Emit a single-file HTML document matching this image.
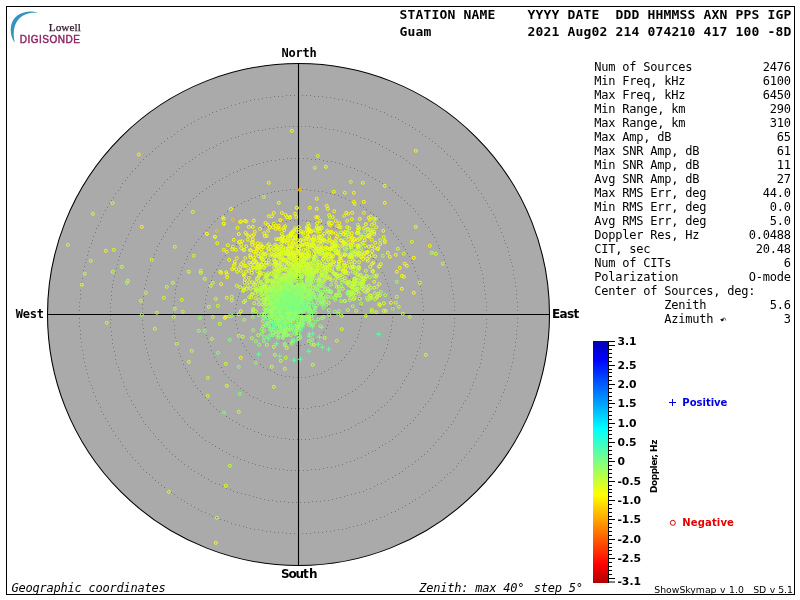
<!DOCTYPE html>
<html lang="en"><head><meta charset="utf-8"><title>Skymap</title>
<style>
html,body{margin:0;padding:0;background:#fff}
body{width:800px;height:600px;position:relative;overflow:hidden;color:#000}
svg{position:absolute;left:0;top:0}
</style></head><body>
<svg width="800" height="600" viewBox="0 0 800 600">
<defs><linearGradient id="cb" x1="0" y1="0" x2="0" y2="1">
<stop offset="0.0039" stop-color="#0000b4"/>
<stop offset="0.0759" stop-color="#0000ff"/>
<stop offset="0.1798" stop-color="#005cff"/>
<stop offset="0.2598" stop-color="#00a3ff"/>
<stop offset="0.3637" stop-color="#00ffff"/>
<stop offset="0.4197" stop-color="#34ffca"/>
<stop offset="0.4997" stop-color="#80ff80"/>
<stop offset="0.5796" stop-color="#cbff34"/>
<stop offset="0.6356" stop-color="#ffff00"/>
<stop offset="0.7395" stop-color="#ffa300"/>
<stop offset="0.8195" stop-color="#ff5c00"/>
<stop offset="0.9235" stop-color="#ff0000"/>
<stop offset="0.9954" stop-color="#b40000"/>
</linearGradient></defs>
<rect x="6.5" y="6.5" width="788" height="588" fill="none" stroke="#000" stroke-width="1"/>
<circle cx="298.5" cy="314.5" r="251.0" fill="#aaaaaa" stroke="#000" stroke-width="1.05"/>
<path d="M329 314h1v1h-1zM329 310h1v1h-1zM328 306h1v1h-1zM327 302h1v1h-1zM325 299h1v1h-1zM323 295h1v1h-1zM320 292h1v1h-1zM317 290h1v1h-1zM314 287h1v1h-1zM310 286h1v1h-1zM307 284h1v1h-1zM303 283h1v1h-1zM299 283h1v1h-1zM295 283h1v1h-1zM291 284h1v1h-1zM287 285h1v1h-1zM283 287h1v1h-1zM280 289h1v1h-1zM277 291h1v1h-1zM274 294h1v1h-1zM272 298h1v1h-1zM270 301h1v1h-1zM268 305h1v1h-1zM267 309h1v1h-1zM267 313h1v1h-1zM267 317h1v1h-1zM268 321h1v1h-1zM269 324h1v1h-1zM270 328h1v1h-1zM272 332h1v1h-1zM275 335h1v1h-1zM278 337h1v1h-1zM281 340h1v1h-1zM284 342h1v1h-1zM288 343h1v1h-1zM292 344h1v1h-1zM296 345h1v1h-1zM300 345h1v1h-1zM304 344h1v1h-1zM308 343h1v1h-1zM311 342h1v1h-1zM315 340h1v1h-1zM318 338h1v1h-1zM321 335h1v1h-1zM323 332h1v1h-1zM326 328h1v1h-1zM327 325h1v1h-1zM328 321h1v1h-1zM329 317h1v1h-1zM361 314h1v1h-1zM361 310h1v1h-1zM360 306h1v1h-1zM360 302h1v1h-1zM359 298h1v1h-1zM358 294h1v1h-1zM356 291h1v1h-1zM355 287h1v1h-1zM353 283h1v1h-1zM351 280h1v1h-1zM349 277h1v1h-1zM346 273h1v1h-1zM344 271h1v1h-1zM341 268h1v1h-1zM338 265h1v1h-1zM335 263h1v1h-1zM331 260h1v1h-1zM328 258h1v1h-1zM324 257h1v1h-1zM320 255h1v1h-1zM317 254h1v1h-1zM313 253h1v1h-1zM309 252h1v1h-1zM305 251h1v1h-1zM301 251h1v1h-1zM297 251h1v1h-1zM293 251h1v1h-1zM289 252h1v1h-1zM285 252h1v1h-1zM281 253h1v1h-1zM277 254h1v1h-1zM274 256h1v1h-1zM270 258h1v1h-1zM266 259h1v1h-1zM263 262h1v1h-1zM260 264h1v1h-1zM257 266h1v1h-1zM254 269h1v1h-1zM251 272h1v1h-1zM248 275h1v1h-1zM246 278h1v1h-1zM244 282h1v1h-1zM242 285h1v1h-1zM240 289h1v1h-1zM239 293h1v1h-1zM238 296h1v1h-1zM237 300h1v1h-1zM236 304h1v1h-1zM235 308h1v1h-1zM235 312h1v1h-1zM235 316h1v1h-1zM235 320h1v1h-1zM236 324h1v1h-1zM237 328h1v1h-1zM238 332h1v1h-1zM239 336h1v1h-1zM240 339h1v1h-1zM242 343h1v1h-1zM244 346h1v1h-1zM246 350h1v1h-1zM249 353h1v1h-1zM251 356h1v1h-1zM254 359h1v1h-1zM257 362h1v1h-1zM260 364h1v1h-1zM263 367h1v1h-1zM267 369h1v1h-1zM270 370h1v1h-1zM274 372h1v1h-1zM277 374h1v1h-1zM281 375h1v1h-1zM285 376h1v1h-1zM289 376h1v1h-1zM293 377h1v1h-1zM297 377h1v1h-1zM301 377h1v1h-1zM305 377h1v1h-1zM309 376h1v1h-1zM313 375h1v1h-1zM317 374h1v1h-1zM321 373h1v1h-1zM324 371h1v1h-1zM328 369h1v1h-1zM331 367h1v1h-1zM335 365h1v1h-1zM338 363h1v1h-1zM341 360h1v1h-1zM344 357h1v1h-1zM346 354h1v1h-1zM349 351h1v1h-1zM351 348h1v1h-1zM353 345h1v1h-1zM355 341h1v1h-1zM357 337h1v1h-1zM358 334h1v1h-1zM359 330h1v1h-1zM360 326h1v1h-1zM361 322h1v1h-1zM361 318h1v1h-1zM392 314h1v1h-1zM392 310h1v1h-1zM392 306h1v1h-1zM391 302h1v1h-1zM391 298h1v1h-1zM390 294h1v1h-1zM389 290h1v1h-1zM388 286h1v1h-1zM387 283h1v1h-1zM385 279h1v1h-1zM384 275h1v1h-1zM382 272h1v1h-1zM380 268h1v1h-1zM378 265h1v1h-1zM376 261h1v1h-1zM373 258h1v1h-1zM371 255h1v1h-1zM368 252h1v1h-1zM366 249h1v1h-1zM363 246h1v1h-1zM360 243h1v1h-1zM357 241h1v1h-1zM354 238h1v1h-1zM350 236h1v1h-1zM347 234h1v1h-1zM344 232h1v1h-1zM340 230h1v1h-1zM336 228h1v1h-1zM333 227h1v1h-1zM329 225h1v1h-1zM325 224h1v1h-1zM321 223h1v1h-1zM318 222h1v1h-1zM314 221h1v1h-1zM310 221h1v1h-1zM306 220h1v1h-1zM302 220h1v1h-1zM298 220h1v1h-1zM294 220h1v1h-1zM290 220h1v1h-1zM286 221h1v1h-1zM282 221h1v1h-1zM278 222h1v1h-1zM274 223h1v1h-1zM270 224h1v1h-1zM266 226h1v1h-1zM263 227h1v1h-1zM259 229h1v1h-1zM255 230h1v1h-1zM252 232h1v1h-1zM248 234h1v1h-1zM245 236h1v1h-1zM242 239h1v1h-1zM239 241h1v1h-1zM236 244h1v1h-1zM233 246h1v1h-1zM230 249h1v1h-1zM227 252h1v1h-1zM225 255h1v1h-1zM222 259h1v1h-1zM220 262h1v1h-1zM218 265h1v1h-1zM216 269h1v1h-1zM214 272h1v1h-1zM212 276h1v1h-1zM211 280h1v1h-1zM209 283h1v1h-1zM208 287h1v1h-1zM207 291h1v1h-1zM206 295h1v1h-1zM205 299h1v1h-1zM205 303h1v1h-1zM204 307h1v1h-1zM204 311h1v1h-1zM204 315h1v1h-1zM204 319h1v1h-1zM204 323h1v1h-1zM205 327h1v1h-1zM205 331h1v1h-1zM206 335h1v1h-1zM207 338h1v1h-1zM208 342h1v1h-1zM210 346h1v1h-1zM211 350h1v1h-1zM213 353h1v1h-1zM214 357h1v1h-1zM216 361h1v1h-1zM218 364h1v1h-1zM221 367h1v1h-1zM223 371h1v1h-1zM225 374h1v1h-1zM228 377h1v1h-1zM231 380h1v1h-1zM234 382h1v1h-1zM237 385h1v1h-1zM240 388h1v1h-1zM243 390h1v1h-1zM246 392h1v1h-1zM249 395h1v1h-1zM253 397h1v1h-1zM257 398h1v1h-1zM260 400h1v1h-1zM264 402h1v1h-1zM268 403h1v1h-1zM271 404h1v1h-1zM275 405h1v1h-1zM279 406h1v1h-1zM283 407h1v1h-1zM287 407h1v1h-1zM291 408h1v1h-1zM295 408h1v1h-1zM299 408h1v1h-1zM303 408h1v1h-1zM307 408h1v1h-1zM311 407h1v1h-1zM315 406h1v1h-1zM319 406h1v1h-1zM323 405h1v1h-1zM327 404h1v1h-1zM330 402h1v1h-1zM334 401h1v1h-1zM338 399h1v1h-1zM341 397h1v1h-1zM345 395h1v1h-1zM348 393h1v1h-1zM352 391h1v1h-1zM355 389h1v1h-1zM358 386h1v1h-1zM361 384h1v1h-1zM364 381h1v1h-1zM367 378h1v1h-1zM369 375h1v1h-1zM372 372h1v1h-1zM374 369h1v1h-1zM377 366h1v1h-1zM379 362h1v1h-1zM381 359h1v1h-1zM383 355h1v1h-1zM384 352h1v1h-1zM386 348h1v1h-1zM387 344h1v1h-1zM388 340h1v1h-1zM389 336h1v1h-1zM390 332h1v1h-1zM391 329h1v1h-1zM391 325h1v1h-1zM392 321h1v1h-1zM392 317h1v1h-1zM423 314h1v1h-1zM423 310h1v1h-1zM423 306h1v1h-1zM422 302h1v1h-1zM422 298h1v1h-1zM421 294h1v1h-1zM421 290h1v1h-1zM420 286h1v1h-1zM419 282h1v1h-1zM418 278h1v1h-1zM417 275h1v1h-1zM415 271h1v1h-1zM414 267h1v1h-1zM412 263h1v1h-1zM411 260h1v1h-1zM409 256h1v1h-1zM407 253h1v1h-1zM405 249h1v1h-1zM403 246h1v1h-1zM401 243h1v1h-1zM398 239h1v1h-1zM396 236h1v1h-1zM393 233h1v1h-1zM391 230h1v1h-1zM388 227h1v1h-1zM385 224h1v1h-1zM382 222h1v1h-1zM379 219h1v1h-1zM376 216h1v1h-1zM373 214h1v1h-1zM370 212h1v1h-1zM366 209h1v1h-1zM363 207h1v1h-1zM360 205h1v1h-1zM356 203h1v1h-1zM352 201h1v1h-1zM349 200h1v1h-1zM345 198h1v1h-1zM341 197h1v1h-1zM338 195h1v1h-1zM334 194h1v1h-1zM330 193h1v1h-1zM326 192h1v1h-1zM322 191h1v1h-1zM318 191h1v1h-1zM314 190h1v1h-1zM310 190h1v1h-1zM306 189h1v1h-1zM302 189h1v1h-1zM298 189h1v1h-1zM294 189h1v1h-1zM290 189h1v1h-1zM286 190h1v1h-1zM282 190h1v1h-1zM278 191h1v1h-1zM274 191h1v1h-1zM271 192h1v1h-1zM267 193h1v1h-1zM263 194h1v1h-1zM259 195h1v1h-1zM255 197h1v1h-1zM251 198h1v1h-1zM248 200h1v1h-1zM244 201h1v1h-1zM241 203h1v1h-1zM237 205h1v1h-1zM234 207h1v1h-1zM230 209h1v1h-1zM227 211h1v1h-1zM224 214h1v1h-1zM220 216h1v1h-1zM217 218h1v1h-1zM214 221h1v1h-1zM211 224h1v1h-1zM209 227h1v1h-1zM206 230h1v1h-1zM203 233h1v1h-1zM201 236h1v1h-1zM198 239h1v1h-1zM196 242h1v1h-1zM194 245h1v1h-1zM191 249h1v1h-1zM189 252h1v1h-1zM187 256h1v1h-1zM186 259h1v1h-1zM184 263h1v1h-1zM182 267h1v1h-1zM181 270h1v1h-1zM180 274h1v1h-1zM178 278h1v1h-1zM177 282h1v1h-1zM176 286h1v1h-1zM175 289h1v1h-1zM175 293h1v1h-1zM174 297h1v1h-1zM174 301h1v1h-1zM173 305h1v1h-1zM173 309h1v1h-1zM173 313h1v1h-1zM173 317h1v1h-1zM173 321h1v1h-1zM174 325h1v1h-1zM174 329h1v1h-1zM174 333h1v1h-1zM175 337h1v1h-1zM176 341h1v1h-1zM177 345h1v1h-1zM178 349h1v1h-1zM179 353h1v1h-1zM180 356h1v1h-1zM182 360h1v1h-1zM183 364h1v1h-1zM185 368h1v1h-1zM187 371h1v1h-1zM189 375h1v1h-1zM191 378h1v1h-1zM193 381h1v1h-1zM195 385h1v1h-1zM197 388h1v1h-1zM200 391h1v1h-1zM202 394h1v1h-1zM205 397h1v1h-1zM208 400h1v1h-1zM210 403h1v1h-1zM213 406h1v1h-1zM216 409h1v1h-1zM219 411h1v1h-1zM223 414h1v1h-1zM226 416h1v1h-1zM229 418h1v1h-1zM232 420h1v1h-1zM236 422h1v1h-1zM239 424h1v1h-1zM243 426h1v1h-1zM247 428h1v1h-1zM250 429h1v1h-1zM254 431h1v1h-1zM258 432h1v1h-1zM261 434h1v1h-1zM265 435h1v1h-1zM269 436h1v1h-1zM273 436h1v1h-1zM277 437h1v1h-1zM281 438h1v1h-1zM285 438h1v1h-1zM289 439h1v1h-1zM293 439h1v1h-1zM297 439h1v1h-1zM301 439h1v1h-1zM305 439h1v1h-1zM309 439h1v1h-1zM313 438h1v1h-1zM317 438h1v1h-1zM321 437h1v1h-1zM325 436h1v1h-1zM329 435h1v1h-1zM332 434h1v1h-1zM336 433h1v1h-1zM340 432h1v1h-1zM344 430h1v1h-1zM348 429h1v1h-1zM351 427h1v1h-1zM355 425h1v1h-1zM358 423h1v1h-1zM362 421h1v1h-1zM365 419h1v1h-1zM369 417h1v1h-1zM372 415h1v1h-1zM375 412h1v1h-1zM378 410h1v1h-1zM381 407h1v1h-1zM384 405h1v1h-1zM387 402h1v1h-1zM390 399h1v1h-1zM392 396h1v1h-1zM395 393h1v1h-1zM397 390h1v1h-1zM400 387h1v1h-1zM402 383h1v1h-1zM404 380h1v1h-1zM406 376h1v1h-1zM408 373h1v1h-1zM410 369h1v1h-1zM412 366h1v1h-1zM413 362h1v1h-1zM415 358h1v1h-1zM416 355h1v1h-1zM417 351h1v1h-1zM419 347h1v1h-1zM420 343h1v1h-1zM420 339h1v1h-1zM421 335h1v1h-1zM422 331h1v1h-1zM422 327h1v1h-1zM423 323h1v1h-1zM423 319h1v1h-1zM454 314h1v1h-1zM454 310h1v1h-1zM454 306h1v1h-1zM454 302h1v1h-1zM453 298h1v1h-1zM453 294h1v1h-1zM452 290h1v1h-1zM451 286h1v1h-1zM451 282h1v1h-1zM450 278h1v1h-1zM449 274h1v1h-1zM448 271h1v1h-1zM447 267h1v1h-1zM445 263h1v1h-1zM444 259h1v1h-1zM443 255h1v1h-1zM441 252h1v1h-1zM439 248h1v1h-1zM438 245h1v1h-1zM436 241h1v1h-1zM434 237h1v1h-1zM432 234h1v1h-1zM430 231h1v1h-1zM428 227h1v1h-1zM425 224h1v1h-1zM423 221h1v1h-1zM421 218h1v1h-1zM418 214h1v1h-1zM415 211h1v1h-1zM413 208h1v1h-1zM410 205h1v1h-1zM407 203h1v1h-1zM404 200h1v1h-1zM401 197h1v1h-1zM398 195h1v1h-1zM395 192h1v1h-1zM392 190h1v1h-1zM389 187h1v1h-1zM386 185h1v1h-1zM382 183h1v1h-1zM379 181h1v1h-1zM375 179h1v1h-1zM372 177h1v1h-1zM368 175h1v1h-1zM365 173h1v1h-1zM361 171h1v1h-1zM357 170h1v1h-1zM354 168h1v1h-1zM350 167h1v1h-1zM346 166h1v1h-1zM342 164h1v1h-1zM339 163h1v1h-1zM335 162h1v1h-1zM331 161h1v1h-1zM327 161h1v1h-1zM323 160h1v1h-1zM319 159h1v1h-1zM315 159h1v1h-1zM311 159h1v1h-1zM307 158h1v1h-1zM303 158h1v1h-1zM299 158h1v1h-1zM295 158h1v1h-1zM291 158h1v1h-1zM287 158h1v1h-1zM283 159h1v1h-1zM279 159h1v1h-1zM275 160h1v1h-1zM271 160h1v1h-1zM267 161h1v1h-1zM263 162h1v1h-1zM259 163h1v1h-1zM256 164h1v1h-1zM252 165h1v1h-1zM248 166h1v1h-1zM244 168h1v1h-1zM240 169h1v1h-1zM237 171h1v1h-1zM233 172h1v1h-1zM229 174h1v1h-1zM226 176h1v1h-1zM222 178h1v1h-1zM219 180h1v1h-1zM215 182h1v1h-1zM212 184h1v1h-1zM209 186h1v1h-1zM206 188h1v1h-1zM202 191h1v1h-1zM199 193h1v1h-1zM196 196h1v1h-1zM193 198h1v1h-1zM190 201h1v1h-1zM187 204h1v1h-1zM185 207h1v1h-1zM182 210h1v1h-1zM179 213h1v1h-1zM177 216h1v1h-1zM174 219h1v1h-1zM172 222h1v1h-1zM170 226h1v1h-1zM167 229h1v1h-1zM165 232h1v1h-1zM163 236h1v1h-1zM161 239h1v1h-1zM159 243h1v1h-1zM157 246h1v1h-1zM156 250h1v1h-1zM154 254h1v1h-1zM153 257h1v1h-1zM151 261h1v1h-1zM150 265h1v1h-1zM149 269h1v1h-1zM148 272h1v1h-1zM147 276h1v1h-1zM146 280h1v1h-1zM145 284h1v1h-1zM144 288h1v1h-1zM144 292h1v1h-1zM143 296h1v1h-1zM143 300h1v1h-1zM142 304h1v1h-1zM142 308h1v1h-1zM142 312h1v1h-1zM142 316h1v1h-1zM142 320h1v1h-1zM142 324h1v1h-1zM143 328h1v1h-1zM143 332h1v1h-1zM144 336h1v1h-1zM144 340h1v1h-1zM145 344h1v1h-1zM146 348h1v1h-1zM147 352h1v1h-1zM148 355h1v1h-1zM149 359h1v1h-1zM150 363h1v1h-1zM151 367h1v1h-1zM153 371h1v1h-1zM154 374h1v1h-1zM156 378h1v1h-1zM157 382h1v1h-1zM159 385h1v1h-1zM161 389h1v1h-1zM163 392h1v1h-1zM165 396h1v1h-1zM167 399h1v1h-1zM169 402h1v1h-1zM172 406h1v1h-1zM174 409h1v1h-1zM177 412h1v1h-1zM179 415h1v1h-1zM182 418h1v1h-1zM184 421h1v1h-1zM187 424h1v1h-1zM190 427h1v1h-1zM193 429h1v1h-1zM196 432h1v1h-1zM199 435h1v1h-1zM202 437h1v1h-1zM205 440h1v1h-1zM209 442h1v1h-1zM212 444h1v1h-1zM215 446h1v1h-1zM219 448h1v1h-1zM222 450h1v1h-1zM226 452h1v1h-1zM229 454h1v1h-1zM233 456h1v1h-1zM237 457h1v1h-1zM240 459h1v1h-1zM244 460h1v1h-1zM248 462h1v1h-1zM252 463h1v1h-1zM255 464h1v1h-1zM259 465h1v1h-1zM263 466h1v1h-1zM267 467h1v1h-1zM271 468h1v1h-1zM275 468h1v1h-1zM279 469h1v1h-1zM283 469h1v1h-1zM287 470h1v1h-1zM291 470h1v1h-1zM295 470h1v1h-1zM299 470h1v1h-1zM303 470h1v1h-1zM307 470h1v1h-1zM311 469h1v1h-1zM315 469h1v1h-1zM319 469h1v1h-1zM323 468h1v1h-1zM327 467h1v1h-1zM331 467h1v1h-1zM335 466h1v1h-1zM338 465h1v1h-1zM342 464h1v1h-1zM346 462h1v1h-1zM350 461h1v1h-1zM354 460h1v1h-1zM357 458h1v1h-1zM361 457h1v1h-1zM365 455h1v1h-1zM368 453h1v1h-1zM372 451h1v1h-1zM375 450h1v1h-1zM379 447h1v1h-1zM382 445h1v1h-1zM385 443h1v1h-1zM389 441h1v1h-1zM392 439h1v1h-1zM395 436h1v1h-1zM398 434h1v1h-1zM401 431h1v1h-1zM404 428h1v1h-1zM407 425h1v1h-1zM410 423h1v1h-1zM413 420h1v1h-1zM415 417h1v1h-1zM418 414h1v1h-1zM420 411h1v1h-1zM423 407h1v1h-1zM425 404h1v1h-1zM428 401h1v1h-1zM430 398h1v1h-1zM432 394h1v1h-1zM434 391h1v1h-1zM436 387h1v1h-1zM438 384h1v1h-1zM439 380h1v1h-1zM441 376h1v1h-1zM443 373h1v1h-1zM444 369h1v1h-1zM445 365h1v1h-1zM447 361h1v1h-1zM448 358h1v1h-1zM449 354h1v1h-1zM450 350h1v1h-1zM451 346h1v1h-1zM451 342h1v1h-1zM452 338h1v1h-1zM453 334h1v1h-1zM453 330h1v1h-1zM454 326h1v1h-1zM454 322h1v1h-1zM454 318h1v1h-1zM486 314h1v1h-1zM486 310h1v1h-1zM486 306h1v1h-1zM486 302h1v1h-1zM485 298h1v1h-1zM485 294h1v1h-1zM484 290h1v1h-1zM484 286h1v1h-1zM483 282h1v1h-1zM483 278h1v1h-1zM482 274h1v1h-1zM481 270h1v1h-1zM480 267h1v1h-1zM479 263h1v1h-1zM478 259h1v1h-1zM477 255h1v1h-1zM475 251h1v1h-1zM474 247h1v1h-1zM472 244h1v1h-1zM471 240h1v1h-1zM469 236h1v1h-1zM468 233h1v1h-1zM466 229h1v1h-1zM464 226h1v1h-1zM462 222h1v1h-1zM460 219h1v1h-1zM458 215h1v1h-1zM456 212h1v1h-1zM454 209h1v1h-1zM451 205h1v1h-1zM449 202h1v1h-1zM447 199h1v1h-1zM444 196h1v1h-1zM442 193h1v1h-1zM439 190h1v1h-1zM436 187h1v1h-1zM433 184h1v1h-1zM431 181h1v1h-1zM428 178h1v1h-1zM425 175h1v1h-1zM422 173h1v1h-1zM419 170h1v1h-1zM416 167h1v1h-1zM413 165h1v1h-1zM409 163h1v1h-1zM406 160h1v1h-1zM403 158h1v1h-1zM400 156h1v1h-1zM396 154h1v1h-1zM393 152h1v1h-1zM389 150h1v1h-1zM386 148h1v1h-1zM382 146h1v1h-1zM379 144h1v1h-1zM375 142h1v1h-1zM371 141h1v1h-1zM368 139h1v1h-1zM364 138h1v1h-1zM360 137h1v1h-1zM356 135h1v1h-1zM353 134h1v1h-1zM349 133h1v1h-1zM345 132h1v1h-1zM341 131h1v1h-1zM337 130h1v1h-1zM333 129h1v1h-1zM329 129h1v1h-1zM325 128h1v1h-1zM321 127h1v1h-1zM317 127h1v1h-1zM313 127h1v1h-1zM309 126h1v1h-1zM305 126h1v1h-1zM301 126h1v1h-1zM297 126h1v1h-1zM293 126h1v1h-1zM289 126h1v1h-1zM285 126h1v1h-1zM281 127h1v1h-1zM277 127h1v1h-1zM273 128h1v1h-1zM269 128h1v1h-1zM265 129h1v1h-1zM262 130h1v1h-1zM258 130h1v1h-1zM254 131h1v1h-1zM250 132h1v1h-1zM246 133h1v1h-1zM242 134h1v1h-1zM238 136h1v1h-1zM235 137h1v1h-1zM231 138h1v1h-1zM227 140h1v1h-1zM223 141h1v1h-1zM220 143h1v1h-1zM216 145h1v1h-1zM213 147h1v1h-1zM209 148h1v1h-1zM206 150h1v1h-1zM202 152h1v1h-1zM199 154h1v1h-1zM195 157h1v1h-1zM192 159h1v1h-1zM189 161h1v1h-1zM185 163h1v1h-1zM182 166h1v1h-1zM179 168h1v1h-1zM176 171h1v1h-1zM173 174h1v1h-1zM170 176h1v1h-1zM167 179h1v1h-1zM164 182h1v1h-1zM162 185h1v1h-1zM159 188h1v1h-1zM156 191h1v1h-1zM154 194h1v1h-1zM151 197h1v1h-1zM149 200h1v1h-1zM146 203h1v1h-1zM144 206h1v1h-1zM142 210h1v1h-1zM139 213h1v1h-1zM137 216h1v1h-1zM135 220h1v1h-1zM133 223h1v1h-1zM131 227h1v1h-1zM130 230h1v1h-1zM128 234h1v1h-1zM126 238h1v1h-1zM125 241h1v1h-1zM123 245h1v1h-1zM122 249h1v1h-1zM120 253h1v1h-1zM119 256h1v1h-1zM118 260h1v1h-1zM117 264h1v1h-1zM116 268h1v1h-1zM115 272h1v1h-1zM114 276h1v1h-1zM113 280h1v1h-1zM112 284h1v1h-1zM112 287h1v1h-1zM111 291h1v1h-1zM111 295h1v1h-1zM111 299h1v1h-1zM110 303h1v1h-1zM110 307h1v1h-1zM110 311h1v1h-1zM110 315h1v1h-1zM110 319h1v1h-1zM110 323h1v1h-1zM110 327h1v1h-1zM111 331h1v1h-1zM111 335h1v1h-1zM112 339h1v1h-1zM112 343h1v1h-1zM113 347h1v1h-1zM114 351h1v1h-1zM115 355h1v1h-1zM115 359h1v1h-1zM116 363h1v1h-1zM118 367h1v1h-1zM119 370h1v1h-1zM120 374h1v1h-1zM121 378h1v1h-1zM123 382h1v1h-1zM124 386h1v1h-1zM126 389h1v1h-1zM127 393h1v1h-1zM129 396h1v1h-1zM131 400h1v1h-1zM133 404h1v1h-1zM135 407h1v1h-1zM137 411h1v1h-1zM139 414h1v1h-1zM141 417h1v1h-1zM143 421h1v1h-1zM145 424h1v1h-1zM148 427h1v1h-1zM150 430h1v1h-1zM153 433h1v1h-1zM155 436h1v1h-1zM158 439h1v1h-1zM161 442h1v1h-1zM163 445h1v1h-1zM166 448h1v1h-1zM169 451h1v1h-1zM172 454h1v1h-1zM175 456h1v1h-1zM178 459h1v1h-1zM181 461h1v1h-1zM184 464h1v1h-1zM188 466h1v1h-1zM191 469h1v1h-1zM194 471h1v1h-1zM198 473h1v1h-1zM201 475h1v1h-1zM204 477h1v1h-1zM208 479h1v1h-1zM211 481h1v1h-1zM215 483h1v1h-1zM219 484h1v1h-1zM222 486h1v1h-1zM226 488h1v1h-1zM230 489h1v1h-1zM233 491h1v1h-1zM237 492h1v1h-1zM241 493h1v1h-1zM245 494h1v1h-1zM249 495h1v1h-1zM253 496h1v1h-1zM256 497h1v1h-1zM260 498h1v1h-1zM264 499h1v1h-1zM268 500h1v1h-1zM272 500h1v1h-1zM276 501h1v1h-1zM280 501h1v1h-1zM284 501h1v1h-1zM288 502h1v1h-1zM292 502h1v1h-1zM296 502h1v1h-1zM300 502h1v1h-1zM304 502h1v1h-1zM308 502h1v1h-1zM312 501h1v1h-1zM316 501h1v1h-1zM320 501h1v1h-1zM324 500h1v1h-1zM328 500h1v1h-1zM332 499h1v1h-1zM336 498h1v1h-1zM340 497h1v1h-1zM344 496h1v1h-1zM347 495h1v1h-1zM351 494h1v1h-1zM355 493h1v1h-1zM359 492h1v1h-1zM363 491h1v1h-1zM366 489h1v1h-1zM370 488h1v1h-1zM374 486h1v1h-1zM377 484h1v1h-1zM381 483h1v1h-1zM385 481h1v1h-1zM388 479h1v1h-1zM392 477h1v1h-1zM395 475h1v1h-1zM399 473h1v1h-1zM402 471h1v1h-1zM405 468h1v1h-1zM408 466h1v1h-1zM412 464h1v1h-1zM415 461h1v1h-1zM418 459h1v1h-1zM421 456h1v1h-1zM424 454h1v1h-1zM427 451h1v1h-1zM430 448h1v1h-1zM433 445h1v1h-1zM435 442h1v1h-1zM438 439h1v1h-1zM441 436h1v1h-1zM443 433h1v1h-1zM446 430h1v1h-1zM448 427h1v1h-1zM451 424h1v1h-1zM453 421h1v1h-1zM455 417h1v1h-1zM457 414h1v1h-1zM459 410h1v1h-1zM461 407h1v1h-1zM463 403h1v1h-1zM465 400h1v1h-1zM467 396h1v1h-1zM469 393h1v1h-1zM470 389h1v1h-1zM472 385h1v1h-1zM473 382h1v1h-1zM475 378h1v1h-1zM476 374h1v1h-1zM477 370h1v1h-1zM479 367h1v1h-1zM480 363h1v1h-1zM481 359h1v1h-1zM481 355h1v1h-1zM482 351h1v1h-1zM483 347h1v1h-1zM484 343h1v1h-1zM484 339h1v1h-1zM485 335h1v1h-1zM485 331h1v1h-1zM486 327h1v1h-1zM486 323h1v1h-1zM486 319h1v1h-1zM517 314h1v1h-1zM517 310h1v1h-1zM517 306h1v1h-1zM517 302h1v1h-1zM516 298h1v1h-1zM516 294h1v1h-1zM516 290h1v1h-1zM515 286h1v1h-1zM515 282h1v1h-1zM514 278h1v1h-1zM513 274h1v1h-1zM513 270h1v1h-1zM512 266h1v1h-1zM511 262h1v1h-1zM510 259h1v1h-1zM509 255h1v1h-1zM508 251h1v1h-1zM507 247h1v1h-1zM505 243h1v1h-1zM504 240h1v1h-1zM503 236h1v1h-1zM501 232h1v1h-1zM500 228h1v1h-1zM498 225h1v1h-1zM496 221h1v1h-1zM495 217h1v1h-1zM493 214h1v1h-1zM491 210h1v1h-1zM489 207h1v1h-1zM487 203h1v1h-1zM485 200h1v1h-1zM483 197h1v1h-1zM481 193h1v1h-1zM478 190h1v1h-1zM476 187h1v1h-1zM474 183h1v1h-1zM471 180h1v1h-1zM469 177h1v1h-1zM466 174h1v1h-1zM464 171h1v1h-1zM461 168h1v1h-1zM458 165h1v1h-1zM456 162h1v1h-1zM453 159h1v1h-1zM450 156h1v1h-1zM447 154h1v1h-1zM444 151h1v1h-1zM441 148h1v1h-1zM438 146h1v1h-1zM435 143h1v1h-1zM432 141h1v1h-1zM429 138h1v1h-1zM425 136h1v1h-1zM422 134h1v1h-1zM419 131h1v1h-1zM415 129h1v1h-1zM412 127h1v1h-1zM409 125h1v1h-1zM405 123h1v1h-1zM402 121h1v1h-1zM398 119h1v1h-1zM395 117h1v1h-1zM391 116h1v1h-1zM387 114h1v1h-1zM384 112h1v1h-1zM380 111h1v1h-1zM376 109h1v1h-1zM372 108h1v1h-1zM369 107h1v1h-1zM365 105h1v1h-1zM361 104h1v1h-1zM357 103h1v1h-1zM353 102h1v1h-1zM350 101h1v1h-1zM346 100h1v1h-1zM342 99h1v1h-1zM338 99h1v1h-1zM334 98h1v1h-1zM330 97h1v1h-1zM326 97h1v1h-1zM322 96h1v1h-1zM318 96h1v1h-1zM314 96h1v1h-1zM310 95h1v1h-1zM306 95h1v1h-1zM302 95h1v1h-1zM298 95h1v1h-1zM294 95h1v1h-1zM290 95h1v1h-1zM286 95h1v1h-1zM282 96h1v1h-1zM278 96h1v1h-1zM274 96h1v1h-1zM270 97h1v1h-1zM266 97h1v1h-1zM262 98h1v1h-1zM258 99h1v1h-1zM254 99h1v1h-1zM250 100h1v1h-1zM246 101h1v1h-1zM243 102h1v1h-1zM239 103h1v1h-1zM235 104h1v1h-1zM231 105h1v1h-1zM227 107h1v1h-1zM224 108h1v1h-1zM220 109h1v1h-1zM216 111h1v1h-1zM212 112h1v1h-1zM209 114h1v1h-1zM205 116h1v1h-1zM201 117h1v1h-1zM198 119h1v1h-1zM194 121h1v1h-1zM191 123h1v1h-1zM187 125h1v1h-1zM184 127h1v1h-1zM181 129h1v1h-1zM177 131h1v1h-1zM174 134h1v1h-1zM171 136h1v1h-1zM167 138h1v1h-1zM164 141h1v1h-1zM161 143h1v1h-1zM158 146h1v1h-1zM155 148h1v1h-1zM152 151h1v1h-1zM149 154h1v1h-1zM146 156h1v1h-1zM143 159h1v1h-1zM140 162h1v1h-1zM138 165h1v1h-1zM135 168h1v1h-1zM132 171h1v1h-1zM130 174h1v1h-1zM127 177h1v1h-1zM125 180h1v1h-1zM122 183h1v1h-1zM120 187h1v1h-1zM118 190h1v1h-1zM115 193h1v1h-1zM113 197h1v1h-1zM111 200h1v1h-1zM109 203h1v1h-1zM107 207h1v1h-1zM105 210h1v1h-1zM103 214h1v1h-1zM101 217h1v1h-1zM100 221h1v1h-1zM98 225h1v1h-1zM96 228h1v1h-1zM95 232h1v1h-1zM93 236h1v1h-1zM92 240h1v1h-1zM91 243h1v1h-1zM89 247h1v1h-1zM88 251h1v1h-1zM87 255h1v1h-1zM86 259h1v1h-1zM85 262h1v1h-1zM84 266h1v1h-1zM83 270h1v1h-1zM83 274h1v1h-1zM82 278h1v1h-1zM81 282h1v1h-1zM81 286h1v1h-1zM80 290h1v1h-1zM80 294h1v1h-1zM80 298h1v1h-1zM79 302h1v1h-1zM79 306h1v1h-1zM79 310h1v1h-1zM79 314h1v1h-1zM79 318h1v1h-1zM79 322h1v1h-1zM79 326h1v1h-1zM80 330h1v1h-1zM80 334h1v1h-1zM80 338h1v1h-1zM81 342h1v1h-1zM81 346h1v1h-1zM82 350h1v1h-1zM83 354h1v1h-1zM83 358h1v1h-1zM84 362h1v1h-1zM85 366h1v1h-1zM86 369h1v1h-1zM87 373h1v1h-1zM88 377h1v1h-1zM89 381h1v1h-1zM91 385h1v1h-1zM92 388h1v1h-1zM93 392h1v1h-1zM95 396h1v1h-1zM96 400h1v1h-1zM98 403h1v1h-1zM100 407h1v1h-1zM101 411h1v1h-1zM103 414h1v1h-1zM105 418h1v1h-1zM107 421h1v1h-1zM109 425h1v1h-1zM111 428h1v1h-1zM113 431h1v1h-1zM115 435h1v1h-1zM118 438h1v1h-1zM120 441h1v1h-1zM122 445h1v1h-1zM125 448h1v1h-1zM127 451h1v1h-1zM130 454h1v1h-1zM132 457h1v1h-1zM135 460h1v1h-1zM138 463h1v1h-1zM140 466h1v1h-1zM143 469h1v1h-1zM146 472h1v1h-1zM149 474h1v1h-1zM152 477h1v1h-1zM155 480h1v1h-1zM158 482h1v1h-1zM161 485h1v1h-1zM164 487h1v1h-1zM167 490h1v1h-1zM171 492h1v1h-1zM174 494h1v1h-1zM177 497h1v1h-1zM181 499h1v1h-1zM184 501h1v1h-1zM187 503h1v1h-1zM191 505h1v1h-1zM194 507h1v1h-1zM198 509h1v1h-1zM201 511h1v1h-1zM205 512h1v1h-1zM209 514h1v1h-1zM212 516h1v1h-1zM216 517h1v1h-1zM220 519h1v1h-1zM224 520h1v1h-1zM227 521h1v1h-1zM231 523h1v1h-1zM235 524h1v1h-1zM239 525h1v1h-1zM243 526h1v1h-1zM246 527h1v1h-1zM250 528h1v1h-1zM254 529h1v1h-1zM258 529h1v1h-1zM262 530h1v1h-1zM266 531h1v1h-1zM270 531h1v1h-1zM274 532h1v1h-1zM278 532h1v1h-1zM282 532h1v1h-1zM286 533h1v1h-1zM290 533h1v1h-1zM294 533h1v1h-1zM298 533h1v1h-1zM302 533h1v1h-1zM306 533h1v1h-1zM310 533h1v1h-1zM314 532h1v1h-1zM318 532h1v1h-1zM322 532h1v1h-1zM326 531h1v1h-1zM330 531h1v1h-1zM334 530h1v1h-1zM338 529h1v1h-1zM342 529h1v1h-1zM346 528h1v1h-1zM349 527h1v1h-1zM353 526h1v1h-1zM357 525h1v1h-1zM361 524h1v1h-1zM365 523h1v1h-1zM369 521h1v1h-1zM372 520h1v1h-1zM376 519h1v1h-1zM380 517h1v1h-1zM384 516h1v1h-1zM387 514h1v1h-1zM391 512h1v1h-1zM395 511h1v1h-1zM398 509h1v1h-1zM402 507h1v1h-1zM405 505h1v1h-1zM409 503h1v1h-1zM412 501h1v1h-1zM415 499h1v1h-1zM419 497h1v1h-1zM422 494h1v1h-1zM425 492h1v1h-1zM429 490h1v1h-1zM432 487h1v1h-1zM435 485h1v1h-1zM438 482h1v1h-1zM441 480h1v1h-1zM444 477h1v1h-1zM447 474h1v1h-1zM450 472h1v1h-1zM453 469h1v1h-1zM456 466h1v1h-1zM458 463h1v1h-1zM461 460h1v1h-1zM464 457h1v1h-1zM466 454h1v1h-1zM469 451h1v1h-1zM471 448h1v1h-1zM474 445h1v1h-1zM476 441h1v1h-1zM478 438h1v1h-1zM481 435h1v1h-1zM483 431h1v1h-1zM485 428h1v1h-1zM487 425h1v1h-1zM489 421h1v1h-1zM491 418h1v1h-1zM493 414h1v1h-1zM495 411h1v1h-1zM496 407h1v1h-1zM498 403h1v1h-1zM500 400h1v1h-1zM501 396h1v1h-1zM503 392h1v1h-1zM504 389h1v1h-1zM505 385h1v1h-1zM507 381h1v1h-1zM508 377h1v1h-1zM509 373h1v1h-1zM510 369h1v1h-1zM511 366h1v1h-1zM512 362h1v1h-1zM513 358h1v1h-1zM513 354h1v1h-1zM514 350h1v1h-1zM515 346h1v1h-1zM515 342h1v1h-1zM516 338h1v1h-1zM516 334h1v1h-1zM516 330h1v1h-1zM517 326h1v1h-1zM517 322h1v1h-1zM517 318h1v1h-1z" fill="#787878"/>
<path d="M298.5 63.5V565.5M47.5 314.5H549.5" stroke="#000" stroke-width="1.1" fill="none"/>
<g fill="none" stroke-width="1"><circle cx="138.8" cy="154.5" r="1.5" stroke="#fff800"/><circle cx="112.5" cy="203.0" r="1.5" stroke="#c8ff37"/><circle cx="231.0" cy="209.0" r="1.5" stroke="#f9ff06"/><circle cx="291.8" cy="130.8" r="1.5" stroke="#fffc00"/><circle cx="415.8" cy="150.8" r="1.5" stroke="#fff700"/><circle cx="317.8" cy="155.8" r="1.5" stroke="#cbff34"/><circle cx="314.8" cy="167.8" r="1.5" stroke="#c8ff37"/><circle cx="325.8" cy="166.8" r="1.5" stroke="#f8ff07"/><circle cx="268.8" cy="182.8" r="1.5" stroke="#fff800"/><circle cx="299.8" cy="189.8" r="1.5" stroke="#ffbf00"/><circle cx="350.8" cy="181.8" r="1.5" stroke="#c6ff39"/><circle cx="362.8" cy="182.8" r="1.5" stroke="#fcff03"/><circle cx="384.8" cy="185.8" r="1.5" stroke="#f6ff09"/><circle cx="333.8" cy="191.8" r="1.5" stroke="#f9ff06"/><circle cx="344.8" cy="192.8" r="1.5" stroke="#e6ff19"/><circle cx="353.8" cy="192.8" r="1.5" stroke="#fffd00"/><circle cx="263.8" cy="196.8" r="1.5" stroke="#bbff44"/><circle cx="278.8" cy="202.8" r="1.5" stroke="#fffd00"/><circle cx="316.8" cy="198.8" r="1.5" stroke="#fffb00"/><circle cx="353.8" cy="201.8" r="1.5" stroke="#fff900"/><circle cx="354.8" cy="203.8" r="1.5" stroke="#e5ff1a"/><circle cx="363.8" cy="201.8" r="1.5" stroke="#feff01"/><circle cx="384.8" cy="202.8" r="1.5" stroke="#fffd00"/><circle cx="296.8" cy="207.8" r="1.5" stroke="#ffff00"/><circle cx="309.8" cy="207.8" r="1.5" stroke="#fdff02"/><circle cx="316.8" cy="208.8" r="1.5" stroke="#fbff04"/><circle cx="326.8" cy="205.8" r="1.5" stroke="#f8ff07"/><circle cx="327.8" cy="208.8" r="1.5" stroke="#feff01"/><circle cx="92.8" cy="213.8" r="1.5" stroke="#d5ff2a"/><circle cx="67.8" cy="244.8" r="1.5" stroke="#c6ff39"/><circle cx="141.8" cy="226.8" r="1.5" stroke="#fff700"/><circle cx="192.8" cy="211.8" r="1.5" stroke="#ccff33"/><circle cx="105.8" cy="250.8" r="1.5" stroke="#fff700"/><circle cx="113.8" cy="249.8" r="1.5" stroke="#caff35"/><circle cx="90.8" cy="260.8" r="1.5" stroke="#cfff30"/><circle cx="84.8" cy="273.8" r="1.5" stroke="#c9ff36"/><circle cx="81.8" cy="284.8" r="1.5" stroke="#ebff14"/><circle cx="112.8" cy="271.8" r="1.5" stroke="#cbff34"/><circle cx="121.8" cy="266.8" r="1.5" stroke="#c5ff3a"/><circle cx="126.8" cy="282.8" r="1.5" stroke="#96ff69"/><circle cx="127.8" cy="280.8" r="1.5" stroke="#ccff33"/><circle cx="151.8" cy="259.8" r="1.5" stroke="#c7ff38"/><circle cx="174.8" cy="246.8" r="1.5" stroke="#cbff34"/><circle cx="193.8" cy="255.8" r="1.5" stroke="#c8ff37"/><circle cx="206.8" cy="233.8" r="1.5" stroke="#feff01"/><circle cx="216.8" cy="230.8" r="1.5" stroke="#ffc100"/><circle cx="214.8" cy="236.8" r="1.5" stroke="#fcff03"/><circle cx="223.8" cy="218.8" r="1.5" stroke="#fffa00"/><circle cx="223.8" cy="223.8" r="1.5" stroke="#f4ff0b"/><circle cx="232.8" cy="219.8" r="1.5" stroke="#ffc300"/><circle cx="188.8" cy="271.8" r="1.5" stroke="#fbff04"/><circle cx="200.8" cy="270.8" r="1.5" stroke="#caff35"/><circle cx="200.8" cy="272.8" r="1.5" stroke="#c5ff3a"/><circle cx="204.8" cy="278.8" r="1.5" stroke="#ceff31"/><circle cx="172.8" cy="282.8" r="1.5" stroke="#c5ff3a"/><circle cx="166.8" cy="286.8" r="1.5" stroke="#cbff34"/><circle cx="145.8" cy="292.8" r="1.5" stroke="#c3ff3c"/><circle cx="140.8" cy="300.8" r="1.5" stroke="#c7ff38"/><circle cx="163.8" cy="297.8" r="1.5" stroke="#caff35"/><circle cx="181.8" cy="299.8" r="1.5" stroke="#cfff30"/><circle cx="174.8" cy="308.8" r="1.5" stroke="#c6ff39"/><circle cx="182.8" cy="311.8" r="1.5" stroke="#c8ff37"/><circle cx="141.8" cy="314.8" r="1.5" stroke="#c1ff3e"/><circle cx="156.8" cy="312.8" r="1.5" stroke="#cdff32"/><circle cx="173.8" cy="316.8" r="1.5" stroke="#c7ff38"/><circle cx="106.8" cy="322.8" r="1.5" stroke="#c7ff38"/><circle cx="154.8" cy="328.8" r="1.5" stroke="#c9ff36"/><circle cx="176.8" cy="343.8" r="1.5" stroke="#c9ff36"/><circle cx="191.8" cy="350.8" r="1.5" stroke="#c9ff36"/><circle cx="199.8" cy="317.8" r="1.5" stroke="#92ff6d"/><circle cx="198.8" cy="330.8" r="1.5" stroke="#95ff6a"/><circle cx="204.8" cy="330.8" r="1.5" stroke="#91ff6e"/><circle cx="211.8" cy="338.8" r="1.5" stroke="#c7ff38"/><circle cx="217.8" cy="352.8" r="1.5" stroke="#85ff7a"/><circle cx="229.8" cy="339.8" r="1.5" stroke="#89ff76"/><circle cx="212.8" cy="316.8" r="1.5" stroke="#c4ff3b"/><circle cx="219.8" cy="323.8" r="1.5" stroke="#c6ff39"/><circle cx="224.8" cy="317.8" r="1.5" stroke="#fbff04"/><circle cx="225.8" cy="316.8" r="1.5" stroke="#feff01"/><circle cx="231.8" cy="315.8" r="1.5" stroke="#8aff75"/><circle cx="208.8" cy="306.8" r="1.5" stroke="#c0ff3f"/><circle cx="217.8" cy="305.8" r="1.5" stroke="#ccff33"/><circle cx="215.8" cy="298.8" r="1.5" stroke="#cfff30"/><circle cx="231.8" cy="296.8" r="1.5" stroke="#bfff40"/><circle cx="210.8" cy="285.8" r="1.5" stroke="#c9ff36"/><circle cx="212.8" cy="282.8" r="1.5" stroke="#c5ff3a"/><circle cx="415.8" cy="226.8" r="1.5" stroke="#faff05"/><circle cx="411.8" cy="241.8" r="1.5" stroke="#d1ff2e"/><circle cx="429.8" cy="245.8" r="1.5" stroke="#f0ff0f"/><circle cx="431.8" cy="252.8" r="1.5" stroke="#c0ff3f"/><circle cx="435.8" cy="253.8" r="1.5" stroke="#c9ff36"/><circle cx="442.8" cy="263.8" r="1.5" stroke="#c6ff39"/><circle cx="413.8" cy="257.8" r="1.5" stroke="#feff01"/><circle cx="397.8" cy="248.8" r="1.5" stroke="#d0ff2f"/><circle cx="403.8" cy="253.8" r="1.5" stroke="#cbff34"/><circle cx="395.8" cy="254.8" r="1.5" stroke="#fdff02"/><circle cx="387.8" cy="252.8" r="1.5" stroke="#f8ff07"/><circle cx="389.8" cy="256.8" r="1.5" stroke="#fbff04"/><circle cx="404.8" cy="263.8" r="1.5" stroke="#ffff00"/><circle cx="406.8" cy="265.8" r="1.5" stroke="#f7ff08"/><circle cx="399.8" cy="267.8" r="1.5" stroke="#fffb00"/><circle cx="396.8" cy="271.8" r="1.5" stroke="#faff05"/><circle cx="401.8" cy="275.8" r="1.5" stroke="#f8ff07"/><circle cx="403.8" cy="276.8" r="1.5" stroke="#fffd00"/><circle cx="396.8" cy="281.8" r="1.5" stroke="#99ff66"/><circle cx="419.8" cy="282.8" r="1.5" stroke="#d0ff2f"/><circle cx="401.8" cy="288.8" r="1.5" stroke="#feff01"/><circle cx="413.8" cy="292.8" r="1.5" stroke="#fcff03"/><circle cx="396.8" cy="296.8" r="1.5" stroke="#c1ff3e"/><circle cx="390.8" cy="302.8" r="1.5" stroke="#fff900"/><circle cx="395.8" cy="302.8" r="1.5" stroke="#caff35"/><circle cx="398.8" cy="306.8" r="1.5" stroke="#c7ff38"/><circle cx="392.8" cy="308.8" r="1.5" stroke="#8fff70"/><circle cx="385.8" cy="310.8" r="1.5" stroke="#d9ff26"/><circle cx="402.8" cy="313.8" r="1.5" stroke="#c6ff39"/><circle cx="409.8" cy="316.8" r="1.5" stroke="#bdff42"/><path d="M376.2 334.2h5m-2.5-2.5v5" stroke="#5bffa4"/><circle cx="425.8" cy="354.8" r="1.5" stroke="#d0ff2f"/><circle cx="188.8" cy="361.8" r="1.5" stroke="#cdff32"/><circle cx="225.8" cy="363.8" r="1.5" stroke="#c9ff36"/><circle cx="207.8" cy="377.8" r="1.5" stroke="#bcff43"/><circle cx="226.8" cy="385.8" r="1.5" stroke="#e2ff1d"/><circle cx="207.8" cy="395.8" r="1.5" stroke="#caff35"/><circle cx="223.8" cy="412.8" r="1.5" stroke="#85ff7a"/><circle cx="238.8" cy="411.8" r="1.5" stroke="#cbff34"/><circle cx="229.8" cy="465.8" r="1.5" stroke="#bfff40"/><circle cx="225.8" cy="485.8" r="1.5" stroke="#eaff15"/><circle cx="168.8" cy="491.8" r="1.5" stroke="#e8ff17"/><circle cx="238.8" cy="366.8" r="1.5" stroke="#8aff75"/><circle cx="239.8" cy="393.8" r="1.5" stroke="#86ff79"/><circle cx="238.8" cy="335.8" r="1.5" stroke="#c7ff38"/><circle cx="242.8" cy="336.8" r="1.5" stroke="#c9ff36"/><circle cx="240.8" cy="357.8" r="1.5" stroke="#fff500"/><circle cx="255.8" cy="362.8" r="1.5" stroke="#93ff6c"/><path d="M256.2 354.2h5m-2.5-2.5v5" stroke="#65ff9a"/><circle cx="271.8" cy="366.8" r="1.5" stroke="#ceff31"/><circle cx="284.8" cy="368.8" r="1.5" stroke="#c7ff38"/><circle cx="274.8" cy="354.8" r="1.5" stroke="#cdff32"/><path d="M277.2 356.2h5m-2.5-2.5v5" stroke="#5dffa2"/><circle cx="280.8" cy="360.8" r="1.5" stroke="#caff35"/><circle cx="285.8" cy="357.8" r="1.5" stroke="#ccff33"/><path d="M291.8 360.2h5m-2.5-2.5v5" stroke="#61ff9e"/><path d="M297.8 359.2h5m-2.5-2.5v5" stroke="#5fffa0"/><path d="M306.2 351.2h5m-2.5-2.5v5" stroke="#5cffa3"/><circle cx="312.8" cy="364.8" r="1.5" stroke="#cdff32"/><path d="M319.8 347.2h5m-2.5-2.5v5" stroke="#63ff9c"/><path d="M326.2 349.2h5m-2.5-2.5v5" stroke="#6aff95"/><circle cx="313.8" cy="344.8" r="1.5" stroke="#f5ff0a"/><circle cx="336.8" cy="340.8" r="1.5" stroke="#c2ff3d"/><circle cx="324.8" cy="337.8" r="1.5" stroke="#ccff33"/><circle cx="273.8" cy="386.8" r="1.5" stroke="#cdff32"/><circle cx="286.8" cy="347.8" r="1.5" stroke="#d2ff2d"/><circle cx="273.8" cy="346.8" r="1.5" stroke="#c9ff36"/><circle cx="259.2" cy="344.8" r="1.5" stroke="#8dff72"/><circle cx="216.8" cy="517.8" r="1.5" stroke="#bdff42"/><circle cx="215.8" cy="542.8" r="1.5" stroke="#feff01"/><circle cx="222.8" cy="217.5" r="1.5" stroke="#eaff15"/><circle cx="240.0" cy="221.9" r="1.5" stroke="#fff100"/><circle cx="241.0" cy="221.5" r="1.5" stroke="#f7ff08"/><circle cx="245.0" cy="221.0" r="1.5" stroke="#feff01"/><circle cx="246.5" cy="221.5" r="1.5" stroke="#fff600"/><circle cx="253.8" cy="220.6" r="1.5" stroke="#feff01"/><circle cx="206.9" cy="233.8" r="1.5" stroke="#fff600"/><circle cx="215.0" cy="236.9" r="1.5" stroke="#eaff15"/><circle cx="237.5" cy="227.8" r="1.5" stroke="#f8ff07"/><circle cx="238.8" cy="234.0" r="1.5" stroke="#fcff03"/><circle cx="245.6" cy="232.8" r="1.5" stroke="#fffe00"/><circle cx="248.8" cy="226.9" r="1.5" stroke="#fff300"/><circle cx="252.8" cy="226.9" r="1.5" stroke="#fffe00"/><circle cx="260.0" cy="228.8" r="1.5" stroke="#fff600"/><circle cx="233.8" cy="239.8" r="1.5" stroke="#fbff04"/><circle cx="239.8" cy="241.6" r="1.5" stroke="#fff300"/><circle cx="223.8" cy="249.8" r="1.5" stroke="#fffa00"/><circle cx="268.8" cy="216.2" r="1.5" stroke="#f8ff07"/><circle cx="271.9" cy="216.2" r="1.5" stroke="#f5ff0a"/><circle cx="273.8" cy="212.8" r="1.5" stroke="#fff800"/><circle cx="281.9" cy="213.0" r="1.5" stroke="#efff10"/><circle cx="285.6" cy="215.0" r="1.5" stroke="#faff05"/><circle cx="296.9" cy="207.8" r="1.5" stroke="#e0ff1f"/><circle cx="295.0" cy="213.8" r="1.5" stroke="#fff900"/><circle cx="296.2" cy="216.9" r="1.5" stroke="#fffb00"/><circle cx="281.2" cy="220.0" r="1.5" stroke="#ffc200"/><circle cx="265.6" cy="223.0" r="1.5" stroke="#fff800"/><circle cx="268.0" cy="225.0" r="1.5" stroke="#fffb00"/><circle cx="223.8" cy="223.8" r="1.5" stroke="#f7ff08"/><path d="M296.8 325.2h5m-2.5-2.5v5" stroke="#76ff89"/><circle cx="307.2" cy="277.2" r="1.5" stroke="#bcff43"/><circle cx="281.2" cy="302.8" r="1.5" stroke="#91ff6e"/><circle cx="277.8" cy="310.2" r="1.5" stroke="#81ff7e"/><circle cx="295.8" cy="270.8" r="1.5" stroke="#adff52"/><circle cx="273.8" cy="271.8" r="1.5" stroke="#d1ff2e"/><path d="M289.8 298.8h5m-2.5-2.5v5" stroke="#77ff88"/><circle cx="342.2" cy="245.8" r="1.5" stroke="#f6ff09"/><circle cx="285.2" cy="291.8" r="1.5" stroke="#93ff6c"/><circle cx="317.2" cy="278.2" r="1.5" stroke="#c1ff3e"/><circle cx="317.2" cy="231.8" r="1.5" stroke="#fcff03"/><circle cx="321.2" cy="240.8" r="1.5" stroke="#edff12"/><circle cx="285.8" cy="281.2" r="1.5" stroke="#beff41"/><circle cx="307.8" cy="251.8" r="1.5" stroke="#dcff23"/><circle cx="367.2" cy="258.8" r="1.5" stroke="#f5ff0a"/><circle cx="283.2" cy="278.8" r="1.5" stroke="#b2ff4d"/><circle cx="290.8" cy="276.8" r="1.5" stroke="#afff50"/><circle cx="340.2" cy="295.2" r="1.5" stroke="#bbff44"/><circle cx="226.2" cy="272.2" r="1.5" stroke="#edff12"/><circle cx="288.2" cy="291.2" r="1.5" stroke="#8fff70"/><circle cx="289.2" cy="267.8" r="1.5" stroke="#baff45"/><circle cx="337.2" cy="266.8" r="1.5" stroke="#cbff34"/><circle cx="301.2" cy="281.2" r="1.5" stroke="#a9ff56"/><circle cx="281.8" cy="297.2" r="1.5" stroke="#97ff68"/><circle cx="299.2" cy="257.2" r="1.5" stroke="#caff35"/><circle cx="314.8" cy="250.8" r="1.5" stroke="#ddff22"/><circle cx="338.8" cy="286.8" r="1.5" stroke="#abff54"/><circle cx="357.8" cy="290.8" r="1.5" stroke="#beff41"/><circle cx="276.2" cy="275.8" r="1.5" stroke="#b0ff4f"/><circle cx="309.8" cy="284.2" r="1.5" stroke="#a7ff58"/><circle cx="351.2" cy="245.2" r="1.5" stroke="#f3ff0c"/><circle cx="340.8" cy="240.2" r="1.5" stroke="#fcff03"/><circle cx="261.2" cy="282.8" r="1.5" stroke="#c9ff36"/><circle cx="275.8" cy="302.2" r="1.5" stroke="#89ff76"/><circle cx="282.2" cy="264.2" r="1.5" stroke="#c2ff3d"/><circle cx="246.2" cy="246.2" r="1.5" stroke="#eaff15"/><circle cx="263.8" cy="340.8" r="1.5" stroke="#89ff76"/><circle cx="270.8" cy="303.8" r="1.5" stroke="#96ff69"/><circle cx="370.2" cy="266.8" r="1.5" stroke="#e2ff1d"/><circle cx="321.8" cy="228.2" r="1.5" stroke="#c8ff37"/><circle cx="279.2" cy="312.2" r="1.5" stroke="#8fff70"/><circle cx="358.2" cy="267.2" r="1.5" stroke="#bdff42"/><circle cx="298.8" cy="305.2" r="1.5" stroke="#a0ff5f"/><circle cx="342.8" cy="270.8" r="1.5" stroke="#e0ff1f"/><circle cx="309.8" cy="295.2" r="1.5" stroke="#91ff6e"/><circle cx="257.2" cy="290.8" r="1.5" stroke="#c1ff3e"/><circle cx="276.2" cy="300.8" r="1.5" stroke="#94ff6b"/><circle cx="310.2" cy="288.2" r="1.5" stroke="#8bff74"/><circle cx="259.8" cy="273.2" r="1.5" stroke="#edff12"/><circle cx="317.8" cy="217.2" r="1.5" stroke="#f2ff0d"/><circle cx="324.2" cy="239.8" r="1.5" stroke="#eeff11"/><circle cx="347.2" cy="265.8" r="1.5" stroke="#cdff32"/><circle cx="259.2" cy="267.2" r="1.5" stroke="#ddff22"/><circle cx="289.2" cy="289.8" r="1.5" stroke="#8bff74"/><circle cx="288.8" cy="278.2" r="1.5" stroke="#bfff40"/><circle cx="309.8" cy="275.2" r="1.5" stroke="#b6ff49"/><circle cx="280.8" cy="303.8" r="1.5" stroke="#81ff7e"/><circle cx="285.2" cy="254.2" r="1.5" stroke="#e4ff1b"/><circle cx="292.2" cy="273.2" r="1.5" stroke="#beff41"/><circle cx="383.8" cy="310.8" r="1.5" stroke="#dbff24"/><circle cx="289.2" cy="246.2" r="1.5" stroke="#eeff11"/><circle cx="365.8" cy="286.8" r="1.5" stroke="#d1ff2e"/><circle cx="338.8" cy="292.2" r="1.5" stroke="#9cff63"/><circle cx="322.2" cy="274.2" r="1.5" stroke="#baff45"/><circle cx="331.8" cy="249.2" r="1.5" stroke="#e6ff19"/><circle cx="291.2" cy="313.2" r="1.5" stroke="#8dff72"/><circle cx="292.8" cy="298.2" r="1.5" stroke="#91ff6e"/><circle cx="266.2" cy="265.2" r="1.5" stroke="#e3ff1c"/><circle cx="335.2" cy="246.8" r="1.5" stroke="#e4ff1b"/><circle cx="299.2" cy="338.2" r="1.5" stroke="#8eff71"/><circle cx="299.2" cy="289.2" r="1.5" stroke="#aeff51"/><circle cx="278.8" cy="291.2" r="1.5" stroke="#9aff65"/><circle cx="308.8" cy="304.8" r="1.5" stroke="#85ff7a"/><path d="M279.8 309.2h5m-2.5-2.5v5" stroke="#7cff83"/><circle cx="272.8" cy="290.2" r="1.5" stroke="#b2ff4d"/><circle cx="371.8" cy="233.2" r="1.5" stroke="#c8ff37"/><circle cx="291.8" cy="255.8" r="1.5" stroke="#d1ff2e"/><circle cx="274.8" cy="314.8" r="1.5" stroke="#87ff78"/><circle cx="282.2" cy="311.2" r="1.5" stroke="#89ff76"/><path d="M271.8 324.8h5m-2.5-2.5v5" stroke="#56ffa9"/><circle cx="369.8" cy="295.2" r="1.5" stroke="#d2ff2d"/><circle cx="262.2" cy="304.2" r="1.5" stroke="#b0ff4f"/><circle cx="272.8" cy="291.2" r="1.5" stroke="#a3ff5c"/><circle cx="249.8" cy="250.2" r="1.5" stroke="#e7ff18"/><circle cx="289.2" cy="305.2" r="1.5" stroke="#80ff7f"/><circle cx="350.8" cy="245.8" r="1.5" stroke="#fdff02"/><circle cx="303.8" cy="286.8" r="1.5" stroke="#a2ff5d"/><circle cx="377.8" cy="249.2" r="1.5" stroke="#e3ff1c"/><circle cx="266.2" cy="299.8" r="1.5" stroke="#b3ff4c"/><circle cx="276.2" cy="292.8" r="1.5" stroke="#a5ff5a"/><circle cx="273.8" cy="264.8" r="1.5" stroke="#cdff32"/><circle cx="298.2" cy="303.8" r="1.5" stroke="#8aff75"/><circle cx="362.8" cy="242.8" r="1.5" stroke="#f2ff0d"/><circle cx="289.2" cy="270.8" r="1.5" stroke="#cdff32"/><circle cx="329.8" cy="249.2" r="1.5" stroke="#e6ff19"/><circle cx="283.8" cy="298.8" r="1.5" stroke="#a4ff5b"/><circle cx="286.2" cy="304.8" r="1.5" stroke="#85ff7a"/><circle cx="302.8" cy="317.2" r="1.5" stroke="#98ff67"/><circle cx="358.2" cy="246.2" r="1.5" stroke="#dfff20"/><circle cx="357.8" cy="247.2" r="1.5" stroke="#c9ff36"/><circle cx="278.2" cy="262.2" r="1.5" stroke="#ddff22"/><circle cx="355.2" cy="269.8" r="1.5" stroke="#aeff51"/><path d="M288.2 313.8h5m-2.5-2.5v5" stroke="#72ff8d"/><circle cx="335.8" cy="278.8" r="1.5" stroke="#c7ff38"/><circle cx="277.8" cy="308.2" r="1.5" stroke="#8cff73"/><path d="M272.2 321.8h5m-2.5-2.5v5" stroke="#7dff82"/><circle cx="267.8" cy="287.2" r="1.5" stroke="#9dff62"/><circle cx="279.8" cy="313.8" r="1.5" stroke="#9cff63"/><circle cx="296.2" cy="299.2" r="1.5" stroke="#8cff73"/><circle cx="269.8" cy="329.8" r="1.5" stroke="#84ff7b"/><circle cx="272.2" cy="312.2" r="1.5" stroke="#90ff6f"/><path d="M300.8 307.2h5m-2.5-2.5v5" stroke="#7cff83"/><circle cx="293.2" cy="255.2" r="1.5" stroke="#e5ff1a"/><circle cx="281.8" cy="290.8" r="1.5" stroke="#8eff71"/><circle cx="307.2" cy="254.2" r="1.5" stroke="#d6ff29"/><circle cx="255.8" cy="289.2" r="1.5" stroke="#cfff30"/><path d="M294.8 311.2h5m-2.5-2.5v5" stroke="#7aff85"/><circle cx="271.8" cy="282.2" r="1.5" stroke="#b0ff4f"/><circle cx="300.2" cy="308.8" r="1.5" stroke="#8bff74"/><circle cx="313.8" cy="267.2" r="1.5" stroke="#adff52"/><circle cx="231.8" cy="300.2" r="1.5" stroke="#e7ff18"/><circle cx="295.8" cy="295.8" r="1.5" stroke="#94ff6b"/><circle cx="308.2" cy="256.2" r="1.5" stroke="#d9ff26"/><circle cx="317.2" cy="251.8" r="1.5" stroke="#bdff42"/><circle cx="354.2" cy="278.8" r="1.5" stroke="#b9ff46"/><circle cx="359.2" cy="238.8" r="1.5" stroke="#f2ff0d"/><circle cx="307.8" cy="279.8" r="1.5" stroke="#b6ff49"/><circle cx="276.2" cy="265.2" r="1.5" stroke="#ceff31"/><circle cx="316.8" cy="305.2" r="1.5" stroke="#99ff66"/><circle cx="275.2" cy="313.8" r="1.5" stroke="#90ff6f"/><circle cx="289.2" cy="308.2" r="1.5" stroke="#8bff74"/><circle cx="312.2" cy="339.8" r="1.5" stroke="#a0ff5f"/><circle cx="323.8" cy="253.8" r="1.5" stroke="#f1ff0e"/><circle cx="283.2" cy="295.2" r="1.5" stroke="#94ff6b"/><circle cx="293.8" cy="295.2" r="1.5" stroke="#92ff6d"/><circle cx="297.8" cy="285.2" r="1.5" stroke="#9dff62"/><circle cx="367.8" cy="290.8" r="1.5" stroke="#d9ff26"/><circle cx="309.8" cy="246.8" r="1.5" stroke="#f2ff0d"/><circle cx="310.8" cy="299.2" r="1.5" stroke="#8dff72"/><circle cx="271.2" cy="286.8" r="1.5" stroke="#e4ff1b"/><circle cx="281.8" cy="233.8" r="1.5" stroke="#e3ff1c"/><circle cx="281.8" cy="253.8" r="1.5" stroke="#e8ff17"/><circle cx="329.8" cy="264.8" r="1.5" stroke="#caff35"/><circle cx="254.8" cy="231.8" r="1.5" stroke="#fffa00"/><circle cx="276.8" cy="303.2" r="1.5" stroke="#93ff6c"/><circle cx="360.8" cy="275.2" r="1.5" stroke="#e4ff1b"/><circle cx="300.2" cy="301.8" r="1.5" stroke="#87ff78"/><circle cx="266.2" cy="291.8" r="1.5" stroke="#b6ff49"/><circle cx="299.2" cy="267.2" r="1.5" stroke="#c2ff3d"/><circle cx="282.2" cy="249.2" r="1.5" stroke="#e1ff1e"/><circle cx="331.2" cy="248.2" r="1.5" stroke="#f6ff09"/><circle cx="286.8" cy="292.2" r="1.5" stroke="#8cff73"/><circle cx="365.2" cy="245.8" r="1.5" stroke="#d7ff28"/><circle cx="279.8" cy="320.8" r="1.5" stroke="#89ff76"/><circle cx="277.2" cy="270.8" r="1.5" stroke="#ccff33"/><circle cx="249.2" cy="262.8" r="1.5" stroke="#eaff15"/><circle cx="262.2" cy="264.8" r="1.5" stroke="#d6ff29"/><circle cx="369.2" cy="256.8" r="1.5" stroke="#e9ff16"/><circle cx="287.2" cy="318.8" r="1.5" stroke="#8bff74"/><circle cx="293.8" cy="300.2" r="1.5" stroke="#80ff7f"/><circle cx="276.2" cy="262.2" r="1.5" stroke="#deff21"/><circle cx="367.8" cy="299.8" r="1.5" stroke="#bcff43"/><circle cx="314.2" cy="273.2" r="1.5" stroke="#bdff42"/><circle cx="282.2" cy="240.8" r="1.5" stroke="#ebff14"/><circle cx="285.8" cy="248.8" r="1.5" stroke="#eeff11"/><path d="M286.2 305.8h5m-2.5-2.5v5" stroke="#7bff84"/><circle cx="302.8" cy="285.8" r="1.5" stroke="#9cff63"/><circle cx="328.8" cy="223.2" r="1.5" stroke="#b6ff49"/><circle cx="251.8" cy="272.8" r="1.5" stroke="#e8ff17"/><circle cx="290.2" cy="329.2" r="1.5" stroke="#a2ff5d"/><circle cx="287.2" cy="280.8" r="1.5" stroke="#93ff6c"/><circle cx="266.2" cy="262.8" r="1.5" stroke="#f3ff0c"/><circle cx="264.2" cy="299.8" r="1.5" stroke="#bdff42"/><circle cx="275.2" cy="297.8" r="1.5" stroke="#97ff68"/><circle cx="288.2" cy="313.2" r="1.5" stroke="#86ff79"/><circle cx="293.2" cy="298.8" r="1.5" stroke="#8fff70"/><circle cx="265.8" cy="309.8" r="1.5" stroke="#a9ff56"/><circle cx="322.2" cy="265.8" r="1.5" stroke="#b3ff4c"/><circle cx="291.8" cy="298.2" r="1.5" stroke="#87ff78"/><circle cx="262.2" cy="314.2" r="1.5" stroke="#96ff69"/><circle cx="285.2" cy="289.2" r="1.5" stroke="#8fff70"/><circle cx="265.8" cy="304.2" r="1.5" stroke="#b6ff49"/><circle cx="258.2" cy="294.2" r="1.5" stroke="#b5ff4a"/><circle cx="298.2" cy="285.8" r="1.5" stroke="#acff53"/><circle cx="304.8" cy="255.2" r="1.5" stroke="#e1ff1e"/><circle cx="226.8" cy="274.2" r="1.5" stroke="#fffa00"/><circle cx="267.2" cy="287.2" r="1.5" stroke="#b9ff46"/><circle cx="318.8" cy="238.2" r="1.5" stroke="#f2ff0d"/><path d="M278.2 304.2h5m-2.5-2.5v5" stroke="#75ff8a"/><circle cx="261.2" cy="297.8" r="1.5" stroke="#acff53"/><circle cx="270.2" cy="255.8" r="1.5" stroke="#dbff24"/><circle cx="319.2" cy="261.8" r="1.5" stroke="#c3ff3c"/><circle cx="276.8" cy="294.2" r="1.5" stroke="#9bff64"/><circle cx="253.8" cy="284.2" r="1.5" stroke="#cdff32"/><circle cx="335.8" cy="274.8" r="1.5" stroke="#bdff42"/><circle cx="291.8" cy="291.8" r="1.5" stroke="#a9ff56"/><circle cx="295.2" cy="238.2" r="1.5" stroke="#eaff15"/><circle cx="296.2" cy="330.8" r="1.5" stroke="#a7ff58"/><circle cx="296.2" cy="229.8" r="1.5" stroke="#daff25"/><circle cx="270.2" cy="292.2" r="1.5" stroke="#9aff65"/><circle cx="252.2" cy="282.2" r="1.5" stroke="#d7ff28"/><path d="M298.8 301.2h5m-2.5-2.5v5" stroke="#7fff80"/><circle cx="362.2" cy="284.2" r="1.5" stroke="#c7ff38"/><circle cx="320.8" cy="236.8" r="1.5" stroke="#c0ff3f"/><circle cx="321.2" cy="294.8" r="1.5" stroke="#9cff63"/><circle cx="271.8" cy="280.8" r="1.5" stroke="#a7ff58"/><circle cx="299.8" cy="291.2" r="1.5" stroke="#89ff76"/><circle cx="325.2" cy="279.2" r="1.5" stroke="#cdff32"/><circle cx="281.8" cy="287.8" r="1.5" stroke="#8aff75"/><path d="M316.8 337.2h5m-2.5-2.5v5" stroke="#7fff80"/><circle cx="296.8" cy="243.8" r="1.5" stroke="#deff21"/><circle cx="363.8" cy="237.2" r="1.5" stroke="#fcff03"/><circle cx="314.2" cy="259.8" r="1.5" stroke="#c8ff37"/><path d="M291.8 318.8h5m-2.5-2.5v5" stroke="#6fff90"/><circle cx="279.8" cy="298.2" r="1.5" stroke="#a5ff5a"/><circle cx="271.2" cy="296.8" r="1.5" stroke="#94ff6b"/><circle cx="293.8" cy="295.8" r="1.5" stroke="#87ff78"/><circle cx="274.8" cy="308.8" r="1.5" stroke="#86ff79"/><circle cx="288.8" cy="327.2" r="1.5" stroke="#a2ff5d"/><circle cx="298.8" cy="232.2" r="1.5" stroke="#e9ff16"/><circle cx="365.8" cy="224.2" r="1.5" stroke="#bfff40"/><circle cx="310.2" cy="311.2" r="1.5" stroke="#86ff79"/><circle cx="305.8" cy="307.2" r="1.5" stroke="#80ff7f"/><circle cx="306.8" cy="309.8" r="1.5" stroke="#97ff68"/><circle cx="290.2" cy="305.8" r="1.5" stroke="#87ff78"/><circle cx="293.2" cy="297.8" r="1.5" stroke="#8dff72"/><circle cx="301.8" cy="301.2" r="1.5" stroke="#84ff7b"/><circle cx="289.2" cy="273.8" r="1.5" stroke="#b7ff48"/><path d="M306.8 333.8h5m-2.5-2.5v5" stroke="#6eff91"/><circle cx="325.8" cy="296.2" r="1.5" stroke="#95ff6a"/><circle cx="290.2" cy="291.2" r="1.5" stroke="#9bff64"/><circle cx="300.2" cy="252.8" r="1.5" stroke="#d9ff26"/><circle cx="302.8" cy="292.2" r="1.5" stroke="#94ff6b"/><circle cx="288.8" cy="283.8" r="1.5" stroke="#acff53"/><circle cx="292.8" cy="276.8" r="1.5" stroke="#acff53"/><circle cx="293.8" cy="252.8" r="1.5" stroke="#eaff15"/><circle cx="279.8" cy="324.8" r="1.5" stroke="#8aff75"/><circle cx="275.8" cy="305.2" r="1.5" stroke="#98ff67"/><circle cx="294.2" cy="299.2" r="1.5" stroke="#85ff7a"/><path d="M278.8 305.2h5m-2.5-2.5v5" stroke="#7dff82"/><circle cx="306.8" cy="280.8" r="1.5" stroke="#bbff44"/><circle cx="288.2" cy="300.8" r="1.5" stroke="#89ff76"/><circle cx="309.2" cy="309.8" r="1.5" stroke="#8eff71"/><circle cx="294.2" cy="288.2" r="1.5" stroke="#98ff67"/><circle cx="321.8" cy="285.8" r="1.5" stroke="#a2ff5d"/><circle cx="284.8" cy="297.8" r="1.5" stroke="#81ff7e"/><circle cx="321.8" cy="275.8" r="1.5" stroke="#adff52"/><circle cx="308.2" cy="291.2" r="1.5" stroke="#9fff60"/><circle cx="296.2" cy="306.2" r="1.5" stroke="#91ff6e"/><circle cx="287.2" cy="283.2" r="1.5" stroke="#94ff6b"/><circle cx="348.8" cy="281.8" r="1.5" stroke="#b9ff46"/><circle cx="352.2" cy="237.8" r="1.5" stroke="#fffa00"/><circle cx="338.8" cy="277.8" r="1.5" stroke="#baff45"/><circle cx="289.8" cy="305.8" r="1.5" stroke="#8cff73"/><circle cx="304.8" cy="320.2" r="1.5" stroke="#a1ff5e"/><circle cx="362.2" cy="281.8" r="1.5" stroke="#c1ff3e"/><circle cx="330.8" cy="258.8" r="1.5" stroke="#efff10"/><circle cx="273.8" cy="317.8" r="1.5" stroke="#98ff67"/><circle cx="305.8" cy="266.8" r="1.5" stroke="#ceff31"/><circle cx="325.2" cy="270.8" r="1.5" stroke="#c5ff3a"/><circle cx="243.8" cy="289.8" r="1.5" stroke="#e4ff1b"/><circle cx="292.2" cy="295.8" r="1.5" stroke="#92ff6d"/><path d="M289.8 311.8h5m-2.5-2.5v5" stroke="#7cff83"/><circle cx="310.8" cy="263.8" r="1.5" stroke="#c9ff36"/><circle cx="313.8" cy="257.8" r="1.5" stroke="#deff21"/><circle cx="274.8" cy="299.2" r="1.5" stroke="#97ff68"/><circle cx="330.8" cy="256.2" r="1.5" stroke="#dbff24"/><circle cx="286.2" cy="328.2" r="1.5" stroke="#91ff6e"/><circle cx="290.2" cy="269.2" r="1.5" stroke="#ceff31"/><circle cx="263.8" cy="314.8" r="1.5" stroke="#9aff65"/><circle cx="285.2" cy="321.8" r="1.5" stroke="#b8ff47"/><circle cx="290.8" cy="233.2" r="1.5" stroke="#f1ff0e"/><path d="M290.8 302.8h5m-2.5-2.5v5" stroke="#74ff8b"/><circle cx="326.8" cy="262.2" r="1.5" stroke="#caff35"/><circle cx="266.2" cy="287.8" r="1.5" stroke="#b3ff4c"/><circle cx="370.8" cy="232.2" r="1.5" stroke="#c7ff38"/><circle cx="301.8" cy="298.2" r="1.5" stroke="#99ff66"/><circle cx="295.2" cy="272.8" r="1.5" stroke="#c7ff38"/><circle cx="326.8" cy="257.8" r="1.5" stroke="#ebff14"/><circle cx="282.8" cy="304.2" r="1.5" stroke="#93ff6c"/><circle cx="326.8" cy="241.8" r="1.5" stroke="#ffe900"/><circle cx="282.2" cy="289.2" r="1.5" stroke="#a3ff5c"/><path d="M270.2 322.8h5m-2.5-2.5v5" stroke="#6bff94"/><circle cx="296.2" cy="312.2" r="1.5" stroke="#90ff6f"/><circle cx="278.8" cy="332.2" r="1.5" stroke="#b5ff4a"/><circle cx="301.2" cy="322.8" r="1.5" stroke="#94ff6b"/><circle cx="279.8" cy="327.2" r="1.5" stroke="#91ff6e"/><circle cx="309.2" cy="238.8" r="1.5" stroke="#f9ff06"/><circle cx="332.2" cy="241.8" r="1.5" stroke="#fffa00"/><circle cx="284.8" cy="309.2" r="1.5" stroke="#85ff7a"/><circle cx="312.8" cy="276.8" r="1.5" stroke="#c4ff3b"/><circle cx="357.8" cy="240.2" r="1.5" stroke="#e7ff18"/><circle cx="281.8" cy="293.8" r="1.5" stroke="#93ff6c"/><circle cx="295.8" cy="293.2" r="1.5" stroke="#8bff74"/><circle cx="271.8" cy="304.2" r="1.5" stroke="#a3ff5c"/><circle cx="284.2" cy="326.2" r="1.5" stroke="#9eff61"/><circle cx="276.2" cy="239.2" r="1.5" stroke="#eeff11"/><circle cx="296.8" cy="282.2" r="1.5" stroke="#b4ff4b"/><circle cx="316.2" cy="217.2" r="1.5" stroke="#fdff02"/><circle cx="270.2" cy="314.8" r="1.5" stroke="#aeff51"/><circle cx="307.2" cy="271.8" r="1.5" stroke="#d2ff2d"/><circle cx="338.2" cy="253.8" r="1.5" stroke="#ddff22"/><circle cx="290.2" cy="320.8" r="1.5" stroke="#96ff69"/><circle cx="282.8" cy="338.2" r="1.5" stroke="#8fff70"/><circle cx="258.2" cy="264.8" r="1.5" stroke="#e3ff1c"/><circle cx="376.2" cy="312.2" r="1.5" stroke="#e8ff17"/><circle cx="305.8" cy="238.8" r="1.5" stroke="#f0ff0f"/><circle cx="269.8" cy="298.8" r="1.5" stroke="#bbff44"/><circle cx="284.8" cy="279.8" r="1.5" stroke="#b6ff49"/><circle cx="286.8" cy="300.2" r="1.5" stroke="#96ff69"/><circle cx="379.8" cy="295.2" r="1.5" stroke="#d8ff27"/><circle cx="297.8" cy="313.8" r="1.5" stroke="#81ff7e"/><circle cx="311.8" cy="275.2" r="1.5" stroke="#b8ff47"/><circle cx="273.2" cy="332.8" r="1.5" stroke="#dbff24"/><circle cx="303.2" cy="233.8" r="1.5" stroke="#fffc00"/><circle cx="323.2" cy="258.8" r="1.5" stroke="#f0ff0f"/><circle cx="276.8" cy="264.2" r="1.5" stroke="#d7ff28"/><circle cx="279.8" cy="313.8" r="1.5" stroke="#a2ff5d"/><circle cx="298.2" cy="296.8" r="1.5" stroke="#8cff73"/><circle cx="301.8" cy="267.8" r="1.5" stroke="#cfff30"/><circle cx="292.2" cy="246.2" r="1.5" stroke="#faff05"/><circle cx="274.2" cy="303.2" r="1.5" stroke="#9eff61"/><circle cx="285.2" cy="299.8" r="1.5" stroke="#8fff70"/><circle cx="243.8" cy="274.2" r="1.5" stroke="#e9ff16"/><circle cx="277.8" cy="327.2" r="1.5" stroke="#80ff7f"/><circle cx="299.2" cy="321.2" r="1.5" stroke="#8cff73"/><circle cx="275.2" cy="261.2" r="1.5" stroke="#dbff24"/><circle cx="281.8" cy="317.8" r="1.5" stroke="#89ff76"/><circle cx="284.8" cy="280.8" r="1.5" stroke="#c6ff39"/><circle cx="297.2" cy="303.2" r="1.5" stroke="#86ff79"/><circle cx="353.2" cy="281.8" r="1.5" stroke="#c5ff3a"/><circle cx="325.8" cy="248.8" r="1.5" stroke="#d9ff26"/><circle cx="268.2" cy="280.2" r="1.5" stroke="#c2ff3d"/><circle cx="338.2" cy="253.2" r="1.5" stroke="#f1ff0e"/><circle cx="340.2" cy="257.2" r="1.5" stroke="#d5ff2a"/><circle cx="257.8" cy="243.2" r="1.5" stroke="#faff05"/><circle cx="290.8" cy="307.8" r="1.5" stroke="#86ff79"/><circle cx="283.2" cy="300.8" r="1.5" stroke="#92ff6d"/><circle cx="282.8" cy="299.8" r="1.5" stroke="#96ff69"/><circle cx="361.2" cy="248.2" r="1.5" stroke="#aeff51"/><circle cx="277.8" cy="273.8" r="1.5" stroke="#d0ff2f"/><circle cx="256.2" cy="290.2" r="1.5" stroke="#beff41"/><circle cx="299.2" cy="287.8" r="1.5" stroke="#a1ff5e"/><circle cx="374.8" cy="293.2" r="1.5" stroke="#c8ff37"/><circle cx="344.8" cy="249.2" r="1.5" stroke="#c9ff36"/><circle cx="283.2" cy="247.2" r="1.5" stroke="#d3ff2c"/><circle cx="304.8" cy="289.8" r="1.5" stroke="#9aff65"/><circle cx="329.2" cy="222.2" r="1.5" stroke="#cbff34"/><circle cx="273.2" cy="287.8" r="1.5" stroke="#9eff61"/><circle cx="279.8" cy="283.8" r="1.5" stroke="#9cff63"/><circle cx="309.2" cy="317.8" r="1.5" stroke="#adff52"/><circle cx="276.8" cy="305.8" r="1.5" stroke="#80ff7f"/><circle cx="259.8" cy="274.8" r="1.5" stroke="#dbff24"/><circle cx="282.8" cy="292.2" r="1.5" stroke="#9dff62"/><circle cx="282.8" cy="260.2" r="1.5" stroke="#d8ff27"/><circle cx="240.8" cy="311.2" r="1.5" stroke="#e9ff16"/><circle cx="244.2" cy="265.8" r="1.5" stroke="#fff900"/><circle cx="261.8" cy="329.2" r="1.5" stroke="#9dff62"/><circle cx="353.8" cy="244.8" r="1.5" stroke="#e6ff19"/><circle cx="297.8" cy="287.8" r="1.5" stroke="#92ff6d"/><circle cx="327.8" cy="290.8" r="1.5" stroke="#aeff51"/><circle cx="292.8" cy="232.2" r="1.5" stroke="#e7ff18"/><circle cx="350.8" cy="298.2" r="1.5" stroke="#c6ff39"/><path d="M288.8 306.2h5m-2.5-2.5v5" stroke="#78ff87"/><circle cx="288.2" cy="262.8" r="1.5" stroke="#d0ff2f"/><circle cx="284.8" cy="286.8" r="1.5" stroke="#a5ff5a"/><circle cx="251.8" cy="270.2" r="1.5" stroke="#f8ff07"/><circle cx="282.2" cy="331.2" r="1.5" stroke="#97ff68"/><circle cx="309.2" cy="244.2" r="1.5" stroke="#edff12"/><circle cx="296.2" cy="270.2" r="1.5" stroke="#c7ff38"/><circle cx="299.8" cy="307.2" r="1.5" stroke="#81ff7e"/><circle cx="297.8" cy="296.2" r="1.5" stroke="#96ff69"/><circle cx="310.8" cy="295.2" r="1.5" stroke="#9bff64"/><circle cx="378.2" cy="248.2" r="1.5" stroke="#fbff04"/><circle cx="350.8" cy="267.8" r="1.5" stroke="#f5ff0a"/><circle cx="384.8" cy="240.8" r="1.5" stroke="#e2ff1d"/><circle cx="288.2" cy="272.8" r="1.5" stroke="#d3ff2c"/><circle cx="227.8" cy="245.2" r="1.5" stroke="#f1ff0e"/><circle cx="265.2" cy="254.2" r="1.5" stroke="#e2ff1d"/><circle cx="307.8" cy="247.2" r="1.5" stroke="#e6ff19"/><circle cx="358.2" cy="254.8" r="1.5" stroke="#f0ff0f"/><circle cx="268.2" cy="248.8" r="1.5" stroke="#fff500"/><circle cx="284.8" cy="345.2" r="1.5" stroke="#8dff72"/><circle cx="258.2" cy="288.2" r="1.5" stroke="#bcff43"/><circle cx="279.2" cy="271.8" r="1.5" stroke="#c2ff3d"/><circle cx="351.2" cy="247.2" r="1.5" stroke="#b4ff4b"/><circle cx="339.2" cy="290.8" r="1.5" stroke="#a5ff5a"/><circle cx="241.2" cy="244.8" r="1.5" stroke="#f0ff0f"/><circle cx="297.8" cy="285.2" r="1.5" stroke="#97ff68"/><circle cx="361.2" cy="278.8" r="1.5" stroke="#d4ff2b"/><circle cx="357.2" cy="283.8" r="1.5" stroke="#cdff32"/><circle cx="252.8" cy="262.2" r="1.5" stroke="#e7ff18"/><circle cx="290.8" cy="300.8" r="1.5" stroke="#86ff79"/><circle cx="318.2" cy="227.8" r="1.5" stroke="#ecff13"/><circle cx="308.8" cy="263.8" r="1.5" stroke="#d3ff2c"/><circle cx="290.2" cy="281.8" r="1.5" stroke="#9bff64"/><circle cx="316.8" cy="258.2" r="1.5" stroke="#d5ff2a"/><circle cx="297.2" cy="299.8" r="1.5" stroke="#94ff6b"/><circle cx="284.2" cy="279.2" r="1.5" stroke="#b6ff49"/><circle cx="319.8" cy="284.2" r="1.5" stroke="#94ff6b"/><circle cx="301.2" cy="266.8" r="1.5" stroke="#c3ff3c"/><circle cx="287.8" cy="315.8" r="1.5" stroke="#a6ff59"/><path d="M304.2 309.2h5m-2.5-2.5v5" stroke="#7cff83"/><path d="M286.8 318.2h5m-2.5-2.5v5" stroke="#7aff85"/><circle cx="278.8" cy="296.8" r="1.5" stroke="#97ff68"/><circle cx="269.8" cy="264.2" r="1.5" stroke="#e0ff1f"/><circle cx="298.8" cy="311.8" r="1.5" stroke="#8fff70"/><circle cx="309.2" cy="255.2" r="1.5" stroke="#e2ff1d"/><circle cx="275.8" cy="292.2" r="1.5" stroke="#8fff70"/><circle cx="383.8" cy="303.2" r="1.5" stroke="#cfff30"/><circle cx="277.8" cy="301.2" r="1.5" stroke="#91ff6e"/><circle cx="238.8" cy="314.2" r="1.5" stroke="#b2ff4d"/><circle cx="329.2" cy="232.8" r="1.5" stroke="#f4ff0b"/><circle cx="258.8" cy="300.2" r="1.5" stroke="#b0ff4f"/><circle cx="248.8" cy="277.8" r="1.5" stroke="#dfff20"/><circle cx="290.2" cy="323.2" r="1.5" stroke="#96ff69"/><circle cx="252.8" cy="267.2" r="1.5" stroke="#e7ff18"/><path d="M297.8 310.8h5m-2.5-2.5v5" stroke="#76ff89"/><path d="M291.8 291.8h5m-2.5-2.5v5" stroke="#7bff84"/><circle cx="297.8" cy="326.2" r="1.5" stroke="#9eff61"/><circle cx="364.2" cy="287.8" r="1.5" stroke="#a9ff56"/><circle cx="321.2" cy="276.2" r="1.5" stroke="#baff45"/><circle cx="349.2" cy="228.2" r="1.5" stroke="#f1ff0e"/><circle cx="264.2" cy="316.8" r="1.5" stroke="#85ff7a"/><path d="M277.2 319.8h5m-2.5-2.5v5" stroke="#75ff8a"/><circle cx="285.2" cy="322.2" r="1.5" stroke="#bbff44"/><circle cx="266.8" cy="315.2" r="1.5" stroke="#a6ff59"/><path d="M302.8 307.2h5m-2.5-2.5v5" stroke="#7eff81"/><circle cx="353.8" cy="299.2" r="1.5" stroke="#c2ff3d"/><circle cx="313.2" cy="280.8" r="1.5" stroke="#b0ff4f"/><circle cx="322.8" cy="241.8" r="1.5" stroke="#deff21"/><circle cx="271.8" cy="273.8" r="1.5" stroke="#c2ff3d"/><circle cx="329.8" cy="240.2" r="1.5" stroke="#ecff13"/><circle cx="264.8" cy="284.2" r="1.5" stroke="#bbff44"/><circle cx="270.8" cy="294.2" r="1.5" stroke="#a1ff5e"/><circle cx="276.8" cy="288.8" r="1.5" stroke="#a7ff58"/><circle cx="296.2" cy="287.2" r="1.5" stroke="#9dff62"/><circle cx="255.2" cy="292.8" r="1.5" stroke="#d5ff2a"/><circle cx="303.2" cy="285.8" r="1.5" stroke="#acff53"/><circle cx="316.8" cy="270.8" r="1.5" stroke="#c9ff36"/><circle cx="253.2" cy="330.2" r="1.5" stroke="#a5ff5a"/><circle cx="290.2" cy="299.2" r="1.5" stroke="#8cff73"/><circle cx="348.2" cy="232.8" r="1.5" stroke="#caff35"/><circle cx="298.8" cy="306.8" r="1.5" stroke="#9aff65"/><circle cx="269.8" cy="290.2" r="1.5" stroke="#b2ff4d"/><circle cx="284.8" cy="300.2" r="1.5" stroke="#90ff6f"/><circle cx="292.8" cy="300.2" r="1.5" stroke="#a3ff5c"/><circle cx="310.8" cy="268.8" r="1.5" stroke="#e0ff1f"/><circle cx="365.8" cy="224.2" r="1.5" stroke="#e3ff1c"/><circle cx="289.2" cy="258.2" r="1.5" stroke="#d6ff29"/><circle cx="248.2" cy="235.8" r="1.5" stroke="#fcff03"/><circle cx="300.8" cy="295.8" r="1.5" stroke="#9dff62"/><path d="M290.2 304.2h5m-2.5-2.5v5" stroke="#79ff86"/><circle cx="295.8" cy="309.8" r="1.5" stroke="#81ff7e"/><path d="M278.2 307.2h5m-2.5-2.5v5" stroke="#7eff81"/><circle cx="317.8" cy="229.8" r="1.5" stroke="#98ff67"/><circle cx="297.8" cy="271.2" r="1.5" stroke="#c6ff39"/><circle cx="345.8" cy="272.8" r="1.5" stroke="#c7ff38"/><circle cx="341.2" cy="256.2" r="1.5" stroke="#f4ff0b"/><circle cx="290.8" cy="296.8" r="1.5" stroke="#87ff78"/><circle cx="368.2" cy="289.8" r="1.5" stroke="#c7ff38"/><circle cx="332.2" cy="243.8" r="1.5" stroke="#d9ff26"/><circle cx="286.8" cy="316.2" r="1.5" stroke="#8dff72"/><circle cx="280.8" cy="307.2" r="1.5" stroke="#8bff74"/><circle cx="303.8" cy="271.8" r="1.5" stroke="#c4ff3b"/><circle cx="296.8" cy="287.8" r="1.5" stroke="#8cff73"/><circle cx="278.8" cy="266.2" r="1.5" stroke="#e1ff1e"/><circle cx="374.2" cy="223.2" r="1.5" stroke="#fffc00"/><path d="M281.2 315.8h5m-2.5-2.5v5" stroke="#77ff88"/><circle cx="286.8" cy="317.8" r="1.5" stroke="#91ff6e"/><circle cx="341.2" cy="232.2" r="1.5" stroke="#efff10"/><circle cx="350.8" cy="256.2" r="1.5" stroke="#b0ff4f"/><circle cx="278.8" cy="297.8" r="1.5" stroke="#93ff6c"/><circle cx="299.2" cy="271.2" r="1.5" stroke="#d4ff2b"/><circle cx="260.2" cy="268.2" r="1.5" stroke="#dcff23"/><circle cx="338.8" cy="263.8" r="1.5" stroke="#dfff20"/><circle cx="369.8" cy="219.8" r="1.5" stroke="#fbff04"/><circle cx="277.2" cy="268.8" r="1.5" stroke="#c7ff38"/><circle cx="300.8" cy="310.2" r="1.5" stroke="#9dff62"/><path d="M299.8 326.8h5m-2.5-2.5v5" stroke="#66ff99"/><circle cx="300.8" cy="263.2" r="1.5" stroke="#dbff24"/><circle cx="368.8" cy="234.8" r="1.5" stroke="#fffa00"/><circle cx="334.8" cy="250.8" r="1.5" stroke="#d9ff26"/><circle cx="280.2" cy="303.2" r="1.5" stroke="#90ff6f"/><circle cx="284.2" cy="295.2" r="1.5" stroke="#89ff76"/><circle cx="300.2" cy="307.2" r="1.5" stroke="#87ff78"/><circle cx="279.8" cy="294.2" r="1.5" stroke="#8fff70"/><path d="M289.2 314.2h5m-2.5-2.5v5" stroke="#7aff85"/><circle cx="286.8" cy="269.2" r="1.5" stroke="#b0ff4f"/><circle cx="286.8" cy="283.8" r="1.5" stroke="#9cff63"/><circle cx="357.8" cy="245.2" r="1.5" stroke="#f1ff0e"/><circle cx="283.2" cy="293.2" r="1.5" stroke="#94ff6b"/><circle cx="324.8" cy="302.8" r="1.5" stroke="#97ff68"/><circle cx="336.8" cy="286.8" r="1.5" stroke="#ceff31"/><circle cx="236.2" cy="269.2" r="1.5" stroke="#d8ff27"/><path d="M276.8 311.8h5m-2.5-2.5v5" stroke="#7bff84"/><path d="M285.2 291.2h5m-2.5-2.5v5" stroke="#7cff83"/><circle cx="345.8" cy="235.2" r="1.5" stroke="#c4ff3b"/><circle cx="358.8" cy="249.2" r="1.5" stroke="#a8ff57"/><path d="M284.2 330.2h5m-2.5-2.5v5" stroke="#7bff84"/><circle cx="351.8" cy="286.2" r="1.5" stroke="#b4ff4b"/><path d="M286.8 322.2h5m-2.5-2.5v5" stroke="#7eff81"/><circle cx="257.2" cy="268.2" r="1.5" stroke="#ddff22"/><circle cx="264.8" cy="278.8" r="1.5" stroke="#c0ff3f"/><circle cx="298.8" cy="248.8" r="1.5" stroke="#d8ff27"/><circle cx="286.2" cy="285.2" r="1.5" stroke="#adff52"/><circle cx="309.8" cy="297.8" r="1.5" stroke="#9dff62"/><circle cx="374.2" cy="287.8" r="1.5" stroke="#dfff20"/><circle cx="281.2" cy="246.2" r="1.5" stroke="#e3ff1c"/><circle cx="291.2" cy="264.8" r="1.5" stroke="#dfff20"/><circle cx="266.8" cy="344.8" r="1.5" stroke="#b3ff4c"/><circle cx="298.2" cy="263.2" r="1.5" stroke="#c1ff3e"/><circle cx="300.8" cy="275.8" r="1.5" stroke="#c5ff3a"/><circle cx="261.2" cy="291.2" r="1.5" stroke="#c2ff3d"/><circle cx="291.2" cy="305.8" r="1.5" stroke="#85ff7a"/><circle cx="324.8" cy="251.8" r="1.5" stroke="#eaff15"/><circle cx="355.8" cy="250.8" r="1.5" stroke="#ccff33"/><circle cx="252.2" cy="294.2" r="1.5" stroke="#e2ff1d"/><circle cx="267.2" cy="297.2" r="1.5" stroke="#a3ff5c"/><circle cx="318.8" cy="250.8" r="1.5" stroke="#f8ff07"/><circle cx="287.8" cy="250.2" r="1.5" stroke="#dfff20"/><circle cx="326.8" cy="277.2" r="1.5" stroke="#a9ff56"/><circle cx="278.8" cy="307.8" r="1.5" stroke="#91ff6e"/><circle cx="301.2" cy="288.8" r="1.5" stroke="#88ff77"/><circle cx="328.2" cy="260.2" r="1.5" stroke="#c8ff37"/><circle cx="287.2" cy="293.2" r="1.5" stroke="#8fff70"/><circle cx="269.8" cy="303.2" r="1.5" stroke="#a2ff5d"/><path d="M279.8 305.8h5m-2.5-2.5v5" stroke="#7cff83"/><circle cx="272.2" cy="309.8" r="1.5" stroke="#9cff63"/><circle cx="281.2" cy="315.8" r="1.5" stroke="#94ff6b"/><circle cx="329.2" cy="251.8" r="1.5" stroke="#c9ff36"/><circle cx="309.2" cy="229.2" r="1.5" stroke="#e5ff1a"/><circle cx="313.8" cy="244.2" r="1.5" stroke="#e4ff1b"/><circle cx="247.8" cy="239.8" r="1.5" stroke="#f0ff0f"/><circle cx="295.2" cy="300.2" r="1.5" stroke="#88ff77"/><circle cx="308.8" cy="230.2" r="1.5" stroke="#f6ff09"/><circle cx="290.2" cy="325.8" r="1.5" stroke="#9dff62"/><circle cx="290.8" cy="299.2" r="1.5" stroke="#92ff6d"/><circle cx="309.2" cy="301.2" r="1.5" stroke="#97ff68"/><circle cx="311.8" cy="344.2" r="1.5" stroke="#93ff6c"/><circle cx="361.2" cy="244.2" r="1.5" stroke="#ecff13"/><circle cx="368.8" cy="246.8" r="1.5" stroke="#eeff11"/><circle cx="314.2" cy="294.2" r="1.5" stroke="#93ff6c"/><circle cx="290.2" cy="313.8" r="1.5" stroke="#87ff78"/><circle cx="271.8" cy="330.2" r="1.5" stroke="#9fff60"/><circle cx="318.8" cy="280.2" r="1.5" stroke="#d3ff2c"/><circle cx="261.8" cy="264.2" r="1.5" stroke="#d8ff27"/><circle cx="327.8" cy="278.2" r="1.5" stroke="#a0ff5f"/><circle cx="318.8" cy="294.2" r="1.5" stroke="#83ff7c"/><circle cx="274.8" cy="313.8" r="1.5" stroke="#98ff67"/><circle cx="281.2" cy="288.2" r="1.5" stroke="#94ff6b"/><circle cx="279.2" cy="253.8" r="1.5" stroke="#e9ff16"/><circle cx="318.2" cy="319.2" r="1.5" stroke="#98ff67"/><circle cx="262.2" cy="288.2" r="1.5" stroke="#ccff33"/><circle cx="264.2" cy="287.2" r="1.5" stroke="#c0ff3f"/><circle cx="276.2" cy="334.2" r="1.5" stroke="#88ff77"/><path d="M310.2 303.8h5m-2.5-2.5v5" stroke="#7fff80"/><path d="M288.8 313.8h5m-2.5-2.5v5" stroke="#7dff82"/><path d="M270.8 328.8h5m-2.5-2.5v5" stroke="#6eff91"/><circle cx="276.2" cy="280.8" r="1.5" stroke="#aeff51"/><circle cx="293.8" cy="295.8" r="1.5" stroke="#8dff72"/><circle cx="330.2" cy="225.2" r="1.5" stroke="#efff10"/><circle cx="303.2" cy="291.2" r="1.5" stroke="#9cff63"/><circle cx="285.2" cy="268.8" r="1.5" stroke="#bfff40"/><circle cx="279.2" cy="315.2" r="1.5" stroke="#81ff7e"/><circle cx="266.8" cy="290.2" r="1.5" stroke="#afff50"/><circle cx="338.8" cy="248.8" r="1.5" stroke="#d9ff26"/><circle cx="302.8" cy="311.2" r="1.5" stroke="#8aff75"/><circle cx="359.8" cy="218.8" r="1.5" stroke="#f8ff07"/><circle cx="320.2" cy="248.2" r="1.5" stroke="#f1ff0e"/><circle cx="290.2" cy="252.8" r="1.5" stroke="#ebff14"/><circle cx="271.2" cy="307.2" r="1.5" stroke="#87ff78"/><circle cx="379.2" cy="284.2" r="1.5" stroke="#dbff24"/><circle cx="309.2" cy="294.2" r="1.5" stroke="#bbff44"/><circle cx="315.2" cy="307.8" r="1.5" stroke="#84ff7b"/><circle cx="333.8" cy="264.2" r="1.5" stroke="#fbff04"/><circle cx="338.8" cy="261.8" r="1.5" stroke="#d7ff28"/><circle cx="336.8" cy="295.8" r="1.5" stroke="#bfff40"/><circle cx="317.8" cy="269.2" r="1.5" stroke="#c5ff3a"/><circle cx="281.2" cy="269.8" r="1.5" stroke="#c7ff38"/><circle cx="281.8" cy="302.2" r="1.5" stroke="#81ff7e"/><circle cx="266.2" cy="290.8" r="1.5" stroke="#abff54"/><circle cx="303.8" cy="305.8" r="1.5" stroke="#80ff7f"/><circle cx="314.8" cy="308.8" r="1.5" stroke="#96ff69"/><circle cx="284.2" cy="317.2" r="1.5" stroke="#9fff60"/><circle cx="305.2" cy="288.2" r="1.5" stroke="#9bff64"/><circle cx="344.8" cy="300.8" r="1.5" stroke="#b2ff4d"/><path d="M282.8 314.8h5m-2.5-2.5v5" stroke="#79ff86"/><circle cx="244.2" cy="275.8" r="1.5" stroke="#fffd00"/><path d="M284.2 300.8h5m-2.5-2.5v5" stroke="#76ff89"/><circle cx="280.8" cy="297.8" r="1.5" stroke="#a3ff5c"/><circle cx="287.8" cy="304.2" r="1.5" stroke="#80ff7f"/><circle cx="327.2" cy="230.8" r="1.5" stroke="#ebff14"/><circle cx="267.2" cy="297.8" r="1.5" stroke="#c2ff3d"/><circle cx="303.2" cy="284.8" r="1.5" stroke="#91ff6e"/><circle cx="305.2" cy="307.8" r="1.5" stroke="#8cff73"/><path d="M292.8 306.8h5m-2.5-2.5v5" stroke="#7aff85"/><circle cx="289.8" cy="272.2" r="1.5" stroke="#bcff43"/><circle cx="307.2" cy="301.2" r="1.5" stroke="#86ff79"/><circle cx="271.2" cy="299.8" r="1.5" stroke="#acff53"/><circle cx="309.8" cy="231.2" r="1.5" stroke="#f8ff07"/><circle cx="263.8" cy="286.8" r="1.5" stroke="#c0ff3f"/><circle cx="264.2" cy="299.2" r="1.5" stroke="#b1ff4e"/><circle cx="292.8" cy="243.2" r="1.5" stroke="#d9ff26"/><circle cx="280.8" cy="297.2" r="1.5" stroke="#96ff69"/><circle cx="300.2" cy="311.8" r="1.5" stroke="#89ff76"/><circle cx="288.2" cy="252.2" r="1.5" stroke="#e4ff1b"/><circle cx="274.2" cy="313.8" r="1.5" stroke="#a2ff5d"/><circle cx="277.8" cy="295.8" r="1.5" stroke="#8cff73"/><circle cx="298.8" cy="292.8" r="1.5" stroke="#89ff76"/><path d="M301.2 323.8h5m-2.5-2.5v5" stroke="#7eff81"/><path d="M286.8 296.2h5m-2.5-2.5v5" stroke="#7fff80"/><circle cx="358.2" cy="233.2" r="1.5" stroke="#f2ff0d"/><circle cx="240.2" cy="266.8" r="1.5" stroke="#edff12"/><circle cx="329.2" cy="215.2" r="1.5" stroke="#fffb00"/><circle cx="310.8" cy="269.2" r="1.5" stroke="#d2ff2d"/><circle cx="269.8" cy="308.8" r="1.5" stroke="#82ff7d"/><circle cx="286.2" cy="298.8" r="1.5" stroke="#87ff78"/><circle cx="334.8" cy="274.2" r="1.5" stroke="#d2ff2d"/><circle cx="287.8" cy="254.2" r="1.5" stroke="#f2ff0d"/><circle cx="284.8" cy="328.8" r="1.5" stroke="#a9ff56"/><circle cx="368.8" cy="285.8" r="1.5" stroke="#c8ff37"/><circle cx="374.2" cy="218.8" r="1.5" stroke="#f2ff0d"/><path d="M286.2 301.8h5m-2.5-2.5v5" stroke="#7dff82"/><circle cx="318.8" cy="274.2" r="1.5" stroke="#b9ff46"/><circle cx="363.2" cy="282.2" r="1.5" stroke="#ccff33"/><path d="M284.8 312.8h5m-2.5-2.5v5" stroke="#6fff90"/><circle cx="376.8" cy="286.8" r="1.5" stroke="#baff45"/><circle cx="265.8" cy="277.8" r="1.5" stroke="#caff35"/><circle cx="288.2" cy="296.2" r="1.5" stroke="#c4ff3b"/><circle cx="301.8" cy="272.8" r="1.5" stroke="#b3ff4c"/><circle cx="278.8" cy="276.8" r="1.5" stroke="#b1ff4e"/><circle cx="304.8" cy="259.2" r="1.5" stroke="#d3ff2c"/><circle cx="295.8" cy="300.2" r="1.5" stroke="#8aff75"/><circle cx="308.8" cy="272.8" r="1.5" stroke="#c2ff3d"/><circle cx="328.2" cy="242.2" r="1.5" stroke="#aeff51"/><circle cx="307.8" cy="233.2" r="1.5" stroke="#fffb00"/><circle cx="325.8" cy="255.2" r="1.5" stroke="#e0ff1f"/><circle cx="331.2" cy="292.2" r="1.5" stroke="#b9ff46"/><circle cx="331.8" cy="257.8" r="1.5" stroke="#eeff11"/><circle cx="304.8" cy="270.8" r="1.5" stroke="#c9ff36"/><circle cx="318.8" cy="290.2" r="1.5" stroke="#8fff70"/><circle cx="295.2" cy="235.2" r="1.5" stroke="#e0ff1f"/><circle cx="349.8" cy="292.2" r="1.5" stroke="#b2ff4d"/><circle cx="335.8" cy="250.2" r="1.5" stroke="#f0ff0f"/><circle cx="284.2" cy="230.2" r="1.5" stroke="#ffff00"/><circle cx="300.8" cy="231.2" r="1.5" stroke="#f0ff0f"/><circle cx="311.8" cy="279.2" r="1.5" stroke="#aeff51"/><path d="M286.2 311.8h5m-2.5-2.5v5" stroke="#7eff81"/><circle cx="322.2" cy="318.2" r="1.5" stroke="#a5ff5a"/><circle cx="284.2" cy="293.2" r="1.5" stroke="#9bff64"/><circle cx="270.2" cy="298.2" r="1.5" stroke="#a3ff5c"/><circle cx="268.2" cy="273.2" r="1.5" stroke="#c2ff3d"/><circle cx="334.8" cy="297.8" r="1.5" stroke="#b0ff4f"/><circle cx="302.8" cy="262.2" r="1.5" stroke="#d4ff2b"/><circle cx="374.2" cy="231.8" r="1.5" stroke="#e7ff18"/><circle cx="284.8" cy="280.2" r="1.5" stroke="#a0ff5f"/><circle cx="279.2" cy="284.8" r="1.5" stroke="#a4ff5b"/><circle cx="274.2" cy="307.8" r="1.5" stroke="#87ff78"/><circle cx="322.8" cy="281.2" r="1.5" stroke="#bfff40"/><path d="M297.2 321.8h5m-2.5-2.5v5" stroke="#7eff81"/><circle cx="313.2" cy="287.8" r="1.5" stroke="#acff53"/><circle cx="242.2" cy="241.2" r="1.5" stroke="#f0ff0f"/><circle cx="296.8" cy="273.8" r="1.5" stroke="#b2ff4d"/><circle cx="303.2" cy="264.8" r="1.5" stroke="#d2ff2d"/><circle cx="280.2" cy="265.2" r="1.5" stroke="#d4ff2b"/><circle cx="232.2" cy="249.2" r="1.5" stroke="#ffff00"/><circle cx="308.8" cy="292.2" r="1.5" stroke="#88ff77"/><path d="M277.2 297.2h5m-2.5-2.5v5" stroke="#7cff83"/><circle cx="371.8" cy="246.2" r="1.5" stroke="#f3ff0c"/><circle cx="294.8" cy="268.8" r="1.5" stroke="#c8ff37"/><circle cx="283.2" cy="281.2" r="1.5" stroke="#b6ff49"/><circle cx="287.2" cy="312.8" r="1.5" stroke="#83ff7c"/><circle cx="288.2" cy="302.8" r="1.5" stroke="#89ff76"/><circle cx="322.2" cy="302.8" r="1.5" stroke="#8fff70"/><path d="M300.8 300.8h5m-2.5-2.5v5" stroke="#7dff82"/><circle cx="270.2" cy="298.2" r="1.5" stroke="#acff53"/><circle cx="267.2" cy="276.2" r="1.5" stroke="#c4ff3b"/><circle cx="293.8" cy="265.8" r="1.5" stroke="#d8ff27"/><circle cx="324.8" cy="256.2" r="1.5" stroke="#e4ff1b"/><circle cx="283.2" cy="274.8" r="1.5" stroke="#b4ff4b"/><circle cx="236.8" cy="258.2" r="1.5" stroke="#ffeb00"/><circle cx="217.2" cy="243.2" r="1.5" stroke="#faff05"/><circle cx="281.8" cy="289.2" r="1.5" stroke="#97ff68"/><path d="M306.8 336.2h5m-2.5-2.5v5" stroke="#7fff80"/><circle cx="286.2" cy="292.2" r="1.5" stroke="#8eff71"/><circle cx="271.2" cy="296.2" r="1.5" stroke="#a0ff5f"/><circle cx="294.8" cy="312.8" r="1.5" stroke="#90ff6f"/><circle cx="299.8" cy="246.2" r="1.5" stroke="#e6ff19"/><circle cx="331.8" cy="223.2" r="1.5" stroke="#f6ff09"/><circle cx="258.8" cy="304.2" r="1.5" stroke="#c9ff36"/><circle cx="291.8" cy="316.8" r="1.5" stroke="#93ff6c"/><circle cx="353.2" cy="294.8" r="1.5" stroke="#d7ff28"/><circle cx="359.2" cy="253.8" r="1.5" stroke="#edff12"/><circle cx="309.2" cy="319.8" r="1.5" stroke="#96ff69"/><circle cx="316.2" cy="254.2" r="1.5" stroke="#b0ff4f"/><circle cx="326.8" cy="267.8" r="1.5" stroke="#c4ff3b"/><circle cx="296.8" cy="331.8" r="1.5" stroke="#83ff7c"/><path d="M277.2 316.8h5m-2.5-2.5v5" stroke="#6dff92"/><circle cx="300.2" cy="327.2" r="1.5" stroke="#9dff62"/><circle cx="258.2" cy="335.2" r="1.5" stroke="#b6ff49"/><circle cx="302.8" cy="295.8" r="1.5" stroke="#95ff6a"/><path d="M277.8 320.8h5m-2.5-2.5v5" stroke="#6fff90"/><circle cx="294.2" cy="255.8" r="1.5" stroke="#ddff22"/><circle cx="351.8" cy="291.8" r="1.5" stroke="#a4ff5b"/><circle cx="366.8" cy="251.8" r="1.5" stroke="#e4ff1b"/><circle cx="304.2" cy="244.8" r="1.5" stroke="#ecff13"/><circle cx="312.2" cy="276.8" r="1.5" stroke="#b2ff4d"/><circle cx="342.8" cy="288.8" r="1.5" stroke="#ccff33"/><circle cx="338.2" cy="313.8" r="1.5" stroke="#aaff55"/><circle cx="342.8" cy="274.2" r="1.5" stroke="#c1ff3e"/><circle cx="309.2" cy="252.2" r="1.5" stroke="#e4ff1b"/><circle cx="281.2" cy="303.2" r="1.5" stroke="#83ff7c"/><circle cx="290.2" cy="304.8" r="1.5" stroke="#82ff7d"/><circle cx="369.8" cy="277.2" r="1.5" stroke="#b4ff4b"/><circle cx="301.8" cy="316.2" r="1.5" stroke="#94ff6b"/><circle cx="357.2" cy="283.2" r="1.5" stroke="#bbff44"/><circle cx="286.2" cy="327.2" r="1.5" stroke="#9dff62"/><circle cx="290.2" cy="216.8" r="1.5" stroke="#f8ff07"/><circle cx="253.2" cy="267.8" r="1.5" stroke="#edff12"/><circle cx="355.2" cy="254.2" r="1.5" stroke="#efff10"/><circle cx="332.2" cy="268.2" r="1.5" stroke="#d9ff26"/><circle cx="286.8" cy="261.8" r="1.5" stroke="#f1ff0e"/><circle cx="294.8" cy="267.2" r="1.5" stroke="#ceff31"/><circle cx="283.8" cy="241.2" r="1.5" stroke="#eeff11"/><circle cx="356.2" cy="289.2" r="1.5" stroke="#a7ff58"/><circle cx="303.2" cy="254.2" r="1.5" stroke="#d5ff2a"/><circle cx="271.2" cy="299.2" r="1.5" stroke="#81ff7e"/><circle cx="371.8" cy="254.8" r="1.5" stroke="#dcff23"/><circle cx="357.2" cy="288.8" r="1.5" stroke="#acff53"/><circle cx="291.2" cy="251.2" r="1.5" stroke="#e7ff18"/><circle cx="372.8" cy="229.8" r="1.5" stroke="#c5ff3a"/><circle cx="348.2" cy="291.8" r="1.5" stroke="#adff52"/><circle cx="284.8" cy="291.2" r="1.5" stroke="#9bff64"/><circle cx="295.8" cy="297.8" r="1.5" stroke="#87ff78"/><circle cx="272.8" cy="227.2" r="1.5" stroke="#f2ff0d"/><circle cx="328.8" cy="302.8" r="1.5" stroke="#c6ff39"/><circle cx="253.2" cy="310.2" r="1.5" stroke="#b8ff47"/><circle cx="275.8" cy="285.8" r="1.5" stroke="#b1ff4e"/><circle cx="282.8" cy="241.8" r="1.5" stroke="#e2ff1d"/><circle cx="320.2" cy="220.8" r="1.5" stroke="#f1ff0e"/><circle cx="293.2" cy="262.8" r="1.5" stroke="#d7ff28"/><circle cx="286.8" cy="334.2" r="1.5" stroke="#b5ff4a"/><circle cx="314.8" cy="270.8" r="1.5" stroke="#bbff44"/><circle cx="288.8" cy="328.2" r="1.5" stroke="#93ff6c"/><circle cx="278.8" cy="249.2" r="1.5" stroke="#e9ff16"/><circle cx="243.8" cy="302.2" r="1.5" stroke="#cbff34"/><circle cx="290.8" cy="234.8" r="1.5" stroke="#f4ff0b"/><circle cx="349.2" cy="257.2" r="1.5" stroke="#abff54"/><circle cx="348.8" cy="236.8" r="1.5" stroke="#e8ff17"/><circle cx="301.2" cy="265.2" r="1.5" stroke="#daff25"/><circle cx="320.8" cy="296.2" r="1.5" stroke="#8dff72"/><circle cx="348.8" cy="295.2" r="1.5" stroke="#b4ff4b"/><circle cx="331.8" cy="270.8" r="1.5" stroke="#c8ff37"/><circle cx="317.2" cy="289.2" r="1.5" stroke="#98ff67"/><circle cx="315.8" cy="280.8" r="1.5" stroke="#a0ff5f"/><circle cx="295.8" cy="247.8" r="1.5" stroke="#edff12"/><circle cx="302.2" cy="256.8" r="1.5" stroke="#ecff13"/><circle cx="261.8" cy="289.2" r="1.5" stroke="#c1ff3e"/><circle cx="303.8" cy="292.2" r="1.5" stroke="#8bff74"/><path d="M283.2 303.2h5m-2.5-2.5v5" stroke="#76ff89"/><circle cx="246.8" cy="234.8" r="1.5" stroke="#dfff20"/><circle cx="283.8" cy="293.2" r="1.5" stroke="#86ff79"/><circle cx="266.2" cy="298.8" r="1.5" stroke="#a1ff5e"/><circle cx="339.8" cy="295.8" r="1.5" stroke="#a4ff5b"/><circle cx="278.8" cy="307.2" r="1.5" stroke="#82ff7d"/><circle cx="290.2" cy="295.8" r="1.5" stroke="#9dff62"/><circle cx="259.8" cy="267.2" r="1.5" stroke="#dfff20"/><circle cx="295.2" cy="333.8" r="1.5" stroke="#aaff55"/><circle cx="311.8" cy="273.8" r="1.5" stroke="#b8ff47"/><circle cx="371.2" cy="295.8" r="1.5" stroke="#d4ff2b"/><path d="M320.8 301.8h5m-2.5-2.5v5" stroke="#7eff81"/><circle cx="282.8" cy="236.2" r="1.5" stroke="#deff21"/><circle cx="275.2" cy="244.8" r="1.5" stroke="#e6ff19"/><circle cx="291.8" cy="318.2" r="1.5" stroke="#abff54"/><circle cx="317.2" cy="270.2" r="1.5" stroke="#c9ff36"/><circle cx="351.8" cy="249.8" r="1.5" stroke="#c9ff36"/><circle cx="267.2" cy="281.2" r="1.5" stroke="#b3ff4c"/><circle cx="282.8" cy="300.2" r="1.5" stroke="#84ff7b"/><circle cx="310.8" cy="298.8" r="1.5" stroke="#8dff72"/><circle cx="306.8" cy="278.2" r="1.5" stroke="#b3ff4c"/><circle cx="274.2" cy="276.8" r="1.5" stroke="#a9ff56"/><circle cx="313.2" cy="261.8" r="1.5" stroke="#bbff44"/><circle cx="279.8" cy="331.2" r="1.5" stroke="#a7ff58"/><path d="M289.8 304.8h5m-2.5-2.5v5" stroke="#7fff80"/><path d="M297.8 330.2h5m-2.5-2.5v5" stroke="#77ff88"/><circle cx="312.8" cy="276.8" r="1.5" stroke="#94ff6b"/><circle cx="288.2" cy="312.2" r="1.5" stroke="#b2ff4d"/><circle cx="367.8" cy="228.8" r="1.5" stroke="#fcff03"/><circle cx="243.2" cy="262.2" r="1.5" stroke="#fcff03"/><circle cx="289.8" cy="289.8" r="1.5" stroke="#9aff65"/><path d="M291.8 304.2h5m-2.5-2.5v5" stroke="#7dff82"/><path d="M304.2 303.8h5m-2.5-2.5v5" stroke="#7eff81"/><circle cx="297.8" cy="296.2" r="1.5" stroke="#9aff65"/><circle cx="293.8" cy="318.2" r="1.5" stroke="#8aff75"/><circle cx="347.2" cy="227.2" r="1.5" stroke="#eeff11"/><path d="M279.2 320.2h5m-2.5-2.5v5" stroke="#7eff81"/><circle cx="300.2" cy="293.2" r="1.5" stroke="#9aff65"/><circle cx="358.8" cy="266.8" r="1.5" stroke="#daff25"/><circle cx="286.8" cy="266.2" r="1.5" stroke="#c1ff3e"/><circle cx="293.2" cy="273.8" r="1.5" stroke="#bfff40"/><path d="M281.8 305.2h5m-2.5-2.5v5" stroke="#7fff80"/><circle cx="267.2" cy="310.2" r="1.5" stroke="#a0ff5f"/><circle cx="323.8" cy="298.8" r="1.5" stroke="#c1ff3e"/><circle cx="301.8" cy="281.8" r="1.5" stroke="#a7ff58"/><circle cx="267.8" cy="296.8" r="1.5" stroke="#b0ff4f"/><circle cx="322.8" cy="263.2" r="1.5" stroke="#ceff31"/><circle cx="317.8" cy="267.2" r="1.5" stroke="#d2ff2d"/><circle cx="329.2" cy="314.8" r="1.5" stroke="#8eff71"/><circle cx="320.2" cy="279.8" r="1.5" stroke="#baff45"/><circle cx="265.2" cy="325.2" r="1.5" stroke="#8aff75"/><circle cx="326.8" cy="275.2" r="1.5" stroke="#ccff33"/><circle cx="351.2" cy="293.8" r="1.5" stroke="#caff35"/><circle cx="288.2" cy="236.2" r="1.5" stroke="#f4ff0b"/><circle cx="367.2" cy="252.2" r="1.5" stroke="#9dff62"/><circle cx="349.8" cy="256.2" r="1.5" stroke="#d5ff2a"/><circle cx="306.2" cy="316.2" r="1.5" stroke="#98ff67"/><circle cx="351.8" cy="219.2" r="1.5" stroke="#edff12"/><circle cx="313.2" cy="311.8" r="1.5" stroke="#9aff65"/><circle cx="258.8" cy="275.8" r="1.5" stroke="#daff25"/><circle cx="276.2" cy="300.8" r="1.5" stroke="#92ff6d"/><circle cx="271.8" cy="291.8" r="1.5" stroke="#a8ff57"/><circle cx="258.8" cy="247.2" r="1.5" stroke="#fffc00"/><circle cx="278.2" cy="294.2" r="1.5" stroke="#8fff70"/><circle cx="291.2" cy="309.2" r="1.5" stroke="#82ff7d"/><circle cx="257.2" cy="289.2" r="1.5" stroke="#b4ff4b"/><circle cx="299.8" cy="285.2" r="1.5" stroke="#9bff64"/><circle cx="297.8" cy="248.8" r="1.5" stroke="#eeff11"/><circle cx="286.8" cy="302.2" r="1.5" stroke="#89ff76"/><circle cx="320.2" cy="252.8" r="1.5" stroke="#caff35"/><circle cx="277.2" cy="277.2" r="1.5" stroke="#c9ff36"/><circle cx="293.8" cy="240.2" r="1.5" stroke="#e9ff16"/><circle cx="311.8" cy="318.8" r="1.5" stroke="#c1ff3e"/><circle cx="357.2" cy="277.2" r="1.5" stroke="#bbff44"/><circle cx="328.8" cy="310.2" r="1.5" stroke="#93ff6c"/><circle cx="352.8" cy="306.2" r="1.5" stroke="#aaff55"/><circle cx="320.8" cy="292.2" r="1.5" stroke="#9dff62"/><circle cx="271.2" cy="286.2" r="1.5" stroke="#aeff51"/><circle cx="284.8" cy="317.8" r="1.5" stroke="#89ff76"/><circle cx="295.2" cy="315.8" r="1.5" stroke="#8bff74"/><circle cx="281.8" cy="298.2" r="1.5" stroke="#87ff78"/><circle cx="308.2" cy="268.2" r="1.5" stroke="#d3ff2c"/><circle cx="319.2" cy="278.8" r="1.5" stroke="#b2ff4d"/><path d="M281.2 299.8h5m-2.5-2.5v5" stroke="#7bff84"/><circle cx="280.8" cy="303.2" r="1.5" stroke="#86ff79"/><circle cx="345.8" cy="243.8" r="1.5" stroke="#e7ff18"/><circle cx="277.8" cy="271.8" r="1.5" stroke="#beff41"/><path d="M263.2 312.8h5m-2.5-2.5v5" stroke="#74ff8b"/><circle cx="332.8" cy="217.2" r="1.5" stroke="#fffb00"/><circle cx="288.8" cy="299.2" r="1.5" stroke="#91ff6e"/><circle cx="284.2" cy="286.8" r="1.5" stroke="#95ff6a"/><circle cx="278.8" cy="266.2" r="1.5" stroke="#e6ff19"/><circle cx="333.8" cy="242.8" r="1.5" stroke="#fff900"/><circle cx="289.2" cy="235.8" r="1.5" stroke="#e8ff17"/><circle cx="303.2" cy="296.8" r="1.5" stroke="#82ff7d"/><circle cx="284.2" cy="275.2" r="1.5" stroke="#cbff34"/><circle cx="265.2" cy="256.8" r="1.5" stroke="#dbff24"/><circle cx="358.2" cy="228.2" r="1.5" stroke="#fbff04"/><circle cx="352.8" cy="240.8" r="1.5" stroke="#f7ff08"/><circle cx="306.2" cy="297.8" r="1.5" stroke="#8aff75"/><circle cx="258.8" cy="315.2" r="1.5" stroke="#8aff75"/><circle cx="295.2" cy="286.8" r="1.5" stroke="#98ff67"/><circle cx="287.8" cy="291.2" r="1.5" stroke="#8dff72"/><circle cx="267.2" cy="245.8" r="1.5" stroke="#d8ff27"/><circle cx="286.2" cy="284.8" r="1.5" stroke="#97ff68"/><circle cx="338.8" cy="251.8" r="1.5" stroke="#edff12"/><circle cx="263.2" cy="253.8" r="1.5" stroke="#daff25"/><circle cx="273.8" cy="295.8" r="1.5" stroke="#9dff62"/><circle cx="357.2" cy="289.2" r="1.5" stroke="#c6ff39"/><circle cx="281.2" cy="260.2" r="1.5" stroke="#dfff20"/><circle cx="312.8" cy="325.2" r="1.5" stroke="#caff35"/><path d="M284.2 307.8h5m-2.5-2.5v5" stroke="#79ff86"/><circle cx="300.8" cy="261.8" r="1.5" stroke="#d8ff27"/><circle cx="266.2" cy="304.8" r="1.5" stroke="#b2ff4d"/><circle cx="263.2" cy="318.2" r="1.5" stroke="#91ff6e"/><circle cx="313.2" cy="243.8" r="1.5" stroke="#e5ff1a"/><circle cx="308.2" cy="279.8" r="1.5" stroke="#a9ff56"/><circle cx="385.2" cy="295.2" r="1.5" stroke="#acff53"/><circle cx="279.8" cy="277.2" r="1.5" stroke="#aeff51"/><circle cx="355.2" cy="252.2" r="1.5" stroke="#dbff24"/><circle cx="293.8" cy="267.2" r="1.5" stroke="#ceff31"/><circle cx="288.8" cy="295.2" r="1.5" stroke="#90ff6f"/><circle cx="284.2" cy="294.2" r="1.5" stroke="#95ff6a"/><circle cx="260.8" cy="244.2" r="1.5" stroke="#f5ff0a"/><path d="M295.2 312.2h5m-2.5-2.5v5" stroke="#78ff87"/><circle cx="263.8" cy="302.2" r="1.5" stroke="#a6ff59"/><circle cx="247.8" cy="286.2" r="1.5" stroke="#daff25"/><circle cx="282.2" cy="285.8" r="1.5" stroke="#afff50"/><circle cx="283.2" cy="298.8" r="1.5" stroke="#8aff75"/><circle cx="305.8" cy="250.8" r="1.5" stroke="#e2ff1d"/><circle cx="264.2" cy="309.2" r="1.5" stroke="#a8ff57"/><circle cx="320.2" cy="326.2" r="1.5" stroke="#9bff64"/><circle cx="332.2" cy="247.8" r="1.5" stroke="#f7ff08"/><circle cx="288.8" cy="254.2" r="1.5" stroke="#efff10"/><circle cx="297.2" cy="266.2" r="1.5" stroke="#c5ff3a"/><circle cx="268.8" cy="296.8" r="1.5" stroke="#b0ff4f"/><circle cx="293.8" cy="311.8" r="1.5" stroke="#89ff76"/><circle cx="365.2" cy="279.2" r="1.5" stroke="#d3ff2c"/><circle cx="251.2" cy="297.2" r="1.5" stroke="#d9ff26"/><circle cx="287.8" cy="318.8" r="1.5" stroke="#a0ff5f"/><path d="M264.2 324.8h5m-2.5-2.5v5" stroke="#6eff91"/><circle cx="262.8" cy="259.8" r="1.5" stroke="#ecff13"/><circle cx="323.8" cy="282.2" r="1.5" stroke="#bdff42"/><circle cx="321.2" cy="269.2" r="1.5" stroke="#d1ff2e"/><circle cx="266.8" cy="281.2" r="1.5" stroke="#c1ff3e"/><circle cx="226.8" cy="251.8" r="1.5" stroke="#f3ff0c"/><circle cx="330.2" cy="248.8" r="1.5" stroke="#f0ff0f"/><circle cx="308.8" cy="276.2" r="1.5" stroke="#b6ff49"/><circle cx="361.2" cy="257.2" r="1.5" stroke="#e0ff1f"/><circle cx="281.2" cy="270.2" r="1.5" stroke="#c8ff37"/><circle cx="297.2" cy="299.8" r="1.5" stroke="#82ff7d"/><circle cx="284.8" cy="299.8" r="1.5" stroke="#90ff6f"/><circle cx="274.8" cy="298.8" r="1.5" stroke="#9cff63"/><circle cx="307.8" cy="228.2" r="1.5" stroke="#f6ff09"/><circle cx="331.2" cy="297.2" r="1.5" stroke="#a6ff59"/><circle cx="373.2" cy="262.8" r="1.5" stroke="#f4ff0b"/><circle cx="275.8" cy="250.8" r="1.5" stroke="#e5ff1a"/><circle cx="307.8" cy="275.2" r="1.5" stroke="#beff41"/><path d="M298.2 304.8h5m-2.5-2.5v5" stroke="#74ff8b"/><circle cx="323.2" cy="268.2" r="1.5" stroke="#dcff23"/><circle cx="309.8" cy="256.8" r="1.5" stroke="#d5ff2a"/><circle cx="349.8" cy="256.8" r="1.5" stroke="#afff50"/><circle cx="330.8" cy="291.2" r="1.5" stroke="#9bff64"/><circle cx="291.2" cy="264.2" r="1.5" stroke="#c2ff3d"/><path d="M307.8 296.2h5m-2.5-2.5v5" stroke="#7cff83"/><circle cx="283.2" cy="292.2" r="1.5" stroke="#93ff6c"/><circle cx="319.8" cy="231.2" r="1.5" stroke="#edff12"/><circle cx="308.2" cy="316.2" r="1.5" stroke="#dbff24"/><path d="M300.8 320.8h5m-2.5-2.5v5" stroke="#7dff82"/><circle cx="291.2" cy="301.8" r="1.5" stroke="#80ff7f"/><circle cx="288.8" cy="256.2" r="1.5" stroke="#f5ff0a"/><circle cx="341.8" cy="329.2" r="1.5" stroke="#c8ff37"/><circle cx="226.8" cy="297.8" r="1.5" stroke="#fff200"/><circle cx="261.8" cy="291.2" r="1.5" stroke="#b6ff49"/><circle cx="302.8" cy="302.2" r="1.5" stroke="#84ff7b"/><circle cx="292.8" cy="291.8" r="1.5" stroke="#8cff73"/><circle cx="261.2" cy="246.2" r="1.5" stroke="#e6ff19"/><circle cx="263.2" cy="247.2" r="1.5" stroke="#eeff11"/><circle cx="319.2" cy="248.8" r="1.5" stroke="#d1ff2e"/><circle cx="232.8" cy="246.8" r="1.5" stroke="#e9ff16"/><circle cx="357.8" cy="224.8" r="1.5" stroke="#b6ff49"/><circle cx="244.8" cy="282.8" r="1.5" stroke="#d6ff29"/><circle cx="319.8" cy="254.2" r="1.5" stroke="#caff35"/><circle cx="275.8" cy="279.8" r="1.5" stroke="#bdff42"/><circle cx="304.2" cy="290.8" r="1.5" stroke="#8dff72"/><circle cx="283.2" cy="285.2" r="1.5" stroke="#a7ff58"/><circle cx="241.2" cy="264.2" r="1.5" stroke="#f2ff0d"/><circle cx="364.2" cy="291.2" r="1.5" stroke="#bfff40"/><circle cx="293.8" cy="267.8" r="1.5" stroke="#d0ff2f"/><circle cx="266.8" cy="253.2" r="1.5" stroke="#e8ff17"/><circle cx="321.2" cy="294.2" r="1.5" stroke="#93ff6c"/><circle cx="306.2" cy="296.2" r="1.5" stroke="#c0ff3f"/><circle cx="338.8" cy="267.2" r="1.5" stroke="#aaff55"/><circle cx="352.2" cy="243.2" r="1.5" stroke="#ebff14"/><circle cx="292.8" cy="296.8" r="1.5" stroke="#90ff6f"/><circle cx="289.2" cy="275.2" r="1.5" stroke="#c3ff3c"/><circle cx="290.8" cy="314.8" r="1.5" stroke="#a5ff5a"/><circle cx="367.8" cy="251.8" r="1.5" stroke="#e9ff16"/><circle cx="380.2" cy="244.2" r="1.5" stroke="#e3ff1c"/><circle cx="275.2" cy="301.8" r="1.5" stroke="#a0ff5f"/><circle cx="250.8" cy="250.2" r="1.5" stroke="#ffff00"/><circle cx="339.2" cy="266.2" r="1.5" stroke="#e5ff1a"/><circle cx="282.2" cy="302.8" r="1.5" stroke="#8bff74"/><circle cx="289.2" cy="282.8" r="1.5" stroke="#b0ff4f"/><circle cx="299.2" cy="288.8" r="1.5" stroke="#9dff62"/><path d="M319.2 327.2h5m-2.5-2.5v5" stroke="#7cff83"/><circle cx="305.8" cy="257.8" r="1.5" stroke="#ddff22"/><circle cx="253.8" cy="234.8" r="1.5" stroke="#eeff11"/><circle cx="366.8" cy="252.8" r="1.5" stroke="#f5ff0a"/><circle cx="277.2" cy="293.8" r="1.5" stroke="#a5ff5a"/><circle cx="358.8" cy="252.8" r="1.5" stroke="#d8ff27"/><circle cx="296.2" cy="265.2" r="1.5" stroke="#c8ff37"/><circle cx="264.8" cy="303.8" r="1.5" stroke="#aeff51"/><circle cx="345.2" cy="280.8" r="1.5" stroke="#c3ff3c"/><circle cx="292.2" cy="287.8" r="1.5" stroke="#9fff60"/><circle cx="315.2" cy="287.8" r="1.5" stroke="#a0ff5f"/><circle cx="363.2" cy="254.8" r="1.5" stroke="#f5ff0a"/><circle cx="282.8" cy="332.2" r="1.5" stroke="#87ff78"/><circle cx="276.2" cy="253.8" r="1.5" stroke="#e7ff18"/><circle cx="313.2" cy="239.8" r="1.5" stroke="#f3ff0c"/><circle cx="319.8" cy="282.8" r="1.5" stroke="#acff53"/><circle cx="263.2" cy="267.2" r="1.5" stroke="#dbff24"/><circle cx="348.2" cy="282.8" r="1.5" stroke="#d2ff2d"/><circle cx="292.2" cy="265.8" r="1.5" stroke="#c3ff3c"/><path d="M270.2 327.8h5m-2.5-2.5v5" stroke="#6dff92"/><circle cx="297.2" cy="298.2" r="1.5" stroke="#94ff6b"/><circle cx="268.8" cy="274.8" r="1.5" stroke="#c2ff3d"/><path d="M289.2 320.2h5m-2.5-2.5v5" stroke="#7fff80"/><circle cx="302.8" cy="254.8" r="1.5" stroke="#dbff24"/><circle cx="354.2" cy="266.8" r="1.5" stroke="#d8ff27"/><circle cx="291.8" cy="274.2" r="1.5" stroke="#c1ff3e"/><circle cx="296.2" cy="262.2" r="1.5" stroke="#deff21"/><circle cx="265.8" cy="312.2" r="1.5" stroke="#8fff70"/><circle cx="344.8" cy="239.8" r="1.5" stroke="#a7ff58"/><circle cx="301.8" cy="269.2" r="1.5" stroke="#ccff33"/><circle cx="260.8" cy="289.8" r="1.5" stroke="#beff41"/><circle cx="338.8" cy="311.2" r="1.5" stroke="#9fff60"/><circle cx="358.2" cy="269.8" r="1.5" stroke="#d1ff2e"/><circle cx="279.2" cy="284.2" r="1.5" stroke="#b7ff48"/><circle cx="348.8" cy="285.2" r="1.5" stroke="#bfff40"/><path d="M294.8 307.2h5m-2.5-2.5v5" stroke="#7aff85"/><circle cx="281.2" cy="295.2" r="1.5" stroke="#92ff6d"/><circle cx="233.8" cy="267.8" r="1.5" stroke="#ebff14"/><circle cx="268.2" cy="230.8" r="1.5" stroke="#ebff14"/><circle cx="273.8" cy="247.2" r="1.5" stroke="#ecff13"/><path d="M289.2 341.8h5m-2.5-2.5v5" stroke="#7eff81"/><circle cx="275.2" cy="290.8" r="1.5" stroke="#a8ff57"/><circle cx="266.8" cy="297.2" r="1.5" stroke="#96ff69"/><circle cx="324.2" cy="286.8" r="1.5" stroke="#a6ff59"/><circle cx="283.2" cy="303.2" r="1.5" stroke="#82ff7d"/><circle cx="311.2" cy="311.8" r="1.5" stroke="#82ff7d"/><circle cx="315.2" cy="270.8" r="1.5" stroke="#c9ff36"/><circle cx="298.2" cy="312.2" r="1.5" stroke="#97ff68"/><circle cx="359.2" cy="262.2" r="1.5" stroke="#cfff30"/><circle cx="271.2" cy="254.2" r="1.5" stroke="#e7ff18"/><circle cx="281.8" cy="312.2" r="1.5" stroke="#86ff79"/><circle cx="290.2" cy="297.8" r="1.5" stroke="#84ff7b"/><circle cx="329.2" cy="237.2" r="1.5" stroke="#ceff31"/><circle cx="335.8" cy="245.2" r="1.5" stroke="#ecff13"/><circle cx="329.8" cy="217.2" r="1.5" stroke="#b8ff47"/><path d="M266.8 318.8h5m-2.5-2.5v5" stroke="#77ff88"/><circle cx="375.2" cy="256.2" r="1.5" stroke="#daff25"/><circle cx="313.2" cy="246.2" r="1.5" stroke="#f7ff08"/><circle cx="307.8" cy="298.8" r="1.5" stroke="#8bff74"/><circle cx="287.8" cy="310.8" r="1.5" stroke="#89ff76"/><circle cx="371.8" cy="224.8" r="1.5" stroke="#d6ff29"/><circle cx="268.8" cy="290.8" r="1.5" stroke="#b1ff4e"/><circle cx="291.8" cy="247.2" r="1.5" stroke="#e6ff19"/><circle cx="286.8" cy="298.8" r="1.5" stroke="#8dff72"/><circle cx="264.8" cy="236.2" r="1.5" stroke="#e6ff19"/><circle cx="305.2" cy="273.8" r="1.5" stroke="#caff35"/><circle cx="272.8" cy="284.2" r="1.5" stroke="#c2ff3d"/><circle cx="261.8" cy="259.2" r="1.5" stroke="#f4ff0b"/><circle cx="232.2" cy="269.2" r="1.5" stroke="#fbff04"/><circle cx="288.2" cy="250.8" r="1.5" stroke="#eeff11"/><path d="M296.8 326.8h5m-2.5-2.5v5" stroke="#75ff8a"/><circle cx="304.8" cy="289.2" r="1.5" stroke="#90ff6f"/><circle cx="275.2" cy="263.8" r="1.5" stroke="#f9ff06"/><path d="M286.8 324.8h5m-2.5-2.5v5" stroke="#78ff87"/><circle cx="360.8" cy="284.2" r="1.5" stroke="#b4ff4b"/><circle cx="306.2" cy="283.8" r="1.5" stroke="#acff53"/><circle cx="298.2" cy="251.2" r="1.5" stroke="#d7ff28"/><path d="M277.8 322.8h5m-2.5-2.5v5" stroke="#70ff8f"/><circle cx="287.8" cy="295.8" r="1.5" stroke="#8eff71"/><circle cx="340.8" cy="227.2" r="1.5" stroke="#caff35"/><circle cx="276.8" cy="293.8" r="1.5" stroke="#98ff67"/><circle cx="288.2" cy="274.8" r="1.5" stroke="#b2ff4d"/><circle cx="350.2" cy="282.2" r="1.5" stroke="#c1ff3e"/><path d="M264.2 319.2h5m-2.5-2.5v5" stroke="#62ff9d"/><circle cx="295.8" cy="310.8" r="1.5" stroke="#82ff7d"/><circle cx="288.8" cy="276.2" r="1.5" stroke="#afff50"/><circle cx="292.8" cy="251.2" r="1.5" stroke="#dcff23"/><circle cx="277.8" cy="318.8" r="1.5" stroke="#88ff77"/><circle cx="339.2" cy="226.8" r="1.5" stroke="#f1ff0e"/><circle cx="304.2" cy="268.2" r="1.5" stroke="#c0ff3f"/><circle cx="244.8" cy="279.8" r="1.5" stroke="#ebff14"/><circle cx="307.2" cy="248.8" r="1.5" stroke="#bfff40"/><circle cx="310.2" cy="244.8" r="1.5" stroke="#e9ff16"/><circle cx="372.2" cy="251.2" r="1.5" stroke="#e1ff1e"/><circle cx="284.8" cy="343.8" r="1.5" stroke="#94ff6b"/><circle cx="294.2" cy="257.2" r="1.5" stroke="#dbff24"/><circle cx="348.8" cy="261.8" r="1.5" stroke="#e2ff1d"/><circle cx="359.2" cy="268.2" r="1.5" stroke="#cdff32"/><circle cx="329.8" cy="269.8" r="1.5" stroke="#cfff30"/><circle cx="294.8" cy="259.2" r="1.5" stroke="#d1ff2e"/><circle cx="270.8" cy="280.2" r="1.5" stroke="#bcff43"/><circle cx="277.2" cy="307.8" r="1.5" stroke="#8bff74"/><path d="M283.2 306.2h5m-2.5-2.5v5" stroke="#72ff8d"/><circle cx="321.8" cy="304.2" r="1.5" stroke="#95ff6a"/><circle cx="282.2" cy="238.8" r="1.5" stroke="#f9ff06"/><circle cx="284.8" cy="298.2" r="1.5" stroke="#a0ff5f"/><circle cx="309.2" cy="309.2" r="1.5" stroke="#84ff7b"/><circle cx="258.8" cy="256.2" r="1.5" stroke="#e6ff19"/><circle cx="289.2" cy="310.2" r="1.5" stroke="#84ff7b"/><circle cx="306.2" cy="284.8" r="1.5" stroke="#a7ff58"/><path d="M311.8 306.8h5m-2.5-2.5v5" stroke="#74ff8b"/><circle cx="334.2" cy="211.2" r="1.5" stroke="#fff800"/><circle cx="301.2" cy="321.8" r="1.5" stroke="#84ff7b"/><circle cx="361.2" cy="282.8" r="1.5" stroke="#b0ff4f"/><circle cx="291.2" cy="304.8" r="1.5" stroke="#92ff6d"/><circle cx="281.2" cy="243.2" r="1.5" stroke="#ddff22"/><circle cx="374.2" cy="234.2" r="1.5" stroke="#e8ff17"/><circle cx="284.2" cy="304.8" r="1.5" stroke="#87ff78"/><circle cx="298.8" cy="291.8" r="1.5" stroke="#93ff6c"/><circle cx="325.2" cy="266.8" r="1.5" stroke="#d9ff26"/><circle cx="275.8" cy="276.8" r="1.5" stroke="#c1ff3e"/><circle cx="278.2" cy="305.2" r="1.5" stroke="#83ff7c"/><circle cx="334.8" cy="311.8" r="1.5" stroke="#95ff6a"/><circle cx="284.8" cy="302.8" r="1.5" stroke="#80ff7f"/><circle cx="296.8" cy="262.8" r="1.5" stroke="#d3ff2c"/><circle cx="319.8" cy="270.8" r="1.5" stroke="#d4ff2b"/><circle cx="271.2" cy="335.2" r="1.5" stroke="#8cff73"/><circle cx="291.2" cy="290.8" r="1.5" stroke="#95ff6a"/><circle cx="324.8" cy="272.8" r="1.5" stroke="#beff41"/><circle cx="273.2" cy="294.8" r="1.5" stroke="#b1ff4e"/><circle cx="326.2" cy="299.2" r="1.5" stroke="#9aff65"/><circle cx="310.8" cy="240.8" r="1.5" stroke="#aaff55"/><circle cx="285.2" cy="226.2" r="1.5" stroke="#fcff03"/><circle cx="299.8" cy="287.2" r="1.5" stroke="#9bff64"/><circle cx="336.2" cy="282.8" r="1.5" stroke="#c3ff3c"/><circle cx="284.2" cy="291.8" r="1.5" stroke="#91ff6e"/><circle cx="276.2" cy="290.8" r="1.5" stroke="#93ff6c"/><circle cx="263.8" cy="296.2" r="1.5" stroke="#afff50"/><circle cx="271.2" cy="303.8" r="1.5" stroke="#9cff63"/><circle cx="297.8" cy="264.2" r="1.5" stroke="#c4ff3b"/><circle cx="345.8" cy="268.2" r="1.5" stroke="#dfff20"/><circle cx="295.8" cy="286.8" r="1.5" stroke="#abff54"/><circle cx="315.8" cy="297.8" r="1.5" stroke="#91ff6e"/><circle cx="297.8" cy="240.2" r="1.5" stroke="#f0ff0f"/><circle cx="331.2" cy="264.2" r="1.5" stroke="#cdff32"/><circle cx="277.2" cy="288.8" r="1.5" stroke="#90ff6f"/><circle cx="350.2" cy="294.2" r="1.5" stroke="#bcff43"/><circle cx="273.8" cy="223.8" r="1.5" stroke="#ebff14"/><circle cx="307.8" cy="266.2" r="1.5" stroke="#d4ff2b"/><circle cx="280.8" cy="257.2" r="1.5" stroke="#e3ff1c"/><circle cx="299.8" cy="288.2" r="1.5" stroke="#a5ff5a"/><circle cx="296.2" cy="252.2" r="1.5" stroke="#e2ff1d"/><circle cx="229.2" cy="316.2" r="1.5" stroke="#c9ff36"/><path d="M267.2 327.2h5m-2.5-2.5v5" stroke="#75ff8a"/><circle cx="331.8" cy="271.2" r="1.5" stroke="#c9ff36"/><circle cx="292.2" cy="285.8" r="1.5" stroke="#8fff70"/><circle cx="378.2" cy="293.8" r="1.5" stroke="#c6ff39"/><circle cx="359.2" cy="229.2" r="1.5" stroke="#a6ff59"/><circle cx="249.2" cy="270.8" r="1.5" stroke="#d8ff27"/><circle cx="294.2" cy="313.2" r="1.5" stroke="#9cff63"/><circle cx="322.8" cy="295.8" r="1.5" stroke="#96ff69"/><circle cx="335.2" cy="274.2" r="1.5" stroke="#d6ff29"/><circle cx="329.8" cy="292.2" r="1.5" stroke="#c1ff3e"/><circle cx="307.2" cy="253.8" r="1.5" stroke="#edff12"/><circle cx="352.2" cy="293.8" r="1.5" stroke="#a6ff59"/><circle cx="341.2" cy="268.8" r="1.5" stroke="#cdff32"/><circle cx="290.2" cy="308.2" r="1.5" stroke="#85ff7a"/><path d="M275.8 303.2h5m-2.5-2.5v5" stroke="#77ff88"/><circle cx="282.8" cy="301.2" r="1.5" stroke="#9aff65"/><circle cx="305.8" cy="289.2" r="1.5" stroke="#9dff62"/><circle cx="301.8" cy="318.2" r="1.5" stroke="#b7ff48"/><circle cx="297.2" cy="279.8" r="1.5" stroke="#b0ff4f"/><circle cx="342.8" cy="254.2" r="1.5" stroke="#a0ff5f"/><circle cx="361.2" cy="283.2" r="1.5" stroke="#bcff43"/><circle cx="299.2" cy="246.2" r="1.5" stroke="#efff10"/><circle cx="291.8" cy="312.8" r="1.5" stroke="#b2ff4d"/><circle cx="288.8" cy="247.8" r="1.5" stroke="#dcff23"/><circle cx="240.8" cy="270.8" r="1.5" stroke="#f0ff0f"/><circle cx="328.2" cy="258.8" r="1.5" stroke="#c9ff36"/><circle cx="302.8" cy="254.2" r="1.5" stroke="#d7ff28"/><circle cx="345.8" cy="244.8" r="1.5" stroke="#9cff63"/><circle cx="293.2" cy="318.2" r="1.5" stroke="#83ff7c"/><circle cx="288.8" cy="307.8" r="1.5" stroke="#95ff6a"/><path d="M294.2 311.2h5m-2.5-2.5v5" stroke="#7cff83"/><circle cx="345.8" cy="271.8" r="1.5" stroke="#fbff04"/><circle cx="279.8" cy="273.8" r="1.5" stroke="#bdff42"/><circle cx="257.8" cy="248.8" r="1.5" stroke="#e2ff1d"/><circle cx="379.2" cy="266.8" r="1.5" stroke="#ecff13"/><circle cx="303.8" cy="249.8" r="1.5" stroke="#e6ff19"/><circle cx="283.8" cy="292.2" r="1.5" stroke="#93ff6c"/><path d="M286.2 297.8h5m-2.5-2.5v5" stroke="#7fff80"/><circle cx="308.8" cy="225.8" r="1.5" stroke="#f3ff0c"/><circle cx="384.8" cy="242.2" r="1.5" stroke="#fff500"/><circle cx="264.2" cy="330.8" r="1.5" stroke="#b2ff4d"/><circle cx="355.2" cy="284.2" r="1.5" stroke="#a5ff5a"/><circle cx="299.8" cy="296.2" r="1.5" stroke="#94ff6b"/><circle cx="301.2" cy="255.8" r="1.5" stroke="#d8ff27"/><circle cx="357.8" cy="280.2" r="1.5" stroke="#c5ff3a"/><circle cx="300.8" cy="259.2" r="1.5" stroke="#e1ff1e"/><circle cx="262.8" cy="247.2" r="1.5" stroke="#ddff22"/><circle cx="282.2" cy="298.8" r="1.5" stroke="#90ff6f"/><circle cx="318.2" cy="302.8" r="1.5" stroke="#a4ff5b"/><circle cx="270.2" cy="298.8" r="1.5" stroke="#9aff65"/><circle cx="278.8" cy="281.2" r="1.5" stroke="#c0ff3f"/><circle cx="293.2" cy="257.8" r="1.5" stroke="#d5ff2a"/><circle cx="265.2" cy="288.8" r="1.5" stroke="#b6ff49"/><circle cx="311.8" cy="302.2" r="1.5" stroke="#90ff6f"/><circle cx="343.2" cy="269.2" r="1.5" stroke="#e6ff19"/><circle cx="364.8" cy="253.2" r="1.5" stroke="#fff500"/><circle cx="302.2" cy="325.2" r="1.5" stroke="#8eff71"/><circle cx="352.8" cy="271.8" r="1.5" stroke="#b0ff4f"/><circle cx="351.8" cy="264.2" r="1.5" stroke="#edff12"/><circle cx="368.8" cy="217.8" r="1.5" stroke="#f6ff09"/><circle cx="281.2" cy="289.2" r="1.5" stroke="#c2ff3d"/><circle cx="295.8" cy="314.2" r="1.5" stroke="#95ff6a"/><circle cx="287.8" cy="290.8" r="1.5" stroke="#8dff72"/><circle cx="335.8" cy="251.8" r="1.5" stroke="#deff21"/><circle cx="327.8" cy="288.8" r="1.5" stroke="#b2ff4d"/><circle cx="368.8" cy="236.8" r="1.5" stroke="#e9ff16"/><circle cx="363.8" cy="212.8" r="1.5" stroke="#ffef00"/><circle cx="290.8" cy="306.8" r="1.5" stroke="#83ff7c"/><circle cx="312.2" cy="290.8" r="1.5" stroke="#98ff67"/><circle cx="299.8" cy="294.2" r="1.5" stroke="#90ff6f"/><circle cx="303.2" cy="297.2" r="1.5" stroke="#91ff6e"/><circle cx="284.8" cy="280.2" r="1.5" stroke="#a9ff56"/><circle cx="301.8" cy="284.8" r="1.5" stroke="#abff54"/><circle cx="343.2" cy="241.8" r="1.5" stroke="#f0ff0f"/><circle cx="310.2" cy="270.2" r="1.5" stroke="#c7ff38"/><circle cx="367.2" cy="236.2" r="1.5" stroke="#b6ff49"/><circle cx="271.2" cy="312.2" r="1.5" stroke="#a7ff58"/><circle cx="370.8" cy="287.8" r="1.5" stroke="#bbff44"/><circle cx="316.8" cy="265.8" r="1.5" stroke="#c7ff38"/><circle cx="274.8" cy="308.2" r="1.5" stroke="#aaff55"/><circle cx="286.8" cy="296.8" r="1.5" stroke="#8bff74"/><circle cx="354.8" cy="278.8" r="1.5" stroke="#deff21"/><circle cx="278.8" cy="310.2" r="1.5" stroke="#8cff73"/><circle cx="249.2" cy="297.2" r="1.5" stroke="#ceff31"/><circle cx="329.2" cy="240.2" r="1.5" stroke="#fff700"/><circle cx="379.2" cy="304.2" r="1.5" stroke="#d2ff2d"/><circle cx="326.8" cy="291.8" r="1.5" stroke="#95ff6a"/><circle cx="307.8" cy="257.8" r="1.5" stroke="#d6ff29"/><circle cx="286.2" cy="309.8" r="1.5" stroke="#8bff74"/><circle cx="282.2" cy="305.8" r="1.5" stroke="#84ff7b"/><circle cx="287.2" cy="285.8" r="1.5" stroke="#a0ff5f"/><circle cx="277.2" cy="255.2" r="1.5" stroke="#c7ff38"/><circle cx="292.2" cy="327.8" r="1.5" stroke="#aeff51"/><circle cx="276.8" cy="248.8" r="1.5" stroke="#d7ff28"/><circle cx="276.2" cy="291.2" r="1.5" stroke="#94ff6b"/><circle cx="344.2" cy="262.8" r="1.5" stroke="#f7ff08"/><circle cx="313.8" cy="236.8" r="1.5" stroke="#fff700"/><circle cx="289.8" cy="329.8" r="1.5" stroke="#a0ff5f"/><circle cx="265.8" cy="299.2" r="1.5" stroke="#b3ff4c"/><circle cx="269.8" cy="301.2" r="1.5" stroke="#b3ff4c"/><circle cx="289.2" cy="287.8" r="1.5" stroke="#90ff6f"/><circle cx="356.2" cy="292.8" r="1.5" stroke="#c7ff38"/><circle cx="286.8" cy="289.8" r="1.5" stroke="#9aff65"/><circle cx="280.8" cy="254.2" r="1.5" stroke="#fff300"/><circle cx="322.2" cy="235.8" r="1.5" stroke="#f2ff0d"/><circle cx="273.8" cy="303.2" r="1.5" stroke="#9fff60"/><circle cx="354.8" cy="282.8" r="1.5" stroke="#c8ff37"/><circle cx="352.8" cy="283.2" r="1.5" stroke="#cfff30"/><circle cx="334.2" cy="273.2" r="1.5" stroke="#caff35"/><circle cx="292.2" cy="304.8" r="1.5" stroke="#8fff70"/><circle cx="289.2" cy="295.8" r="1.5" stroke="#83ff7c"/><circle cx="338.8" cy="261.8" r="1.5" stroke="#e4ff1b"/><path d="M301.2 307.2h5m-2.5-2.5v5" stroke="#78ff87"/><circle cx="237.2" cy="271.8" r="1.5" stroke="#e0ff1f"/><circle cx="278.8" cy="257.2" r="1.5" stroke="#ecff13"/><circle cx="348.2" cy="273.2" r="1.5" stroke="#ccff33"/><circle cx="271.8" cy="250.8" r="1.5" stroke="#eaff15"/><circle cx="241.2" cy="248.2" r="1.5" stroke="#f0ff0f"/><path d="M285.2 306.2h5m-2.5-2.5v5" stroke="#7dff82"/><path d="M310.2 315.8h5m-2.5-2.5v5" stroke="#78ff87"/><circle cx="286.8" cy="277.2" r="1.5" stroke="#b8ff47"/><circle cx="298.2" cy="312.2" r="1.5" stroke="#b2ff4d"/><circle cx="293.8" cy="231.2" r="1.5" stroke="#daff25"/><circle cx="264.8" cy="285.8" r="1.5" stroke="#c0ff3f"/><circle cx="307.2" cy="266.8" r="1.5" stroke="#cfff30"/><circle cx="354.8" cy="285.2" r="1.5" stroke="#bdff42"/><path d="M309.8 326.8h5m-2.5-2.5v5" stroke="#70ff8f"/><circle cx="261.8" cy="333.8" r="1.5" stroke="#9dff62"/><circle cx="284.8" cy="296.2" r="1.5" stroke="#85ff7a"/><circle cx="283.8" cy="282.8" r="1.5" stroke="#a1ff5e"/><circle cx="297.2" cy="309.8" r="1.5" stroke="#90ff6f"/><circle cx="290.8" cy="288.8" r="1.5" stroke="#9eff61"/><circle cx="277.2" cy="304.8" r="1.5" stroke="#85ff7a"/><path d="M284.8 305.8h5m-2.5-2.5v5" stroke="#7dff82"/><circle cx="275.8" cy="262.8" r="1.5" stroke="#deff21"/><circle cx="295.8" cy="275.8" r="1.5" stroke="#b8ff47"/><circle cx="372.8" cy="271.8" r="1.5" stroke="#cdff32"/><circle cx="337.8" cy="245.2" r="1.5" stroke="#dfff20"/><circle cx="308.8" cy="276.8" r="1.5" stroke="#b2ff4d"/><circle cx="301.2" cy="286.2" r="1.5" stroke="#98ff67"/><circle cx="321.2" cy="293.8" r="1.5" stroke="#91ff6e"/><circle cx="278.8" cy="336.2" r="1.5" stroke="#85ff7a"/><circle cx="296.2" cy="275.2" r="1.5" stroke="#bcff43"/><circle cx="337.2" cy="275.8" r="1.5" stroke="#beff41"/><circle cx="361.2" cy="234.8" r="1.5" stroke="#acff53"/><circle cx="316.8" cy="247.8" r="1.5" stroke="#f9ff06"/><circle cx="281.8" cy="287.8" r="1.5" stroke="#b3ff4c"/><circle cx="310.2" cy="286.8" r="1.5" stroke="#b2ff4d"/><circle cx="274.2" cy="258.8" r="1.5" stroke="#f4ff0b"/><circle cx="286.8" cy="317.2" r="1.5" stroke="#92ff6d"/><circle cx="261.2" cy="257.8" r="1.5" stroke="#feff01"/><circle cx="283.8" cy="299.8" r="1.5" stroke="#8dff72"/><circle cx="279.8" cy="309.2" r="1.5" stroke="#94ff6b"/><circle cx="291.2" cy="278.2" r="1.5" stroke="#aaff55"/><circle cx="365.8" cy="270.8" r="1.5" stroke="#d3ff2c"/><circle cx="306.2" cy="241.2" r="1.5" stroke="#eaff15"/><circle cx="255.8" cy="311.2" r="1.5" stroke="#beff41"/><circle cx="306.2" cy="271.8" r="1.5" stroke="#c3ff3c"/><circle cx="364.8" cy="240.2" r="1.5" stroke="#fffb00"/><path d="M297.8 300.8h5m-2.5-2.5v5" stroke="#73ff8c"/><circle cx="368.2" cy="236.2" r="1.5" stroke="#e4ff1b"/><circle cx="309.8" cy="322.8" r="1.5" stroke="#93ff6c"/><circle cx="297.2" cy="252.8" r="1.5" stroke="#d7ff28"/><circle cx="321.2" cy="244.8" r="1.5" stroke="#ddff22"/><circle cx="283.2" cy="277.2" r="1.5" stroke="#b1ff4e"/><circle cx="314.8" cy="297.2" r="1.5" stroke="#90ff6f"/><circle cx="270.8" cy="286.2" r="1.5" stroke="#b0ff4f"/><circle cx="285.8" cy="323.2" r="1.5" stroke="#8dff72"/><circle cx="291.8" cy="343.8" r="1.5" stroke="#97ff68"/><circle cx="298.2" cy="302.8" r="1.5" stroke="#84ff7b"/><circle cx="221.2" cy="272.8" r="1.5" stroke="#f0ff0f"/><circle cx="289.2" cy="282.2" r="1.5" stroke="#99ff66"/><circle cx="327.8" cy="269.2" r="1.5" stroke="#c5ff3a"/><circle cx="259.2" cy="266.2" r="1.5" stroke="#e5ff1a"/><circle cx="274.2" cy="296.8" r="1.5" stroke="#97ff68"/><circle cx="279.8" cy="301.8" r="1.5" stroke="#89ff76"/><circle cx="302.2" cy="245.2" r="1.5" stroke="#f2ff0d"/><circle cx="272.2" cy="281.8" r="1.5" stroke="#b8ff47"/><circle cx="275.8" cy="306.8" r="1.5" stroke="#8fff70"/><circle cx="271.2" cy="297.8" r="1.5" stroke="#9aff65"/><circle cx="352.2" cy="256.2" r="1.5" stroke="#cdff32"/><circle cx="270.8" cy="298.8" r="1.5" stroke="#96ff69"/><circle cx="282.2" cy="280.8" r="1.5" stroke="#bcff43"/><circle cx="358.2" cy="246.8" r="1.5" stroke="#e4ff1b"/><circle cx="276.2" cy="255.8" r="1.5" stroke="#e2ff1d"/><circle cx="272.8" cy="335.2" r="1.5" stroke="#87ff78"/><circle cx="308.8" cy="306.8" r="1.5" stroke="#85ff7a"/><circle cx="371.8" cy="239.8" r="1.5" stroke="#fffb00"/><circle cx="284.2" cy="332.2" r="1.5" stroke="#8aff75"/><circle cx="250.2" cy="255.2" r="1.5" stroke="#e9ff16"/><circle cx="272.2" cy="291.2" r="1.5" stroke="#aeff51"/><path d="M269.2 333.2h5m-2.5-2.5v5" stroke="#78ff87"/><circle cx="275.8" cy="225.8" r="1.5" stroke="#fff800"/><path d="M284.8 298.8h5m-2.5-2.5v5" stroke="#7fff80"/><circle cx="307.2" cy="293.2" r="1.5" stroke="#a4ff5b"/><circle cx="276.8" cy="296.2" r="1.5" stroke="#9eff61"/><circle cx="298.2" cy="296.8" r="1.5" stroke="#8bff74"/><circle cx="274.2" cy="303.8" r="1.5" stroke="#89ff76"/><circle cx="244.2" cy="319.8" r="1.5" stroke="#a4ff5b"/><circle cx="289.8" cy="283.2" r="1.5" stroke="#9fff60"/><circle cx="234.8" cy="264.2" r="1.5" stroke="#dfff20"/><circle cx="305.8" cy="263.8" r="1.5" stroke="#d3ff2c"/><circle cx="264.2" cy="286.2" r="1.5" stroke="#c0ff3f"/><circle cx="292.8" cy="313.8" r="1.5" stroke="#b4ff4b"/><circle cx="362.8" cy="278.2" r="1.5" stroke="#bdff42"/><circle cx="311.2" cy="231.8" r="1.5" stroke="#fffd00"/><circle cx="323.8" cy="240.2" r="1.5" stroke="#f8ff07"/><circle cx="257.8" cy="246.8" r="1.5" stroke="#e9ff16"/><circle cx="325.2" cy="253.8" r="1.5" stroke="#a6ff59"/><circle cx="279.2" cy="306.2" r="1.5" stroke="#97ff68"/><circle cx="290.8" cy="299.8" r="1.5" stroke="#88ff77"/><circle cx="274.2" cy="297.2" r="1.5" stroke="#9dff62"/><circle cx="285.2" cy="290.8" r="1.5" stroke="#8eff71"/><circle cx="318.8" cy="228.8" r="1.5" stroke="#f4ff0b"/><circle cx="344.2" cy="215.8" r="1.5" stroke="#fff100"/><circle cx="281.8" cy="254.2" r="1.5" stroke="#e3ff1c"/><circle cx="283.8" cy="277.8" r="1.5" stroke="#b7ff48"/><circle cx="294.2" cy="296.8" r="1.5" stroke="#81ff7e"/><circle cx="290.2" cy="303.2" r="1.5" stroke="#83ff7c"/><circle cx="275.2" cy="272.2" r="1.5" stroke="#d2ff2d"/><circle cx="304.2" cy="238.2" r="1.5" stroke="#daff25"/><circle cx="262.8" cy="321.2" r="1.5" stroke="#abff54"/><circle cx="299.2" cy="316.8" r="1.5" stroke="#8eff71"/><circle cx="289.8" cy="217.8" r="1.5" stroke="#f1ff0e"/><circle cx="276.8" cy="245.8" r="1.5" stroke="#eeff11"/><circle cx="297.2" cy="300.8" r="1.5" stroke="#81ff7e"/><circle cx="308.8" cy="299.2" r="1.5" stroke="#95ff6a"/><circle cx="356.8" cy="233.2" r="1.5" stroke="#b9ff46"/><circle cx="353.2" cy="289.8" r="1.5" stroke="#c8ff37"/><circle cx="288.2" cy="263.8" r="1.5" stroke="#d2ff2d"/><circle cx="279.2" cy="285.8" r="1.5" stroke="#abff54"/><circle cx="296.2" cy="269.8" r="1.5" stroke="#c8ff37"/><path d="M315.8 344.2h5m-2.5-2.5v5" stroke="#72ff8d"/><circle cx="271.2" cy="315.8" r="1.5" stroke="#8cff73"/><circle cx="295.8" cy="307.2" r="1.5" stroke="#86ff79"/><circle cx="310.8" cy="270.8" r="1.5" stroke="#bfff40"/><circle cx="335.8" cy="295.2" r="1.5" stroke="#adff52"/><circle cx="274.2" cy="249.8" r="1.5" stroke="#dfff20"/><circle cx="352.8" cy="252.8" r="1.5" stroke="#d9ff26"/><circle cx="281.8" cy="329.2" r="1.5" stroke="#86ff79"/><circle cx="291.2" cy="298.2" r="1.5" stroke="#94ff6b"/><circle cx="290.2" cy="283.8" r="1.5" stroke="#9cff63"/><circle cx="283.2" cy="294.2" r="1.5" stroke="#93ff6c"/><circle cx="301.8" cy="283.8" r="1.5" stroke="#9eff61"/><circle cx="367.8" cy="260.8" r="1.5" stroke="#e2ff1d"/><circle cx="347.8" cy="283.8" r="1.5" stroke="#c1ff3e"/><path d="M285.2 295.8h5m-2.5-2.5v5" stroke="#7eff81"/><circle cx="257.8" cy="264.8" r="1.5" stroke="#cbff34"/><path d="M303.2 318.8h5m-2.5-2.5v5" stroke="#7dff82"/><circle cx="289.2" cy="288.2" r="1.5" stroke="#8bff74"/><circle cx="287.2" cy="335.2" r="1.5" stroke="#8bff74"/><circle cx="283.8" cy="293.8" r="1.5" stroke="#95ff6a"/><circle cx="280.2" cy="264.2" r="1.5" stroke="#cfff30"/><circle cx="276.2" cy="332.2" r="1.5" stroke="#86ff79"/><circle cx="303.8" cy="311.8" r="1.5" stroke="#8aff75"/><circle cx="299.2" cy="266.2" r="1.5" stroke="#cfff30"/><circle cx="290.2" cy="298.2" r="1.5" stroke="#8cff73"/><circle cx="273.2" cy="289.2" r="1.5" stroke="#9bff64"/><circle cx="352.2" cy="266.8" r="1.5" stroke="#ceff31"/><circle cx="299.2" cy="273.8" r="1.5" stroke="#acff53"/><circle cx="277.2" cy="312.2" r="1.5" stroke="#adff52"/><circle cx="307.2" cy="243.8" r="1.5" stroke="#ecff13"/><circle cx="258.2" cy="253.2" r="1.5" stroke="#e6ff19"/><circle cx="323.2" cy="259.2" r="1.5" stroke="#e3ff1c"/><circle cx="375.2" cy="299.2" r="1.5" stroke="#bdff42"/><path d="M286.2 317.2h5m-2.5-2.5v5" stroke="#76ff89"/><circle cx="284.8" cy="327.8" r="1.5" stroke="#87ff78"/><circle cx="281.2" cy="268.2" r="1.5" stroke="#d2ff2d"/><path d="M304.8 302.8h5m-2.5-2.5v5" stroke="#7fff80"/><circle cx="286.2" cy="289.2" r="1.5" stroke="#98ff67"/><circle cx="295.2" cy="308.8" r="1.5" stroke="#8cff73"/><circle cx="295.2" cy="292.8" r="1.5" stroke="#99ff66"/><circle cx="277.2" cy="316.8" r="1.5" stroke="#94ff6b"/><circle cx="322.8" cy="248.8" r="1.5" stroke="#e2ff1d"/><circle cx="303.2" cy="261.8" r="1.5" stroke="#c4ff3b"/><circle cx="349.2" cy="254.8" r="1.5" stroke="#dcff23"/><circle cx="294.8" cy="297.8" r="1.5" stroke="#81ff7e"/><circle cx="380.2" cy="240.2" r="1.5" stroke="#d0ff2f"/><circle cx="326.8" cy="277.2" r="1.5" stroke="#abff54"/><circle cx="276.8" cy="271.2" r="1.5" stroke="#c4ff3b"/><circle cx="288.2" cy="321.2" r="1.5" stroke="#9dff62"/><circle cx="299.8" cy="288.2" r="1.5" stroke="#91ff6e"/><circle cx="289.8" cy="295.8" r="1.5" stroke="#99ff66"/><circle cx="307.8" cy="231.8" r="1.5" stroke="#fbff04"/><circle cx="285.8" cy="259.8" r="1.5" stroke="#dbff24"/><circle cx="267.2" cy="304.2" r="1.5" stroke="#a6ff59"/><circle cx="319.8" cy="241.2" r="1.5" stroke="#efff10"/><circle cx="307.2" cy="236.8" r="1.5" stroke="#e6ff19"/><path d="M282.2 322.2h5m-2.5-2.5v5" stroke="#72ff8d"/><circle cx="275.8" cy="255.8" r="1.5" stroke="#d2ff2d"/><circle cx="288.2" cy="318.8" r="1.5" stroke="#97ff68"/><path d="M294.8 316.8h5m-2.5-2.5v5" stroke="#78ff87"/><circle cx="356.2" cy="255.8" r="1.5" stroke="#ceff31"/><circle cx="268.8" cy="249.2" r="1.5" stroke="#e7ff18"/><circle cx="329.2" cy="265.8" r="1.5" stroke="#deff21"/><circle cx="284.2" cy="297.8" r="1.5" stroke="#92ff6d"/><circle cx="301.2" cy="254.8" r="1.5" stroke="#e4ff1b"/><circle cx="257.2" cy="271.2" r="1.5" stroke="#d0ff2f"/><circle cx="243.2" cy="290.8" r="1.5" stroke="#dcff23"/><path d="M282.2 305.8h5m-2.5-2.5v5" stroke="#7fff80"/><circle cx="285.8" cy="260.8" r="1.5" stroke="#dcff23"/><circle cx="287.8" cy="306.8" r="1.5" stroke="#8fff70"/><circle cx="311.8" cy="292.8" r="1.5" stroke="#9dff62"/><circle cx="283.2" cy="309.2" r="1.5" stroke="#8aff75"/><circle cx="341.2" cy="260.2" r="1.5" stroke="#fbff04"/><circle cx="303.2" cy="286.2" r="1.5" stroke="#a6ff59"/><circle cx="284.2" cy="296.8" r="1.5" stroke="#8bff74"/><circle cx="294.8" cy="316.8" r="1.5" stroke="#97ff68"/><circle cx="259.8" cy="285.2" r="1.5" stroke="#b7ff48"/><circle cx="276.8" cy="303.2" r="1.5" stroke="#91ff6e"/><circle cx="295.2" cy="237.2" r="1.5" stroke="#efff10"/><circle cx="285.2" cy="297.8" r="1.5" stroke="#92ff6d"/><circle cx="290.2" cy="309.8" r="1.5" stroke="#81ff7e"/><circle cx="256.8" cy="248.8" r="1.5" stroke="#f6ff09"/><circle cx="265.2" cy="287.2" r="1.5" stroke="#c3ff3c"/><circle cx="305.2" cy="296.8" r="1.5" stroke="#8bff74"/><circle cx="324.8" cy="277.8" r="1.5" stroke="#c8ff37"/><circle cx="313.8" cy="258.2" r="1.5" stroke="#acff53"/><circle cx="288.8" cy="307.2" r="1.5" stroke="#82ff7d"/><circle cx="265.8" cy="307.8" r="1.5" stroke="#a4ff5b"/><circle cx="285.8" cy="305.8" r="1.5" stroke="#86ff79"/><circle cx="307.8" cy="272.8" r="1.5" stroke="#c2ff3d"/><circle cx="314.8" cy="246.8" r="1.5" stroke="#f2ff0d"/><circle cx="277.8" cy="313.8" r="1.5" stroke="#80ff7f"/><circle cx="310.2" cy="266.2" r="1.5" stroke="#cfff30"/><circle cx="305.2" cy="268.8" r="1.5" stroke="#beff41"/><circle cx="327.2" cy="253.8" r="1.5" stroke="#e7ff18"/><circle cx="335.8" cy="245.8" r="1.5" stroke="#ddff22"/><path d="M283.2 312.8h5m-2.5-2.5v5" stroke="#7aff85"/><circle cx="289.8" cy="290.8" r="1.5" stroke="#86ff79"/><circle cx="278.2" cy="227.8" r="1.5" stroke="#fdff02"/><circle cx="293.8" cy="331.2" r="1.5" stroke="#a0ff5f"/><circle cx="383.8" cy="237.2" r="1.5" stroke="#eeff11"/><circle cx="250.8" cy="264.2" r="1.5" stroke="#ceff31"/><path d="M294.8 324.8h5m-2.5-2.5v5" stroke="#76ff89"/><circle cx="361.2" cy="236.8" r="1.5" stroke="#eaff15"/><circle cx="281.2" cy="296.8" r="1.5" stroke="#82ff7d"/><circle cx="313.2" cy="270.8" r="1.5" stroke="#bbff44"/><circle cx="275.2" cy="298.8" r="1.5" stroke="#95ff6a"/><circle cx="252.8" cy="262.8" r="1.5" stroke="#fcff03"/><circle cx="290.8" cy="234.2" r="1.5" stroke="#f3ff0c"/><circle cx="314.2" cy="258.8" r="1.5" stroke="#deff21"/><circle cx="321.2" cy="227.2" r="1.5" stroke="#eaff15"/><circle cx="282.8" cy="336.8" r="1.5" stroke="#87ff78"/><circle cx="320.2" cy="265.2" r="1.5" stroke="#daff25"/><circle cx="311.8" cy="231.2" r="1.5" stroke="#f1ff0e"/><circle cx="278.8" cy="310.2" r="1.5" stroke="#86ff79"/><circle cx="377.8" cy="296.2" r="1.5" stroke="#b1ff4e"/><circle cx="287.8" cy="316.2" r="1.5" stroke="#98ff67"/><circle cx="268.8" cy="260.2" r="1.5" stroke="#dbff24"/><circle cx="297.8" cy="290.2" r="1.5" stroke="#84ff7b"/><circle cx="289.8" cy="293.8" r="1.5" stroke="#8fff70"/><circle cx="325.8" cy="247.2" r="1.5" stroke="#e0ff1f"/><circle cx="307.2" cy="273.8" r="1.5" stroke="#c4ff3b"/><circle cx="279.2" cy="312.8" r="1.5" stroke="#acff53"/><circle cx="318.2" cy="243.2" r="1.5" stroke="#eaff15"/><circle cx="332.8" cy="261.8" r="1.5" stroke="#ebff14"/><circle cx="318.8" cy="252.8" r="1.5" stroke="#ddff22"/><circle cx="293.2" cy="279.8" r="1.5" stroke="#baff45"/><circle cx="308.8" cy="272.2" r="1.5" stroke="#d3ff2c"/><path d="M310.2 333.8h5m-2.5-2.5v5" stroke="#60ff9f"/><circle cx="339.2" cy="223.2" r="1.5" stroke="#fbff04"/><circle cx="283.2" cy="278.8" r="1.5" stroke="#b9ff46"/><circle cx="298.2" cy="321.8" r="1.5" stroke="#98ff67"/><circle cx="285.2" cy="291.8" r="1.5" stroke="#8eff71"/><path d="M286.8 309.8h5m-2.5-2.5v5" stroke="#79ff86"/><circle cx="300.8" cy="301.8" r="1.5" stroke="#88ff77"/><circle cx="335.2" cy="299.8" r="1.5" stroke="#99ff66"/><circle cx="311.2" cy="313.8" r="1.5" stroke="#82ff7d"/><circle cx="284.2" cy="295.2" r="1.5" stroke="#98ff67"/><circle cx="290.8" cy="289.2" r="1.5" stroke="#8bff74"/><circle cx="300.2" cy="337.2" r="1.5" stroke="#90ff6f"/><circle cx="282.2" cy="313.8" r="1.5" stroke="#88ff77"/><circle cx="295.2" cy="325.8" r="1.5" stroke="#90ff6f"/><circle cx="316.8" cy="264.8" r="1.5" stroke="#ddff22"/><circle cx="273.8" cy="294.2" r="1.5" stroke="#93ff6c"/><circle cx="327.2" cy="247.8" r="1.5" stroke="#efff10"/><circle cx="283.2" cy="252.2" r="1.5" stroke="#e9ff16"/><circle cx="371.8" cy="311.8" r="1.5" stroke="#adff52"/><circle cx="303.2" cy="288.2" r="1.5" stroke="#aaff55"/><circle cx="354.8" cy="262.2" r="1.5" stroke="#d6ff29"/><circle cx="308.2" cy="318.8" r="1.5" stroke="#afff50"/><circle cx="269.8" cy="227.2" r="1.5" stroke="#fffe00"/><circle cx="298.8" cy="298.8" r="1.5" stroke="#85ff7a"/><circle cx="296.8" cy="323.8" r="1.5" stroke="#9aff65"/><circle cx="316.8" cy="300.2" r="1.5" stroke="#96ff69"/><path d="M278.8 296.8h5m-2.5-2.5v5" stroke="#7eff81"/><path d="M283.8 296.8h5m-2.5-2.5v5" stroke="#70ff8f"/><circle cx="263.2" cy="262.8" r="1.5" stroke="#d2ff2d"/><circle cx="302.8" cy="304.2" r="1.5" stroke="#8bff74"/><circle cx="255.8" cy="341.2" r="1.5" stroke="#94ff6b"/><circle cx="357.8" cy="230.8" r="1.5" stroke="#fdff02"/><circle cx="291.2" cy="295.8" r="1.5" stroke="#8eff71"/><circle cx="305.8" cy="272.8" r="1.5" stroke="#b9ff46"/><circle cx="297.2" cy="329.2" r="1.5" stroke="#baff45"/><circle cx="351.8" cy="239.2" r="1.5" stroke="#ebff14"/><circle cx="286.8" cy="242.8" r="1.5" stroke="#edff12"/><circle cx="250.8" cy="288.8" r="1.5" stroke="#d0ff2f"/><circle cx="317.8" cy="262.2" r="1.5" stroke="#ccff33"/><circle cx="362.2" cy="252.2" r="1.5" stroke="#fff400"/><path d="M290.2 326.2h5m-2.5-2.5v5" stroke="#73ff8c"/><path d="M285.8 306.8h5m-2.5-2.5v5" stroke="#76ff89"/><path d="M279.2 305.2h5m-2.5-2.5v5" stroke="#7dff82"/><circle cx="280.2" cy="300.2" r="1.5" stroke="#8dff72"/><circle cx="306.8" cy="230.2" r="1.5" stroke="#e4ff1b"/><circle cx="246.8" cy="288.8" r="1.5" stroke="#dcff23"/><circle cx="348.2" cy="293.2" r="1.5" stroke="#96ff69"/><circle cx="309.2" cy="313.2" r="1.5" stroke="#85ff7a"/><circle cx="302.8" cy="242.2" r="1.5" stroke="#f2ff0d"/><circle cx="249.2" cy="282.2" r="1.5" stroke="#eaff15"/><circle cx="303.2" cy="298.2" r="1.5" stroke="#a4ff5b"/><circle cx="278.2" cy="319.8" r="1.5" stroke="#cbff34"/><circle cx="265.8" cy="293.2" r="1.5" stroke="#b8ff47"/><circle cx="269.2" cy="303.8" r="1.5" stroke="#99ff66"/><circle cx="296.8" cy="326.2" r="1.5" stroke="#8fff70"/><circle cx="276.2" cy="330.8" r="1.5" stroke="#93ff6c"/><circle cx="255.8" cy="261.8" r="1.5" stroke="#efff10"/><circle cx="244.2" cy="288.2" r="1.5" stroke="#ccff33"/><circle cx="290.8" cy="335.2" r="1.5" stroke="#a2ff5d"/><circle cx="286.8" cy="217.2" r="1.5" stroke="#fcff03"/><circle cx="280.8" cy="278.8" r="1.5" stroke="#bbff44"/><circle cx="330.2" cy="279.2" r="1.5" stroke="#ccff33"/><circle cx="281.2" cy="312.8" r="1.5" stroke="#82ff7d"/><circle cx="272.8" cy="280.8" r="1.5" stroke="#b0ff4f"/><circle cx="358.8" cy="227.2" r="1.5" stroke="#f5ff0a"/><circle cx="372.2" cy="263.8" r="1.5" stroke="#ebff14"/><circle cx="291.8" cy="311.2" r="1.5" stroke="#8aff75"/><circle cx="255.8" cy="268.2" r="1.5" stroke="#e5ff1a"/><circle cx="287.2" cy="329.8" r="1.5" stroke="#97ff68"/><circle cx="354.2" cy="240.2" r="1.5" stroke="#f4ff0b"/><circle cx="289.8" cy="293.2" r="1.5" stroke="#91ff6e"/><circle cx="286.8" cy="335.2" r="1.5" stroke="#92ff6d"/><circle cx="278.8" cy="287.2" r="1.5" stroke="#acff53"/><circle cx="276.8" cy="300.8" r="1.5" stroke="#97ff68"/><circle cx="297.2" cy="318.8" r="1.5" stroke="#a8ff57"/><circle cx="263.2" cy="287.8" r="1.5" stroke="#a7ff58"/><circle cx="266.8" cy="274.8" r="1.5" stroke="#c6ff39"/><circle cx="265.8" cy="300.2" r="1.5" stroke="#bbff44"/><circle cx="308.8" cy="324.8" r="1.5" stroke="#96ff69"/><circle cx="337.8" cy="267.8" r="1.5" stroke="#b9ff46"/><circle cx="279.2" cy="250.8" r="1.5" stroke="#e9ff16"/><circle cx="271.2" cy="312.8" r="1.5" stroke="#83ff7c"/><circle cx="286.8" cy="253.2" r="1.5" stroke="#d9ff26"/><circle cx="274.2" cy="268.2" r="1.5" stroke="#cbff34"/><circle cx="267.8" cy="296.8" r="1.5" stroke="#b8ff47"/><circle cx="361.2" cy="303.8" r="1.5" stroke="#b6ff49"/><circle cx="295.8" cy="304.2" r="1.5" stroke="#87ff78"/><circle cx="314.8" cy="240.2" r="1.5" stroke="#caff35"/><circle cx="325.2" cy="289.2" r="1.5" stroke="#a6ff59"/><circle cx="282.8" cy="309.2" r="1.5" stroke="#89ff76"/><circle cx="284.8" cy="287.2" r="1.5" stroke="#9cff63"/><circle cx="272.2" cy="295.8" r="1.5" stroke="#97ff68"/><circle cx="291.8" cy="297.8" r="1.5" stroke="#83ff7c"/><circle cx="350.8" cy="255.2" r="1.5" stroke="#e1ff1e"/><circle cx="317.8" cy="246.8" r="1.5" stroke="#b9ff46"/><circle cx="266.8" cy="323.2" r="1.5" stroke="#98ff67"/><circle cx="253.2" cy="309.2" r="1.5" stroke="#c6ff39"/><circle cx="289.8" cy="257.8" r="1.5" stroke="#dbff24"/><circle cx="300.2" cy="240.8" r="1.5" stroke="#f6ff09"/><circle cx="274.8" cy="290.2" r="1.5" stroke="#d2ff2d"/><path d="M275.2 336.2h5m-2.5-2.5v5" stroke="#7dff82"/><circle cx="312.8" cy="277.2" r="1.5" stroke="#afff50"/><circle cx="289.2" cy="312.8" r="1.5" stroke="#93ff6c"/><circle cx="280.2" cy="316.2" r="1.5" stroke="#86ff79"/><circle cx="284.8" cy="323.8" r="1.5" stroke="#8eff71"/><circle cx="238.8" cy="242.2" r="1.5" stroke="#e5ff1a"/><circle cx="267.2" cy="280.2" r="1.5" stroke="#c3ff3c"/><path d="M265.8 338.8h5m-2.5-2.5v5" stroke="#66ff99"/><circle cx="314.8" cy="256.8" r="1.5" stroke="#b7ff48"/><circle cx="352.8" cy="259.8" r="1.5" stroke="#e0ff1f"/><circle cx="302.8" cy="324.2" r="1.5" stroke="#98ff67"/><circle cx="300.8" cy="276.8" r="1.5" stroke="#beff41"/><circle cx="281.2" cy="300.2" r="1.5" stroke="#88ff77"/><circle cx="293.2" cy="299.8" r="1.5" stroke="#88ff77"/><circle cx="346.2" cy="249.8" r="1.5" stroke="#8bff74"/><circle cx="308.8" cy="268.2" r="1.5" stroke="#ceff31"/><circle cx="276.2" cy="324.2" r="1.5" stroke="#8fff70"/><circle cx="289.2" cy="304.8" r="1.5" stroke="#87ff78"/><circle cx="331.8" cy="255.2" r="1.5" stroke="#f5ff0a"/><path d="M290.2 310.2h5m-2.5-2.5v5" stroke="#7aff85"/><circle cx="270.8" cy="246.8" r="1.5" stroke="#e5ff1a"/><circle cx="257.8" cy="278.2" r="1.5" stroke="#daff25"/><circle cx="256.2" cy="282.2" r="1.5" stroke="#e4ff1b"/><circle cx="374.2" cy="276.2" r="1.5" stroke="#c3ff3c"/><circle cx="306.8" cy="287.8" r="1.5" stroke="#9cff63"/><circle cx="285.2" cy="290.2" r="1.5" stroke="#82ff7d"/><circle cx="280.8" cy="297.8" r="1.5" stroke="#93ff6c"/><path d="M290.2 329.8h5m-2.5-2.5v5" stroke="#71ff8e"/><circle cx="297.8" cy="326.8" r="1.5" stroke="#c0ff3f"/><circle cx="303.8" cy="302.8" r="1.5" stroke="#8eff71"/><circle cx="298.2" cy="298.8" r="1.5" stroke="#93ff6c"/><circle cx="288.2" cy="317.8" r="1.5" stroke="#94ff6b"/><circle cx="287.8" cy="241.2" r="1.5" stroke="#ebff14"/><circle cx="294.2" cy="299.8" r="1.5" stroke="#90ff6f"/><circle cx="309.2" cy="292.8" r="1.5" stroke="#b1ff4e"/><circle cx="355.2" cy="273.2" r="1.5" stroke="#c2ff3d"/><circle cx="341.8" cy="315.8" r="1.5" stroke="#baff45"/><circle cx="284.8" cy="333.2" r="1.5" stroke="#96ff69"/><circle cx="271.2" cy="297.8" r="1.5" stroke="#8dff72"/><circle cx="270.8" cy="299.8" r="1.5" stroke="#96ff69"/><circle cx="282.2" cy="240.2" r="1.5" stroke="#e3ff1c"/><circle cx="291.8" cy="259.2" r="1.5" stroke="#d9ff26"/><circle cx="292.8" cy="340.2" r="1.5" stroke="#8eff71"/><circle cx="252.8" cy="239.2" r="1.5" stroke="#fffe00"/><circle cx="288.8" cy="248.8" r="1.5" stroke="#dbff24"/><circle cx="288.2" cy="275.2" r="1.5" stroke="#acff53"/><circle cx="370.8" cy="230.2" r="1.5" stroke="#fff300"/><circle cx="310.8" cy="272.2" r="1.5" stroke="#d0ff2f"/><circle cx="354.8" cy="297.8" r="1.5" stroke="#b3ff4c"/><circle cx="305.2" cy="259.2" r="1.5" stroke="#bbff44"/><circle cx="332.2" cy="232.8" r="1.5" stroke="#fff200"/><circle cx="312.8" cy="290.8" r="1.5" stroke="#a1ff5e"/><circle cx="234.8" cy="261.8" r="1.5" stroke="#eaff15"/><circle cx="299.8" cy="266.2" r="1.5" stroke="#c5ff3a"/><circle cx="359.8" cy="238.8" r="1.5" stroke="#c4ff3b"/><circle cx="304.2" cy="258.8" r="1.5" stroke="#e9ff16"/><circle cx="297.2" cy="305.2" r="1.5" stroke="#a3ff5c"/><circle cx="274.8" cy="285.8" r="1.5" stroke="#b2ff4d"/><circle cx="290.2" cy="308.2" r="1.5" stroke="#8bff74"/><path d="M275.2 316.8h5m-2.5-2.5v5" stroke="#7fff80"/><circle cx="255.8" cy="251.8" r="1.5" stroke="#fff600"/><circle cx="313.8" cy="265.8" r="1.5" stroke="#c9ff36"/><circle cx="295.2" cy="287.8" r="1.5" stroke="#a1ff5e"/><circle cx="313.8" cy="294.8" r="1.5" stroke="#8eff71"/><circle cx="297.2" cy="289.2" r="1.5" stroke="#8cff73"/><circle cx="285.2" cy="287.8" r="1.5" stroke="#a4ff5b"/><circle cx="266.8" cy="294.2" r="1.5" stroke="#a5ff5a"/><circle cx="275.2" cy="307.8" r="1.5" stroke="#97ff68"/><circle cx="272.8" cy="282.2" r="1.5" stroke="#bcff43"/><circle cx="331.2" cy="284.8" r="1.5" stroke="#a5ff5a"/><circle cx="314.2" cy="236.8" r="1.5" stroke="#e8ff17"/><circle cx="312.8" cy="244.8" r="1.5" stroke="#dcff23"/><circle cx="266.2" cy="276.2" r="1.5" stroke="#c4ff3b"/><path d="M296.8 310.8h5m-2.5-2.5v5" stroke="#76ff89"/><circle cx="296.8" cy="282.2" r="1.5" stroke="#b2ff4d"/><circle cx="288.8" cy="285.8" r="1.5" stroke="#97ff68"/><circle cx="317.2" cy="223.2" r="1.5" stroke="#f5ff0a"/><circle cx="358.8" cy="293.8" r="1.5" stroke="#bcff43"/><circle cx="284.8" cy="301.8" r="1.5" stroke="#8aff75"/><circle cx="295.2" cy="301.8" r="1.5" stroke="#84ff7b"/><circle cx="370.2" cy="298.8" r="1.5" stroke="#b7ff48"/><path d="M275.2 320.8h5m-2.5-2.5v5" stroke="#72ff8d"/><circle cx="262.2" cy="252.2" r="1.5" stroke="#e7ff18"/><path d="M273.8 343.8h5m-2.5-2.5v5" stroke="#73ff8c"/><circle cx="282.2" cy="316.2" r="1.5" stroke="#a2ff5d"/><circle cx="307.2" cy="264.2" r="1.5" stroke="#dcff23"/><circle cx="298.2" cy="277.2" r="1.5" stroke="#e1ff1e"/><circle cx="326.2" cy="266.8" r="1.5" stroke="#d8ff27"/><circle cx="277.8" cy="296.8" r="1.5" stroke="#93ff6c"/><circle cx="304.2" cy="262.2" r="1.5" stroke="#e2ff1d"/><circle cx="293.2" cy="301.2" r="1.5" stroke="#92ff6d"/><circle cx="295.8" cy="273.8" r="1.5" stroke="#b2ff4d"/><circle cx="262.8" cy="304.8" r="1.5" stroke="#afff50"/><circle cx="307.2" cy="267.2" r="1.5" stroke="#ceff31"/><circle cx="309.8" cy="284.8" r="1.5" stroke="#acff53"/><circle cx="292.8" cy="315.8" r="1.5" stroke="#8aff75"/><circle cx="281.8" cy="301.2" r="1.5" stroke="#8fff70"/><circle cx="287.2" cy="311.8" r="1.5" stroke="#8aff75"/><path d="M292.8 332.2h5m-2.5-2.5v5" stroke="#61ff9e"/><circle cx="278.8" cy="306.2" r="1.5" stroke="#80ff7f"/><circle cx="315.8" cy="251.8" r="1.5" stroke="#ddff22"/><circle cx="292.8" cy="301.2" r="1.5" stroke="#86ff79"/><circle cx="293.8" cy="256.2" r="1.5" stroke="#f5ff0a"/><circle cx="291.8" cy="286.2" r="1.5" stroke="#98ff67"/><circle cx="348.8" cy="239.2" r="1.5" stroke="#ffde00"/><circle cx="245.8" cy="265.8" r="1.5" stroke="#e4ff1b"/><circle cx="292.8" cy="238.2" r="1.5" stroke="#ecff13"/><circle cx="302.2" cy="276.2" r="1.5" stroke="#b4ff4b"/><circle cx="290.2" cy="282.2" r="1.5" stroke="#adff52"/><circle cx="316.2" cy="261.2" r="1.5" stroke="#b2ff4d"/><circle cx="289.2" cy="300.2" r="1.5" stroke="#85ff7a"/><circle cx="252.8" cy="316.8" r="1.5" stroke="#a0ff5f"/><circle cx="337.2" cy="276.8" r="1.5" stroke="#c5ff3a"/><circle cx="286.2" cy="291.8" r="1.5" stroke="#90ff6f"/><circle cx="273.2" cy="290.2" r="1.5" stroke="#97ff68"/><circle cx="287.8" cy="278.8" r="1.5" stroke="#b6ff49"/><circle cx="309.8" cy="279.8" r="1.5" stroke="#b5ff4a"/><circle cx="297.2" cy="298.2" r="1.5" stroke="#89ff76"/><circle cx="275.8" cy="291.2" r="1.5" stroke="#afff50"/><circle cx="366.2" cy="276.2" r="1.5" stroke="#d6ff29"/><circle cx="276.8" cy="283.2" r="1.5" stroke="#aaff55"/><circle cx="380.8" cy="264.2" r="1.5" stroke="#e8ff17"/><circle cx="318.8" cy="237.2" r="1.5" stroke="#eaff15"/><circle cx="302.2" cy="260.8" r="1.5" stroke="#dfff20"/><circle cx="270.8" cy="311.2" r="1.5" stroke="#94ff6b"/><circle cx="285.2" cy="290.8" r="1.5" stroke="#89ff76"/><circle cx="304.8" cy="293.8" r="1.5" stroke="#a3ff5c"/><circle cx="273.8" cy="285.8" r="1.5" stroke="#b8ff47"/><circle cx="272.8" cy="305.2" r="1.5" stroke="#93ff6c"/><circle cx="376.2" cy="227.2" r="1.5" stroke="#ebff14"/><circle cx="300.2" cy="297.8" r="1.5" stroke="#8dff72"/><circle cx="286.2" cy="303.8" r="1.5" stroke="#86ff79"/><circle cx="275.2" cy="290.8" r="1.5" stroke="#97ff68"/><circle cx="296.2" cy="258.8" r="1.5" stroke="#d8ff27"/><circle cx="288.2" cy="240.2" r="1.5" stroke="#f7ff08"/><circle cx="277.8" cy="321.2" r="1.5" stroke="#93ff6c"/><circle cx="279.2" cy="302.2" r="1.5" stroke="#93ff6c"/><circle cx="297.2" cy="270.2" r="1.5" stroke="#bcff43"/><circle cx="302.2" cy="292.8" r="1.5" stroke="#8cff73"/><circle cx="275.2" cy="283.2" r="1.5" stroke="#bbff44"/><circle cx="289.2" cy="291.8" r="1.5" stroke="#a0ff5f"/><circle cx="318.8" cy="283.8" r="1.5" stroke="#a8ff57"/><circle cx="383.2" cy="230.8" r="1.5" stroke="#f1ff0e"/><circle cx="344.8" cy="301.2" r="1.5" stroke="#a8ff57"/><circle cx="292.8" cy="321.2" r="1.5" stroke="#c8ff37"/><circle cx="300.8" cy="240.2" r="1.5" stroke="#fdff02"/><circle cx="333.2" cy="256.2" r="1.5" stroke="#e4ff1b"/><path d="M283.2 305.2h5m-2.5-2.5v5" stroke="#6eff91"/><circle cx="253.2" cy="242.2" r="1.5" stroke="#fffb00"/><path d="M302.8 318.8h5m-2.5-2.5v5" stroke="#72ff8d"/><circle cx="300.8" cy="264.2" r="1.5" stroke="#caff35"/><circle cx="296.8" cy="328.8" r="1.5" stroke="#9bff64"/><circle cx="274.2" cy="309.8" r="1.5" stroke="#95ff6a"/><circle cx="298.8" cy="268.8" r="1.5" stroke="#d8ff27"/><circle cx="300.8" cy="245.2" r="1.5" stroke="#daff25"/><circle cx="306.8" cy="227.2" r="1.5" stroke="#edff12"/><circle cx="284.8" cy="289.8" r="1.5" stroke="#97ff68"/><circle cx="357.2" cy="274.2" r="1.5" stroke="#e7ff18"/><path d="M272.2 326.2h5m-2.5-2.5v5" stroke="#5fffa0"/><circle cx="316.8" cy="240.2" r="1.5" stroke="#daff25"/><circle cx="220.2" cy="271.8" r="1.5" stroke="#fffb00"/><circle cx="341.2" cy="240.8" r="1.5" stroke="#e6ff19"/><circle cx="300.8" cy="271.2" r="1.5" stroke="#b1ff4e"/><circle cx="255.2" cy="284.8" r="1.5" stroke="#f1ff0e"/><circle cx="259.8" cy="266.8" r="1.5" stroke="#cfff30"/><circle cx="285.2" cy="253.2" r="1.5" stroke="#d1ff2e"/><circle cx="229.2" cy="259.8" r="1.5" stroke="#f5ff0a"/><circle cx="276.8" cy="307.8" r="1.5" stroke="#8aff75"/><circle cx="292.2" cy="299.8" r="1.5" stroke="#87ff78"/><circle cx="261.2" cy="249.2" r="1.5" stroke="#fcff03"/><circle cx="309.8" cy="308.8" r="1.5" stroke="#93ff6c"/><circle cx="293.8" cy="307.8" r="1.5" stroke="#85ff7a"/><circle cx="255.2" cy="260.8" r="1.5" stroke="#e9ff16"/><path d="M272.2 319.8h5m-2.5-2.5v5" stroke="#7eff81"/><circle cx="268.8" cy="323.2" r="1.5" stroke="#87ff78"/><circle cx="298.8" cy="227.2" r="1.5" stroke="#efff10"/><circle cx="279.8" cy="298.8" r="1.5" stroke="#80ff7f"/><circle cx="315.8" cy="312.8" r="1.5" stroke="#8dff72"/><circle cx="288.8" cy="262.8" r="1.5" stroke="#e6ff19"/><circle cx="336.2" cy="253.2" r="1.5" stroke="#e9ff16"/><circle cx="279.2" cy="266.8" r="1.5" stroke="#d3ff2c"/><circle cx="308.2" cy="321.8" r="1.5" stroke="#81ff7e"/><circle cx="321.8" cy="272.8" r="1.5" stroke="#c8ff37"/><circle cx="294.8" cy="255.2" r="1.5" stroke="#d0ff2f"/><circle cx="299.8" cy="259.2" r="1.5" stroke="#cfff30"/><path d="M282.2 315.8h5m-2.5-2.5v5" stroke="#66ff99"/><circle cx="328.8" cy="253.8" r="1.5" stroke="#eeff11"/><circle cx="312.2" cy="275.2" r="1.5" stroke="#cbff34"/><circle cx="276.2" cy="275.8" r="1.5" stroke="#cfff30"/><circle cx="341.2" cy="301.2" r="1.5" stroke="#b3ff4c"/><circle cx="285.2" cy="313.2" r="1.5" stroke="#91ff6e"/><circle cx="275.2" cy="282.2" r="1.5" stroke="#abff54"/><circle cx="278.2" cy="307.2" r="1.5" stroke="#89ff76"/><circle cx="292.2" cy="306.2" r="1.5" stroke="#8fff70"/><circle cx="328.2" cy="232.2" r="1.5" stroke="#e6ff19"/><circle cx="278.8" cy="225.8" r="1.5" stroke="#fff500"/><circle cx="351.2" cy="253.2" r="1.5" stroke="#aeff51"/><circle cx="353.2" cy="283.8" r="1.5" stroke="#e4ff1b"/><circle cx="252.2" cy="244.8" r="1.5" stroke="#f1ff0e"/><circle cx="286.2" cy="294.2" r="1.5" stroke="#93ff6c"/><circle cx="309.2" cy="254.8" r="1.5" stroke="#dfff20"/><path d="M289.2 315.8h5m-2.5-2.5v5" stroke="#7cff83"/><circle cx="302.8" cy="291.2" r="1.5" stroke="#97ff68"/><circle cx="291.8" cy="279.2" r="1.5" stroke="#bfff40"/><circle cx="279.8" cy="292.8" r="1.5" stroke="#89ff76"/><circle cx="280.2" cy="294.8" r="1.5" stroke="#9dff62"/><circle cx="278.2" cy="308.8" r="1.5" stroke="#8aff75"/><circle cx="279.8" cy="292.2" r="1.5" stroke="#94ff6b"/><circle cx="334.2" cy="261.8" r="1.5" stroke="#dbff24"/><circle cx="336.2" cy="238.8" r="1.5" stroke="#ffeb00"/><circle cx="304.2" cy="259.8" r="1.5" stroke="#ceff31"/><circle cx="280.2" cy="220.2" r="1.5" stroke="#efff10"/><circle cx="283.2" cy="288.2" r="1.5" stroke="#a6ff59"/><circle cx="310.8" cy="239.8" r="1.5" stroke="#e2ff1d"/><circle cx="287.2" cy="278.8" r="1.5" stroke="#a6ff59"/><circle cx="287.2" cy="305.8" r="1.5" stroke="#8cff73"/><circle cx="288.8" cy="281.2" r="1.5" stroke="#aeff51"/><circle cx="375.2" cy="242.8" r="1.5" stroke="#f5ff0a"/><circle cx="322.8" cy="302.2" r="1.5" stroke="#bcff43"/><circle cx="293.2" cy="242.2" r="1.5" stroke="#ebff14"/><path d="M295.2 329.2h5m-2.5-2.5v5" stroke="#7fff80"/><circle cx="324.2" cy="269.2" r="1.5" stroke="#beff41"/><circle cx="305.8" cy="290.8" r="1.5" stroke="#9aff65"/><circle cx="264.2" cy="314.2" r="1.5" stroke="#b7ff48"/><circle cx="308.8" cy="341.2" r="1.5" stroke="#a5ff5a"/><circle cx="288.8" cy="294.2" r="1.5" stroke="#8dff72"/><circle cx="363.2" cy="283.2" r="1.5" stroke="#c4ff3b"/><circle cx="299.8" cy="291.8" r="1.5" stroke="#94ff6b"/><circle cx="352.8" cy="267.2" r="1.5" stroke="#eeff11"/><circle cx="282.8" cy="317.8" r="1.5" stroke="#9eff61"/><circle cx="259.2" cy="264.2" r="1.5" stroke="#f8ff07"/><circle cx="289.2" cy="313.8" r="1.5" stroke="#a1ff5e"/><circle cx="348.2" cy="213.8" r="1.5" stroke="#ffec00"/><circle cx="280.2" cy="258.2" r="1.5" stroke="#dcff23"/><circle cx="321.8" cy="247.2" r="1.5" stroke="#e1ff1e"/><circle cx="295.2" cy="275.8" r="1.5" stroke="#c6ff39"/><circle cx="347.2" cy="293.2" r="1.5" stroke="#94ff6b"/><circle cx="340.8" cy="275.2" r="1.5" stroke="#c0ff3f"/><circle cx="339.8" cy="234.8" r="1.5" stroke="#b1ff4e"/><circle cx="290.8" cy="293.8" r="1.5" stroke="#87ff78"/><circle cx="282.8" cy="328.8" r="1.5" stroke="#9eff61"/><circle cx="276.2" cy="263.2" r="1.5" stroke="#d8ff27"/><path d="M296.8 310.8h5m-2.5-2.5v5" stroke="#6eff91"/><circle cx="288.8" cy="273.8" r="1.5" stroke="#b9ff46"/><circle cx="299.8" cy="250.8" r="1.5" stroke="#f2ff0d"/><path d="M280.2 327.2h5m-2.5-2.5v5" stroke="#66ff99"/><circle cx="264.8" cy="254.2" r="1.5" stroke="#ecff13"/><circle cx="255.2" cy="245.8" r="1.5" stroke="#fff900"/><circle cx="295.8" cy="244.2" r="1.5" stroke="#daff25"/><circle cx="288.2" cy="297.2" r="1.5" stroke="#8aff75"/><circle cx="282.2" cy="293.8" r="1.5" stroke="#87ff78"/><path d="M302.8 318.8h5m-2.5-2.5v5" stroke="#77ff88"/><circle cx="297.8" cy="290.8" r="1.5" stroke="#9eff61"/><circle cx="322.2" cy="252.2" r="1.5" stroke="#e7ff18"/><circle cx="306.8" cy="280.2" r="1.5" stroke="#afff50"/><circle cx="351.2" cy="286.8" r="1.5" stroke="#c1ff3e"/><circle cx="299.2" cy="292.2" r="1.5" stroke="#9eff61"/><circle cx="279.8" cy="229.2" r="1.5" stroke="#fff900"/><circle cx="369.8" cy="236.2" r="1.5" stroke="#e2ff1d"/><circle cx="258.8" cy="281.2" r="1.5" stroke="#c0ff3f"/><circle cx="292.8" cy="281.2" r="1.5" stroke="#abff54"/><circle cx="346.2" cy="282.8" r="1.5" stroke="#b4ff4b"/><path d="M278.2 324.2h5m-2.5-2.5v5" stroke="#64ff9b"/><circle cx="335.2" cy="241.2" r="1.5" stroke="#e4ff1b"/><circle cx="330.2" cy="264.8" r="1.5" stroke="#caff35"/><circle cx="280.8" cy="301.8" r="1.5" stroke="#80ff7f"/><circle cx="359.8" cy="274.8" r="1.5" stroke="#abff54"/><circle cx="294.8" cy="314.8" r="1.5" stroke="#8eff71"/><circle cx="279.8" cy="300.8" r="1.5" stroke="#85ff7a"/><circle cx="236.8" cy="285.8" r="1.5" stroke="#e3ff1c"/><circle cx="361.8" cy="285.8" r="1.5" stroke="#c7ff38"/><circle cx="288.2" cy="310.2" r="1.5" stroke="#8bff74"/><circle cx="309.2" cy="282.8" r="1.5" stroke="#96ff69"/><circle cx="363.8" cy="256.2" r="1.5" stroke="#edff12"/><circle cx="263.2" cy="300.2" r="1.5" stroke="#a9ff56"/><circle cx="282.2" cy="294.2" r="1.5" stroke="#a3ff5c"/><circle cx="313.2" cy="296.8" r="1.5" stroke="#8cff73"/><circle cx="325.8" cy="248.8" r="1.5" stroke="#eaff15"/><circle cx="307.2" cy="283.8" r="1.5" stroke="#9aff65"/><circle cx="303.8" cy="294.8" r="1.5" stroke="#93ff6c"/><circle cx="278.2" cy="337.8" r="1.5" stroke="#94ff6b"/><circle cx="283.8" cy="333.8" r="1.5" stroke="#99ff66"/><circle cx="275.8" cy="289.2" r="1.5" stroke="#9cff63"/><circle cx="277.8" cy="271.2" r="1.5" stroke="#c9ff36"/><circle cx="309.8" cy="268.2" r="1.5" stroke="#c5ff3a"/><circle cx="278.8" cy="282.2" r="1.5" stroke="#a7ff58"/><circle cx="345.2" cy="265.2" r="1.5" stroke="#d1ff2e"/><circle cx="327.8" cy="296.8" r="1.5" stroke="#a3ff5c"/><circle cx="271.8" cy="315.8" r="1.5" stroke="#acff53"/><circle cx="221.2" cy="284.2" r="1.5" stroke="#faff05"/><circle cx="301.8" cy="295.2" r="1.5" stroke="#97ff68"/><circle cx="266.8" cy="235.8" r="1.5" stroke="#fcff03"/><circle cx="283.8" cy="336.2" r="1.5" stroke="#92ff6d"/><circle cx="296.8" cy="291.2" r="1.5" stroke="#8dff72"/><circle cx="256.2" cy="267.2" r="1.5" stroke="#dfff20"/><circle cx="285.2" cy="294.8" r="1.5" stroke="#92ff6d"/><circle cx="285.2" cy="286.2" r="1.5" stroke="#95ff6a"/><circle cx="298.2" cy="308.2" r="1.5" stroke="#82ff7d"/><circle cx="318.8" cy="280.8" r="1.5" stroke="#b3ff4c"/><circle cx="270.8" cy="321.8" r="1.5" stroke="#96ff69"/><circle cx="274.2" cy="291.2" r="1.5" stroke="#99ff66"/><circle cx="255.8" cy="298.2" r="1.5" stroke="#e4ff1b"/><path d="M286.2 309.8h5m-2.5-2.5v5" stroke="#71ff8e"/><circle cx="294.2" cy="262.8" r="1.5" stroke="#c8ff37"/><circle cx="297.8" cy="259.8" r="1.5" stroke="#fffa00"/><circle cx="292.2" cy="279.2" r="1.5" stroke="#a1ff5e"/><circle cx="353.8" cy="291.2" r="1.5" stroke="#b8ff47"/><circle cx="324.2" cy="233.8" r="1.5" stroke="#efff10"/><circle cx="292.2" cy="274.8" r="1.5" stroke="#acff53"/><path d="M289.8 303.2h5m-2.5-2.5v5" stroke="#78ff87"/><circle cx="275.2" cy="276.2" r="1.5" stroke="#bdff42"/><circle cx="327.2" cy="271.2" r="1.5" stroke="#c9ff36"/><circle cx="281.2" cy="246.2" r="1.5" stroke="#e4ff1b"/><circle cx="295.2" cy="228.2" r="1.5" stroke="#f7ff08"/><circle cx="284.2" cy="335.8" r="1.5" stroke="#9dff62"/><circle cx="294.2" cy="278.8" r="1.5" stroke="#a7ff58"/><circle cx="270.2" cy="312.2" r="1.5" stroke="#b2ff4d"/><circle cx="260.2" cy="272.2" r="1.5" stroke="#ecff13"/><circle cx="312.8" cy="262.8" r="1.5" stroke="#d7ff28"/><circle cx="320.2" cy="285.8" r="1.5" stroke="#8eff71"/><circle cx="280.2" cy="238.8" r="1.5" stroke="#e4ff1b"/><circle cx="283.2" cy="279.8" r="1.5" stroke="#a7ff58"/><circle cx="303.8" cy="268.2" r="1.5" stroke="#d5ff2a"/><circle cx="297.2" cy="263.8" r="1.5" stroke="#c7ff38"/><circle cx="283.2" cy="303.2" r="1.5" stroke="#81ff7e"/><circle cx="290.8" cy="298.8" r="1.5" stroke="#99ff66"/><circle cx="233.8" cy="265.2" r="1.5" stroke="#fff100"/><circle cx="379.8" cy="305.2" r="1.5" stroke="#edff12"/><circle cx="322.8" cy="240.2" r="1.5" stroke="#f4ff0b"/><circle cx="361.2" cy="256.2" r="1.5" stroke="#fff800"/><circle cx="341.2" cy="285.8" r="1.5" stroke="#a1ff5e"/><circle cx="359.8" cy="298.8" r="1.5" stroke="#c2ff3d"/><circle cx="338.2" cy="269.2" r="1.5" stroke="#d6ff29"/><circle cx="296.8" cy="307.8" r="1.5" stroke="#8fff70"/><circle cx="307.2" cy="256.8" r="1.5" stroke="#e7ff18"/><circle cx="254.2" cy="260.2" r="1.5" stroke="#d8ff27"/><circle cx="292.2" cy="296.2" r="1.5" stroke="#90ff6f"/><circle cx="255.8" cy="254.8" r="1.5" stroke="#f0ff0f"/><circle cx="276.2" cy="269.2" r="1.5" stroke="#dcff23"/><circle cx="278.2" cy="289.8" r="1.5" stroke="#b4ff4b"/><circle cx="291.8" cy="296.2" r="1.5" stroke="#80ff7f"/><circle cx="301.8" cy="292.2" r="1.5" stroke="#96ff69"/><circle cx="322.2" cy="274.8" r="1.5" stroke="#cdff32"/><circle cx="316.8" cy="227.2" r="1.5" stroke="#faff05"/><circle cx="334.8" cy="249.2" r="1.5" stroke="#9cff63"/><circle cx="282.2" cy="324.8" r="1.5" stroke="#83ff7c"/><circle cx="317.2" cy="290.2" r="1.5" stroke="#9aff65"/><circle cx="294.2" cy="297.2" r="1.5" stroke="#92ff6d"/><circle cx="290.8" cy="274.2" r="1.5" stroke="#beff41"/><circle cx="329.8" cy="291.2" r="1.5" stroke="#8bff74"/><circle cx="263.8" cy="273.8" r="1.5" stroke="#e2ff1d"/><circle cx="318.8" cy="300.2" r="1.5" stroke="#8eff71"/><circle cx="318.8" cy="285.8" r="1.5" stroke="#aaff55"/><circle cx="253.8" cy="257.8" r="1.5" stroke="#f2ff0d"/><circle cx="292.8" cy="278.8" r="1.5" stroke="#a7ff58"/><circle cx="279.2" cy="280.2" r="1.5" stroke="#bcff43"/><circle cx="277.2" cy="247.2" r="1.5" stroke="#dcff23"/><circle cx="346.2" cy="212.8" r="1.5" stroke="#fcff03"/><circle cx="359.8" cy="286.8" r="1.5" stroke="#b6ff49"/><circle cx="309.8" cy="229.8" r="1.5" stroke="#ebff14"/><circle cx="284.8" cy="264.2" r="1.5" stroke="#bbff44"/><circle cx="307.8" cy="236.2" r="1.5" stroke="#edff12"/><circle cx="252.8" cy="287.2" r="1.5" stroke="#b7ff48"/><circle cx="345.2" cy="231.8" r="1.5" stroke="#edff12"/><circle cx="279.8" cy="326.2" r="1.5" stroke="#b4ff4b"/><circle cx="285.2" cy="237.8" r="1.5" stroke="#e8ff17"/><path d="M291.8 306.8h5m-2.5-2.5v5" stroke="#7cff83"/><circle cx="283.8" cy="291.2" r="1.5" stroke="#82ff7d"/><circle cx="279.8" cy="264.2" r="1.5" stroke="#cdff32"/><circle cx="261.2" cy="293.2" r="1.5" stroke="#b6ff49"/><circle cx="291.2" cy="247.2" r="1.5" stroke="#f6ff09"/><circle cx="326.2" cy="272.8" r="1.5" stroke="#c3ff3c"/><circle cx="332.2" cy="245.8" r="1.5" stroke="#ddff22"/><circle cx="323.2" cy="255.8" r="1.5" stroke="#e4ff1b"/><circle cx="382.8" cy="255.8" r="1.5" stroke="#acff53"/><circle cx="345.2" cy="233.2" r="1.5" stroke="#efff10"/><circle cx="297.8" cy="284.2" r="1.5" stroke="#adff52"/><path d="M291.2 313.8h5m-2.5-2.5v5" stroke="#7fff80"/><path d="M294.2 300.8h5m-2.5-2.5v5" stroke="#78ff87"/><circle cx="278.2" cy="254.8" r="1.5" stroke="#d3ff2c"/><circle cx="272.2" cy="311.2" r="1.5" stroke="#9cff63"/><circle cx="315.8" cy="271.8" r="1.5" stroke="#c3ff3c"/><circle cx="253.8" cy="251.8" r="1.5" stroke="#faff05"/><circle cx="285.2" cy="260.2" r="1.5" stroke="#d6ff29"/><circle cx="244.2" cy="249.8" r="1.5" stroke="#faff05"/><circle cx="351.8" cy="233.2" r="1.5" stroke="#fdff02"/><circle cx="304.2" cy="286.2" r="1.5" stroke="#9dff62"/><circle cx="272.2" cy="288.8" r="1.5" stroke="#a5ff5a"/><circle cx="283.2" cy="304.8" r="1.5" stroke="#90ff6f"/><circle cx="256.8" cy="278.8" r="1.5" stroke="#c8ff37"/><circle cx="300.2" cy="309.8" r="1.5" stroke="#8fff70"/><circle cx="264.2" cy="337.2" r="1.5" stroke="#91ff6e"/><circle cx="282.8" cy="258.2" r="1.5" stroke="#daff25"/><circle cx="303.8" cy="261.2" r="1.5" stroke="#c2ff3d"/><circle cx="320.2" cy="297.8" r="1.5" stroke="#9fff60"/><circle cx="272.8" cy="297.8" r="1.5" stroke="#8bff74"/><circle cx="313.8" cy="274.8" r="1.5" stroke="#bbff44"/><circle cx="253.2" cy="234.2" r="1.5" stroke="#ffdb00"/><path d="M284.2 303.2h5m-2.5-2.5v5" stroke="#77ff88"/><circle cx="336.2" cy="294.8" r="1.5" stroke="#b2ff4d"/><circle cx="302.8" cy="287.8" r="1.5" stroke="#a8ff57"/><circle cx="272.8" cy="254.8" r="1.5" stroke="#dbff24"/><circle cx="362.2" cy="288.8" r="1.5" stroke="#e2ff1d"/><circle cx="283.2" cy="252.2" r="1.5" stroke="#e3ff1c"/><circle cx="289.2" cy="312.8" r="1.5" stroke="#acff53"/><circle cx="329.8" cy="277.2" r="1.5" stroke="#daff25"/><circle cx="270.2" cy="317.2" r="1.5" stroke="#99ff66"/><circle cx="294.2" cy="252.8" r="1.5" stroke="#eeff11"/><circle cx="283.2" cy="259.2" r="1.5" stroke="#ebff14"/><circle cx="267.2" cy="282.8" r="1.5" stroke="#c3ff3c"/><circle cx="240.2" cy="287.2" r="1.5" stroke="#e5ff1a"/><path d="M290.2 304.2h5m-2.5-2.5v5" stroke="#75ff8a"/><circle cx="286.8" cy="252.8" r="1.5" stroke="#d2ff2d"/><circle cx="320.2" cy="295.8" r="1.5" stroke="#a9ff56"/><circle cx="303.8" cy="300.2" r="1.5" stroke="#93ff6c"/><circle cx="339.8" cy="275.8" r="1.5" stroke="#caff35"/><circle cx="314.8" cy="295.8" r="1.5" stroke="#8eff71"/><circle cx="313.2" cy="239.8" r="1.5" stroke="#fffb00"/><circle cx="368.2" cy="229.8" r="1.5" stroke="#ccff33"/><path d="M287.8 309.8h5m-2.5-2.5v5" stroke="#7eff81"/><circle cx="290.8" cy="270.8" r="1.5" stroke="#caff35"/><circle cx="261.2" cy="256.2" r="1.5" stroke="#dbff24"/><circle cx="262.2" cy="294.8" r="1.5" stroke="#c0ff3f"/><circle cx="291.2" cy="241.2" r="1.5" stroke="#fffe00"/><circle cx="331.8" cy="280.2" r="1.5" stroke="#abff54"/><circle cx="374.8" cy="247.8" r="1.5" stroke="#eeff11"/><circle cx="348.2" cy="242.8" r="1.5" stroke="#f1ff0e"/><circle cx="374.2" cy="281.8" r="1.5" stroke="#f3ff0c"/><circle cx="376.2" cy="276.8" r="1.5" stroke="#c7ff38"/><circle cx="290.8" cy="289.2" r="1.5" stroke="#88ff77"/><circle cx="278.2" cy="239.2" r="1.5" stroke="#eaff15"/><circle cx="314.8" cy="256.2" r="1.5" stroke="#eaff15"/><circle cx="354.8" cy="239.2" r="1.5" stroke="#f8ff07"/><circle cx="297.8" cy="264.8" r="1.5" stroke="#d0ff2f"/><circle cx="315.2" cy="230.2" r="1.5" stroke="#e7ff18"/><path d="M297.8 306.8h5m-2.5-2.5v5" stroke="#7aff85"/><circle cx="251.8" cy="338.2" r="1.5" stroke="#b1ff4e"/><circle cx="315.2" cy="321.8" r="1.5" stroke="#89ff76"/><circle cx="271.8" cy="309.2" r="1.5" stroke="#a9ff56"/><circle cx="274.2" cy="254.8" r="1.5" stroke="#e7ff18"/><circle cx="292.2" cy="285.2" r="1.5" stroke="#96ff69"/><circle cx="331.2" cy="231.8" r="1.5" stroke="#fffe00"/><circle cx="322.8" cy="291.8" r="1.5" stroke="#9cff63"/><circle cx="371.8" cy="297.8" r="1.5" stroke="#c6ff39"/><circle cx="312.2" cy="284.8" r="1.5" stroke="#adff52"/><circle cx="329.8" cy="264.8" r="1.5" stroke="#dcff23"/><circle cx="294.8" cy="297.8" r="1.5" stroke="#8dff72"/><circle cx="278.2" cy="305.2" r="1.5" stroke="#88ff77"/><circle cx="311.8" cy="267.8" r="1.5" stroke="#c1ff3e"/><circle cx="270.8" cy="319.2" r="1.5" stroke="#a3ff5c"/><circle cx="268.8" cy="289.8" r="1.5" stroke="#bdff42"/><circle cx="296.2" cy="273.8" r="1.5" stroke="#acff53"/><circle cx="371.8" cy="309.8" r="1.5" stroke="#d0ff2f"/><circle cx="285.2" cy="287.8" r="1.5" stroke="#a9ff56"/><circle cx="311.2" cy="293.2" r="1.5" stroke="#a3ff5c"/><circle cx="304.8" cy="265.8" r="1.5" stroke="#ceff31"/><circle cx="318.8" cy="236.2" r="1.5" stroke="#fff600"/><circle cx="293.2" cy="270.8" r="1.5" stroke="#b1ff4e"/><circle cx="313.2" cy="248.8" r="1.5" stroke="#edff12"/><circle cx="344.2" cy="242.8" r="1.5" stroke="#eaff15"/><circle cx="308.8" cy="261.2" r="1.5" stroke="#cbff34"/><circle cx="272.8" cy="301.8" r="1.5" stroke="#8cff73"/><circle cx="264.2" cy="267.8" r="1.5" stroke="#ceff31"/><circle cx="306.2" cy="244.2" r="1.5" stroke="#f7ff08"/><circle cx="299.2" cy="323.8" r="1.5" stroke="#a3ff5c"/><circle cx="366.8" cy="276.2" r="1.5" stroke="#b9ff46"/><circle cx="245.2" cy="300.8" r="1.5" stroke="#d5ff2a"/><circle cx="296.2" cy="289.2" r="1.5" stroke="#93ff6c"/><circle cx="370.8" cy="216.8" r="1.5" stroke="#fff400"/><circle cx="305.8" cy="258.2" r="1.5" stroke="#d0ff2f"/><circle cx="248.2" cy="267.8" r="1.5" stroke="#e0ff1f"/><circle cx="306.8" cy="269.8" r="1.5" stroke="#c4ff3b"/><circle cx="343.8" cy="234.2" r="1.5" stroke="#fffa00"/><circle cx="351.8" cy="257.8" r="1.5" stroke="#eaff15"/><circle cx="268.8" cy="308.8" r="1.5" stroke="#9aff65"/><circle cx="289.2" cy="290.8" r="1.5" stroke="#95ff6a"/><circle cx="300.2" cy="297.8" r="1.5" stroke="#82ff7d"/><circle cx="287.2" cy="295.8" r="1.5" stroke="#82ff7d"/><path d="M302.2 306.8h5m-2.5-2.5v5" stroke="#77ff88"/><circle cx="366.8" cy="297.8" r="1.5" stroke="#a6ff59"/><path d="M272.2 314.2h5m-2.5-2.5v5" stroke="#77ff88"/><circle cx="319.2" cy="265.2" r="1.5" stroke="#cbff34"/><circle cx="252.8" cy="311.8" r="1.5" stroke="#8dff72"/><circle cx="298.2" cy="339.2" r="1.5" stroke="#8dff72"/><path d="M287.8 306.8h5m-2.5-2.5v5" stroke="#75ff8a"/><circle cx="347.8" cy="231.8" r="1.5" stroke="#a5ff5a"/><circle cx="309.8" cy="294.8" r="1.5" stroke="#a9ff56"/><circle cx="352.8" cy="282.8" r="1.5" stroke="#a1ff5e"/><circle cx="314.8" cy="256.8" r="1.5" stroke="#c3ff3c"/><circle cx="323.8" cy="316.8" r="1.5" stroke="#94ff6b"/><circle cx="318.2" cy="248.8" r="1.5" stroke="#ebff14"/><circle cx="250.2" cy="257.2" r="1.5" stroke="#f9ff06"/><circle cx="280.8" cy="310.2" r="1.5" stroke="#89ff76"/><circle cx="285.8" cy="274.8" r="1.5" stroke="#bdff42"/><circle cx="261.2" cy="290.8" r="1.5" stroke="#afff50"/><circle cx="291.2" cy="235.2" r="1.5" stroke="#f6ff09"/><circle cx="335.8" cy="220.8" r="1.5" stroke="#fff200"/><circle cx="294.2" cy="259.2" r="1.5" stroke="#d7ff28"/><circle cx="348.2" cy="247.2" r="1.5" stroke="#c3ff3c"/><circle cx="376.8" cy="297.2" r="1.5" stroke="#d8ff27"/><circle cx="245.8" cy="271.8" r="1.5" stroke="#f3ff0c"/><circle cx="277.8" cy="307.2" r="1.5" stroke="#8aff75"/><circle cx="309.2" cy="290.2" r="1.5" stroke="#aaff55"/><path d="M288.8 298.8h5m-2.5-2.5v5" stroke="#7cff83"/><path d="M296.2 306.8h5m-2.5-2.5v5" stroke="#7eff81"/><circle cx="299.2" cy="277.2" r="1.5" stroke="#b6ff49"/><circle cx="269.2" cy="315.2" r="1.5" stroke="#8fff70"/><circle cx="291.2" cy="300.2" r="1.5" stroke="#84ff7b"/><circle cx="344.8" cy="278.2" r="1.5" stroke="#d4ff2b"/><circle cx="309.2" cy="304.8" r="1.5" stroke="#8fff70"/><circle cx="283.8" cy="227.8" r="1.5" stroke="#edff12"/><circle cx="311.8" cy="245.8" r="1.5" stroke="#e5ff1a"/><circle cx="343.8" cy="244.2" r="1.5" stroke="#f3ff0c"/><circle cx="316.2" cy="286.2" r="1.5" stroke="#b5ff4a"/><circle cx="363.2" cy="259.2" r="1.5" stroke="#deff21"/><circle cx="372.8" cy="270.8" r="1.5" stroke="#ebff14"/><circle cx="334.2" cy="273.8" r="1.5" stroke="#d4ff2b"/><circle cx="303.2" cy="232.2" r="1.5" stroke="#deff21"/><circle cx="279.8" cy="253.8" r="1.5" stroke="#d7ff28"/><circle cx="307.8" cy="291.2" r="1.5" stroke="#96ff69"/><circle cx="290.2" cy="293.8" r="1.5" stroke="#91ff6e"/><circle cx="286.2" cy="276.8" r="1.5" stroke="#bcff43"/><circle cx="280.8" cy="285.8" r="1.5" stroke="#9cff63"/><circle cx="280.8" cy="278.8" r="1.5" stroke="#b6ff49"/><circle cx="290.2" cy="253.8" r="1.5" stroke="#e2ff1d"/><circle cx="278.2" cy="301.2" r="1.5" stroke="#97ff68"/><circle cx="271.2" cy="293.8" r="1.5" stroke="#8fff70"/><circle cx="245.2" cy="258.2" r="1.5" stroke="#e2ff1d"/><circle cx="285.8" cy="281.2" r="1.5" stroke="#baff45"/><circle cx="269.2" cy="310.8" r="1.5" stroke="#9cff63"/><circle cx="300.2" cy="284.8" r="1.5" stroke="#94ff6b"/><circle cx="302.8" cy="296.8" r="1.5" stroke="#86ff79"/><circle cx="270.2" cy="288.2" r="1.5" stroke="#b5ff4a"/><circle cx="323.2" cy="307.8" r="1.5" stroke="#86ff79"/><circle cx="301.8" cy="277.2" r="1.5" stroke="#aaff55"/><circle cx="290.2" cy="258.8" r="1.5" stroke="#d6ff29"/><path d="M300.2 311.2h5m-2.5-2.5v5" stroke="#7cff83"/><circle cx="307.8" cy="236.8" r="1.5" stroke="#eaff15"/><circle cx="284.8" cy="329.8" r="1.5" stroke="#9cff63"/><circle cx="285.2" cy="269.8" r="1.5" stroke="#cfff30"/><circle cx="360.8" cy="283.2" r="1.5" stroke="#b0ff4f"/><circle cx="344.2" cy="271.8" r="1.5" stroke="#d2ff2d"/><circle cx="288.2" cy="297.8" r="1.5" stroke="#8aff75"/><circle cx="301.2" cy="303.2" r="1.5" stroke="#8fff70"/><circle cx="311.2" cy="276.2" r="1.5" stroke="#a9ff56"/><circle cx="287.8" cy="293.8" r="1.5" stroke="#8dff72"/><path d="M285.8 301.2h5m-2.5-2.5v5" stroke="#7aff85"/><circle cx="260.8" cy="281.8" r="1.5" stroke="#bbff44"/><circle cx="289.8" cy="245.2" r="1.5" stroke="#e4ff1b"/><circle cx="355.2" cy="289.2" r="1.5" stroke="#abff54"/><circle cx="352.2" cy="212.8" r="1.5" stroke="#f9ff06"/><circle cx="251.8" cy="294.2" r="1.5" stroke="#d8ff27"/><circle cx="251.8" cy="242.2" r="1.5" stroke="#f9ff06"/><circle cx="283.2" cy="249.8" r="1.5" stroke="#eaff15"/><circle cx="337.2" cy="226.2" r="1.5" stroke="#ffe800"/><circle cx="284.2" cy="267.2" r="1.5" stroke="#d3ff2c"/><circle cx="275.8" cy="228.8" r="1.5" stroke="#f1ff0e"/><circle cx="263.2" cy="326.2" r="1.5" stroke="#b0ff4f"/><circle cx="273.2" cy="295.8" r="1.5" stroke="#abff54"/><circle cx="300.8" cy="255.2" r="1.5" stroke="#efff10"/><circle cx="309.2" cy="322.2" r="1.5" stroke="#91ff6e"/><circle cx="294.2" cy="269.8" r="1.5" stroke="#c7ff38"/><circle cx="291.2" cy="300.8" r="1.5" stroke="#8eff71"/><circle cx="285.8" cy="287.8" r="1.5" stroke="#98ff67"/><path d="M293.8 318.8h5m-2.5-2.5v5" stroke="#7fff80"/><circle cx="235.8" cy="249.8" r="1.5" stroke="#fbff04"/><circle cx="365.8" cy="315.8" r="1.5" stroke="#cbff34"/><circle cx="268.8" cy="244.2" r="1.5" stroke="#f2ff0d"/><circle cx="302.2" cy="294.8" r="1.5" stroke="#91ff6e"/><circle cx="321.8" cy="250.2" r="1.5" stroke="#e9ff16"/><circle cx="279.8" cy="290.8" r="1.5" stroke="#96ff69"/><circle cx="285.8" cy="283.8" r="1.5" stroke="#96ff69"/><circle cx="292.2" cy="302.8" r="1.5" stroke="#89ff76"/><circle cx="270.8" cy="303.2" r="1.5" stroke="#9eff61"/><circle cx="299.8" cy="303.2" r="1.5" stroke="#84ff7b"/><circle cx="334.8" cy="246.2" r="1.5" stroke="#f6ff09"/><circle cx="366.2" cy="292.2" r="1.5" stroke="#c9ff36"/><circle cx="345.2" cy="254.2" r="1.5" stroke="#ebff14"/><circle cx="289.2" cy="310.2" r="1.5" stroke="#87ff78"/><circle cx="265.8" cy="290.8" r="1.5" stroke="#a7ff58"/><circle cx="286.2" cy="250.2" r="1.5" stroke="#d9ff26"/><circle cx="323.2" cy="276.2" r="1.5" stroke="#beff41"/><circle cx="227.2" cy="277.2" r="1.5" stroke="#f3ff0c"/><circle cx="363.8" cy="278.2" r="1.5" stroke="#d9ff26"/><path d="M291.8 340.8h5m-2.5-2.5v5" stroke="#69ff96"/><path d="M296.8 334.8h5m-2.5-2.5v5" stroke="#73ff8c"/><circle cx="361.2" cy="253.8" r="1.5" stroke="#b5ff4a"/><circle cx="298.8" cy="337.8" r="1.5" stroke="#85ff7a"/><circle cx="347.8" cy="310.2" r="1.5" stroke="#b4ff4b"/><circle cx="289.8" cy="304.8" r="1.5" stroke="#8bff74"/><circle cx="277.2" cy="323.2" r="1.5" stroke="#98ff67"/><circle cx="292.8" cy="292.2" r="1.5" stroke="#94ff6b"/><circle cx="269.8" cy="305.2" r="1.5" stroke="#a1ff5e"/><circle cx="273.2" cy="306.2" r="1.5" stroke="#9bff64"/><circle cx="269.2" cy="326.2" r="1.5" stroke="#98ff67"/><circle cx="310.8" cy="282.8" r="1.5" stroke="#baff45"/><circle cx="288.8" cy="290.2" r="1.5" stroke="#a8ff57"/><circle cx="296.2" cy="293.8" r="1.5" stroke="#8eff71"/><circle cx="268.2" cy="294.2" r="1.5" stroke="#a0ff5f"/><path d="M266.8 321.8h5m-2.5-2.5v5" stroke="#7eff81"/><circle cx="279.8" cy="286.2" r="1.5" stroke="#aaff55"/><circle cx="296.8" cy="255.2" r="1.5" stroke="#e2ff1d"/><circle cx="321.8" cy="298.2" r="1.5" stroke="#94ff6b"/><circle cx="326.2" cy="304.8" r="1.5" stroke="#8eff71"/><circle cx="347.2" cy="220.8" r="1.5" stroke="#fff400"/><circle cx="285.2" cy="307.2" r="1.5" stroke="#94ff6b"/><circle cx="341.8" cy="282.2" r="1.5" stroke="#a6ff59"/><circle cx="329.2" cy="224.2" r="1.5" stroke="#ffe800"/><circle cx="275.2" cy="317.8" r="1.5" stroke="#a1ff5e"/><circle cx="333.8" cy="273.2" r="1.5" stroke="#baff45"/><circle cx="356.2" cy="310.8" r="1.5" stroke="#c9ff36"/><circle cx="300.2" cy="265.8" r="1.5" stroke="#cfff30"/><path d="M289.2 302.2h5m-2.5-2.5v5" stroke="#7bff84"/><circle cx="284.2" cy="297.2" r="1.5" stroke="#91ff6e"/><circle cx="294.2" cy="266.8" r="1.5" stroke="#ceff31"/><circle cx="298.2" cy="272.8" r="1.5" stroke="#f0ff0f"/><circle cx="297.8" cy="332.8" r="1.5" stroke="#a6ff59"/><circle cx="289.8" cy="236.8" r="1.5" stroke="#e7ff18"/><circle cx="298.2" cy="253.2" r="1.5" stroke="#e6ff19"/><circle cx="251.8" cy="236.2" r="1.5" stroke="#fffc00"/><circle cx="274.2" cy="260.8" r="1.5" stroke="#d6ff29"/><circle cx="324.8" cy="264.8" r="1.5" stroke="#d2ff2d"/><circle cx="352.2" cy="287.2" r="1.5" stroke="#d3ff2c"/><circle cx="256.2" cy="262.8" r="1.5" stroke="#e4ff1b"/><circle cx="336.2" cy="242.2" r="1.5" stroke="#b8ff47"/><circle cx="344.8" cy="255.2" r="1.5" stroke="#fcff03"/><circle cx="285.2" cy="300.8" r="1.5" stroke="#8eff71"/><circle cx="343.8" cy="265.2" r="1.5" stroke="#e0ff1f"/><circle cx="291.8" cy="301.8" r="1.5" stroke="#89ff76"/><circle cx="271.8" cy="273.2" r="1.5" stroke="#cbff34"/><circle cx="289.2" cy="299.8" r="1.5" stroke="#87ff78"/><circle cx="262.8" cy="259.8" r="1.5" stroke="#d8ff27"/><circle cx="297.2" cy="293.2" r="1.5" stroke="#92ff6d"/><circle cx="340.2" cy="258.8" r="1.5" stroke="#ecff13"/><circle cx="380.8" cy="291.8" r="1.5" stroke="#9fff60"/><path d="M317.8 301.2h5m-2.5-2.5v5" stroke="#7eff81"/><circle cx="313.8" cy="254.2" r="1.5" stroke="#e2ff1d"/><circle cx="269.8" cy="303.2" r="1.5" stroke="#a2ff5d"/><circle cx="351.2" cy="236.2" r="1.5" stroke="#fff000"/><circle cx="294.8" cy="276.2" r="1.5" stroke="#bfff40"/><circle cx="335.8" cy="233.2" r="1.5" stroke="#fffe00"/><circle cx="289.8" cy="304.2" r="1.5" stroke="#8cff73"/><circle cx="376.8" cy="275.2" r="1.5" stroke="#d5ff2a"/><circle cx="356.2" cy="279.2" r="1.5" stroke="#b3ff4c"/><path d="M292.8 298.2h5m-2.5-2.5v5" stroke="#7dff82"/><circle cx="337.2" cy="236.8" r="1.5" stroke="#fbff04"/><circle cx="363.8" cy="228.2" r="1.5" stroke="#fffe00"/><circle cx="243.8" cy="250.2" r="1.5" stroke="#ecff13"/><circle cx="308.2" cy="223.8" r="1.5" stroke="#eaff15"/><circle cx="276.2" cy="263.8" r="1.5" stroke="#d9ff26"/><circle cx="379.2" cy="266.2" r="1.5" stroke="#c5ff3a"/><circle cx="282.8" cy="320.8" r="1.5" stroke="#9cff63"/><circle cx="295.8" cy="294.8" r="1.5" stroke="#91ff6e"/><circle cx="293.2" cy="231.2" r="1.5" stroke="#f6ff09"/><circle cx="283.2" cy="298.8" r="1.5" stroke="#82ff7d"/><circle cx="293.2" cy="262.8" r="1.5" stroke="#d8ff27"/><circle cx="299.2" cy="268.2" r="1.5" stroke="#d5ff2a"/><circle cx="284.8" cy="290.2" r="1.5" stroke="#92ff6d"/><circle cx="310.8" cy="280.8" r="1.5" stroke="#b4ff4b"/><circle cx="262.8" cy="287.2" r="1.5" stroke="#bfff40"/><circle cx="284.2" cy="240.2" r="1.5" stroke="#efff10"/><circle cx="365.2" cy="232.2" r="1.5" stroke="#b0ff4f"/><circle cx="319.8" cy="253.8" r="1.5" stroke="#caff35"/><circle cx="291.8" cy="303.8" r="1.5" stroke="#86ff79"/><circle cx="264.2" cy="233.2" r="1.5" stroke="#f9ff06"/><circle cx="254.2" cy="303.2" r="1.5" stroke="#bcff43"/><circle cx="291.8" cy="305.2" r="1.5" stroke="#82ff7d"/><circle cx="274.8" cy="294.2" r="1.5" stroke="#8fff70"/><circle cx="342.2" cy="279.8" r="1.5" stroke="#c1ff3e"/><circle cx="268.2" cy="336.2" r="1.5" stroke="#81ff7e"/><circle cx="282.2" cy="237.2" r="1.5" stroke="#f2ff0d"/><circle cx="336.8" cy="274.2" r="1.5" stroke="#e2ff1d"/><circle cx="291.8" cy="317.8" r="1.5" stroke="#89ff76"/><path d="M291.8 311.2h5m-2.5-2.5v5" stroke="#76ff89"/><circle cx="338.2" cy="251.8" r="1.5" stroke="#daff25"/><circle cx="301.2" cy="302.2" r="1.5" stroke="#93ff6c"/><circle cx="375.8" cy="218.8" r="1.5" stroke="#bcff43"/><circle cx="309.2" cy="279.8" r="1.5" stroke="#a3ff5c"/><circle cx="358.2" cy="232.8" r="1.5" stroke="#fff400"/><circle cx="349.8" cy="300.2" r="1.5" stroke="#a7ff58"/><circle cx="299.8" cy="317.2" r="1.5" stroke="#a0ff5f"/><circle cx="272.2" cy="302.8" r="1.5" stroke="#99ff66"/><circle cx="271.2" cy="314.2" r="1.5" stroke="#9cff63"/><circle cx="291.8" cy="284.2" r="1.5" stroke="#aaff55"/><circle cx="272.2" cy="282.2" r="1.5" stroke="#b6ff49"/><circle cx="289.8" cy="293.2" r="1.5" stroke="#83ff7c"/><circle cx="295.8" cy="312.8" r="1.5" stroke="#9aff65"/></g>
<rect x="593" y="341" width="15" height="242" fill="url(#cb)"/>
<path d="M608.5 341V583M608 582.0H615M608 578.5H615M608 574.5H612M608 570.5H612M608 566.5H612M608 562.5H612M608 558.5H615M608 554.5H612M608 550.5H612M608 547.5H612M608 543.5H612M608 539.5H615M608 535.5H612M608 531.5H612M608 527.5H612M608 523.5H612M608 519.5H615M608 516.5H612M608 512.5H612M608 508.5H612M608 504.5H612M608 500.5H615M608 496.5H612M608 492.5H612M608 489.5H612M608 485.5H612M608 481.5H615M608 477.5H612M608 473.5H612M608 469.5H612M608 465.5H612M608 461.5H615M608 458.5H612M608 454.5H612M608 450.5H612M608 446.5H612M608 442.5H615M608 438.5H612M608 434.5H612M608 430.5H612M608 427.5H612M608 423.5H615M608 419.5H612M608 415.5H612M608 411.5H612M608 407.5H612M608 403.5H615M608 400.5H612M608 396.5H612M608 392.5H612M608 388.5H612M608 384.5H615M608 380.5H612M608 376.5H612M608 372.5H612M608 369.5H612M608 365.5H615M608 361.5H612M608 357.5H612M608 353.5H612M608 349.5H612M608 345.5H615M608 341.5H615" stroke="#000" stroke-width="1" fill="none"/>
<g font-family="DejaVu Sans,Liberation Sans,sans-serif" font-weight="bold" font-size="10.8" fill="#000">
<text x="617.4" y="345.0">3.1</text>
<text x="617.4" y="369.0">2.5</text>
<text x="617.4" y="388.0">2.0</text>
<text x="617.4" y="407.0">1.5</text>
<text x="617.4" y="427.0">1.0</text>
<text x="617.4" y="446.0">0.5</text>
<text x="617.4" y="465.0">0</text>
<text x="617.4" y="485.0">-0.5</text>
<text x="617.4" y="504.0">-1.0</text>
<text x="617.4" y="523.0">-1.5</text>
<text x="617.4" y="543.0">-2.0</text>
<text x="617.4" y="562.0">-2.5</text>
<text x="617.4" y="585.0">-3.1</text>
</g>
<text transform="translate(657.3,493) rotate(-90)" font-family="DejaVu Sans,Liberation Sans,sans-serif" font-weight="bold" font-size="9" textLength="53.4" lengthAdjust="spacing">Doppler, Hz</text>
<path d="M669 402.5H676M672.5 399V406" stroke="#0000e6" stroke-width="1" fill="none"/>
<text x="682.3" y="406" font-family="DejaVu Sans,Liberation Sans,sans-serif" font-weight="bold" font-size="10" fill="#0000e6">Positive</text>
<circle cx="672.8" cy="522.8" r="2.5" stroke="#e60000" stroke-width="1" fill="none"/>
<text x="682.3" y="526" font-family="DejaVu Sans,Liberation Sans,sans-serif" font-weight="bold" font-size="10" letter-spacing="0.14" fill="#e60000">Negative</text>
<g font-family="DejaVu Sans,Liberation Sans,sans-serif" font-size="9.3">
<text x="654.3" y="592.7">ShowSkymap</text>
<text x="720.1" y="592.7">v</text>
<text x="729.1" y="592.7">1.0</text>
<text x="753.2" y="592.7">SD</text>
<text x="769.8" y="592.7">v</text>
<text x="778.2" y="592.7">5.1</text>
</g>
<path d="M38.7 13.2C30 9.5 17 12 12.2 22C9.5 28 10.5 37 14.8 42.8C12.8 34 13.5 26 18 20C23 13.5 31 12 38.7 13.2Z" fill="#3394c0"/>
<text x="48.8" y="30.9" font-family="Liberation Serif,serif" font-size="11.3" fill="#2e1c2e" stroke="#2e1c2e" stroke-width="0.25">Lowell</text>
<text x="19.8" y="43.2" font-family="Liberation Sans,sans-serif" font-size="10" fill="#8c2060" stroke="#8c2060" stroke-width="0.4" textLength="60" lengthAdjust="spacing">DIGISONDE</text>
<path d="M725.7 320C725.6 318 724 317.2 722.9 318.6" stroke="#333" stroke-width="0.9" fill="none" stroke-linecap="round"/><path d="M720.2 319.3L723.9 318.5L723.3 320.9L721.6 321.3Z" fill="#111"/>
</svg><svg width="800" height="600" viewBox="0 0 800 600" fill="#000">
<text x="399.40" y="19.00" font-family="DejaVu Sans Mono,Liberation Mono,monospace" font-weight="bold" font-size="13" letter-spacing="0.174">STATION</text>
<text x="463.40" y="19.00" font-family="DejaVu Sans Mono,Liberation Mono,monospace" font-weight="bold" font-size="13" letter-spacing="0.174">NAME</text>
<text x="527.40" y="19.00" font-family="DejaVu Sans Mono,Liberation Mono,monospace" font-weight="bold" font-size="13" letter-spacing="0.174">YYYY</text>
<text x="567.40" y="19.00" font-family="DejaVu Sans Mono,Liberation Mono,monospace" font-weight="bold" font-size="13" letter-spacing="0.174">DATE</text>
<text x="615.40" y="19.00" font-family="DejaVu Sans Mono,Liberation Mono,monospace" font-weight="bold" font-size="13" letter-spacing="0.174">DDD</text>
<text x="647.40" y="19.00" font-family="DejaVu Sans Mono,Liberation Mono,monospace" font-weight="bold" font-size="13" letter-spacing="0.174">HHMMSS</text>
<text x="703.40" y="19.00" font-family="DejaVu Sans Mono,Liberation Mono,monospace" font-weight="bold" font-size="13" letter-spacing="0.174">AXN</text>
<text x="735.40" y="19.00" font-family="DejaVu Sans Mono,Liberation Mono,monospace" font-weight="bold" font-size="13" letter-spacing="0.174">PPS</text>
<text x="767.40" y="19.00" font-family="DejaVu Sans Mono,Liberation Mono,monospace" font-weight="bold" font-size="13" letter-spacing="0.174">IGP</text>
<text x="399.40" y="35.80" font-family="DejaVu Sans Mono,Liberation Mono,monospace" font-weight="bold" font-size="13" letter-spacing="0.174">Guam</text>
<text x="527.40" y="35.80" font-family="DejaVu Sans Mono,Liberation Mono,monospace" font-weight="bold" font-size="13" letter-spacing="0.174">2021</text>
<text x="567.40" y="35.80" font-family="DejaVu Sans Mono,Liberation Mono,monospace" font-weight="bold" font-size="13" letter-spacing="0.174">Aug02</text>
<text x="615.40" y="35.80" font-family="DejaVu Sans Mono,Liberation Mono,monospace" font-weight="bold" font-size="13" letter-spacing="0.174">214</text>
<text x="647.40" y="35.80" font-family="DejaVu Sans Mono,Liberation Mono,monospace" font-weight="bold" font-size="13" letter-spacing="0.174">074210</text>
<text x="703.40" y="35.80" font-family="DejaVu Sans Mono,Liberation Mono,monospace" font-weight="bold" font-size="13" letter-spacing="0.174">417</text>
<text x="735.40" y="35.80" font-family="DejaVu Sans Mono,Liberation Mono,monospace" font-weight="bold" font-size="13" letter-spacing="0.174">100</text>
<text x="767.40" y="35.80" font-family="DejaVu Sans Mono,Liberation Mono,monospace" font-weight="bold" font-size="13" letter-spacing="0.174">-8D</text>
<text x="594.20" y="71.00" font-family="DejaVu Sans Mono,Liberation Mono,monospace" font-size="12" letter-spacing="-0.224">Num</text>
<text x="622.20" y="71.00" font-family="DejaVu Sans Mono,Liberation Mono,monospace" font-size="12" letter-spacing="-0.224">of</text>
<text x="643.20" y="71.00" font-family="DejaVu Sans Mono,Liberation Mono,monospace" font-size="12" letter-spacing="-0.224">Sources</text>
<text x="762.80" y="71.00" font-family="DejaVu Sans Mono,Liberation Mono,monospace" font-size="12" letter-spacing="-0.224">2476</text>
<text x="594.20" y="85.00" font-family="DejaVu Sans Mono,Liberation Mono,monospace" font-size="12" letter-spacing="-0.224">Min</text>
<text x="622.20" y="85.00" font-family="DejaVu Sans Mono,Liberation Mono,monospace" font-size="12" letter-spacing="-0.224">Freq,</text>
<text x="664.20" y="85.00" font-family="DejaVu Sans Mono,Liberation Mono,monospace" font-size="12" letter-spacing="-0.224">kHz</text>
<text x="762.80" y="85.00" font-family="DejaVu Sans Mono,Liberation Mono,monospace" font-size="12" letter-spacing="-0.224">6100</text>
<text x="594.20" y="99.00" font-family="DejaVu Sans Mono,Liberation Mono,monospace" font-size="12" letter-spacing="-0.224">Max</text>
<text x="622.20" y="99.00" font-family="DejaVu Sans Mono,Liberation Mono,monospace" font-size="12" letter-spacing="-0.224">Freq,</text>
<text x="664.20" y="99.00" font-family="DejaVu Sans Mono,Liberation Mono,monospace" font-size="12" letter-spacing="-0.224">kHz</text>
<text x="762.80" y="99.00" font-family="DejaVu Sans Mono,Liberation Mono,monospace" font-size="12" letter-spacing="-0.224">6450</text>
<text x="594.20" y="113.00" font-family="DejaVu Sans Mono,Liberation Mono,monospace" font-size="12" letter-spacing="-0.224">Min</text>
<text x="622.20" y="113.00" font-family="DejaVu Sans Mono,Liberation Mono,monospace" font-size="12" letter-spacing="-0.224">Range,</text>
<text x="671.20" y="113.00" font-family="DejaVu Sans Mono,Liberation Mono,monospace" font-size="12" letter-spacing="-0.224">km</text>
<text x="769.80" y="113.00" font-family="DejaVu Sans Mono,Liberation Mono,monospace" font-size="12" letter-spacing="-0.224">290</text>
<text x="594.20" y="127.00" font-family="DejaVu Sans Mono,Liberation Mono,monospace" font-size="12" letter-spacing="-0.224">Max</text>
<text x="622.20" y="127.00" font-family="DejaVu Sans Mono,Liberation Mono,monospace" font-size="12" letter-spacing="-0.224">Range,</text>
<text x="671.20" y="127.00" font-family="DejaVu Sans Mono,Liberation Mono,monospace" font-size="12" letter-spacing="-0.224">km</text>
<text x="769.80" y="127.00" font-family="DejaVu Sans Mono,Liberation Mono,monospace" font-size="12" letter-spacing="-0.224">310</text>
<text x="594.20" y="141.00" font-family="DejaVu Sans Mono,Liberation Mono,monospace" font-size="12" letter-spacing="-0.224">Max</text>
<text x="622.20" y="141.00" font-family="DejaVu Sans Mono,Liberation Mono,monospace" font-size="12" letter-spacing="-0.224">Amp,</text>
<text x="657.20" y="141.00" font-family="DejaVu Sans Mono,Liberation Mono,monospace" font-size="12" letter-spacing="-0.224">dB</text>
<text x="776.80" y="141.00" font-family="DejaVu Sans Mono,Liberation Mono,monospace" font-size="12" letter-spacing="-0.224">65</text>
<text x="594.20" y="155.00" font-family="DejaVu Sans Mono,Liberation Mono,monospace" font-size="12" letter-spacing="-0.224">Max</text>
<text x="622.20" y="155.00" font-family="DejaVu Sans Mono,Liberation Mono,monospace" font-size="12" letter-spacing="-0.224">SNR</text>
<text x="650.20" y="155.00" font-family="DejaVu Sans Mono,Liberation Mono,monospace" font-size="12" letter-spacing="-0.224">Amp,</text>
<text x="685.20" y="155.00" font-family="DejaVu Sans Mono,Liberation Mono,monospace" font-size="12" letter-spacing="-0.224">dB</text>
<text x="776.80" y="155.00" font-family="DejaVu Sans Mono,Liberation Mono,monospace" font-size="12" letter-spacing="-0.224">61</text>
<text x="594.20" y="169.00" font-family="DejaVu Sans Mono,Liberation Mono,monospace" font-size="12" letter-spacing="-0.224">Min</text>
<text x="622.20" y="169.00" font-family="DejaVu Sans Mono,Liberation Mono,monospace" font-size="12" letter-spacing="-0.224">SNR</text>
<text x="650.20" y="169.00" font-family="DejaVu Sans Mono,Liberation Mono,monospace" font-size="12" letter-spacing="-0.224">Amp,</text>
<text x="685.20" y="169.00" font-family="DejaVu Sans Mono,Liberation Mono,monospace" font-size="12" letter-spacing="-0.224">dB</text>
<text x="776.80" y="169.00" font-family="DejaVu Sans Mono,Liberation Mono,monospace" font-size="12" letter-spacing="-0.224">11</text>
<text x="594.20" y="183.00" font-family="DejaVu Sans Mono,Liberation Mono,monospace" font-size="12" letter-spacing="-0.224">Avg</text>
<text x="622.20" y="183.00" font-family="DejaVu Sans Mono,Liberation Mono,monospace" font-size="12" letter-spacing="-0.224">SNR</text>
<text x="650.20" y="183.00" font-family="DejaVu Sans Mono,Liberation Mono,monospace" font-size="12" letter-spacing="-0.224">Amp,</text>
<text x="685.20" y="183.00" font-family="DejaVu Sans Mono,Liberation Mono,monospace" font-size="12" letter-spacing="-0.224">dB</text>
<text x="776.80" y="183.00" font-family="DejaVu Sans Mono,Liberation Mono,monospace" font-size="12" letter-spacing="-0.224">27</text>
<text x="594.20" y="197.00" font-family="DejaVu Sans Mono,Liberation Mono,monospace" font-size="12" letter-spacing="-0.224">Max</text>
<text x="622.20" y="197.00" font-family="DejaVu Sans Mono,Liberation Mono,monospace" font-size="12" letter-spacing="-0.224">RMS</text>
<text x="650.20" y="197.00" font-family="DejaVu Sans Mono,Liberation Mono,monospace" font-size="12" letter-spacing="-0.224">Err,</text>
<text x="685.20" y="197.00" font-family="DejaVu Sans Mono,Liberation Mono,monospace" font-size="12" letter-spacing="-0.224">deg</text>
<text x="762.80" y="197.00" font-family="DejaVu Sans Mono,Liberation Mono,monospace" font-size="12" letter-spacing="-0.224">44.0</text>
<text x="594.20" y="211.00" font-family="DejaVu Sans Mono,Liberation Mono,monospace" font-size="12" letter-spacing="-0.224">Min</text>
<text x="622.20" y="211.00" font-family="DejaVu Sans Mono,Liberation Mono,monospace" font-size="12" letter-spacing="-0.224">RMS</text>
<text x="650.20" y="211.00" font-family="DejaVu Sans Mono,Liberation Mono,monospace" font-size="12" letter-spacing="-0.224">Err,</text>
<text x="685.20" y="211.00" font-family="DejaVu Sans Mono,Liberation Mono,monospace" font-size="12" letter-spacing="-0.224">deg</text>
<text x="769.80" y="211.00" font-family="DejaVu Sans Mono,Liberation Mono,monospace" font-size="12" letter-spacing="-0.224">0.0</text>
<text x="594.20" y="225.00" font-family="DejaVu Sans Mono,Liberation Mono,monospace" font-size="12" letter-spacing="-0.224">Avg</text>
<text x="622.20" y="225.00" font-family="DejaVu Sans Mono,Liberation Mono,monospace" font-size="12" letter-spacing="-0.224">RMS</text>
<text x="650.20" y="225.00" font-family="DejaVu Sans Mono,Liberation Mono,monospace" font-size="12" letter-spacing="-0.224">Err,</text>
<text x="685.20" y="225.00" font-family="DejaVu Sans Mono,Liberation Mono,monospace" font-size="12" letter-spacing="-0.224">deg</text>
<text x="769.80" y="225.00" font-family="DejaVu Sans Mono,Liberation Mono,monospace" font-size="12" letter-spacing="-0.224">5.0</text>
<text x="594.20" y="239.00" font-family="DejaVu Sans Mono,Liberation Mono,monospace" font-size="12" letter-spacing="-0.224">Doppler</text>
<text x="650.20" y="239.00" font-family="DejaVu Sans Mono,Liberation Mono,monospace" font-size="12" letter-spacing="-0.224">Res,</text>
<text x="685.20" y="239.00" font-family="DejaVu Sans Mono,Liberation Mono,monospace" font-size="12" letter-spacing="-0.224">Hz</text>
<text x="748.80" y="239.00" font-family="DejaVu Sans Mono,Liberation Mono,monospace" font-size="12" letter-spacing="-0.224">0.0488</text>
<text x="594.20" y="253.00" font-family="DejaVu Sans Mono,Liberation Mono,monospace" font-size="12" letter-spacing="-0.224">CIT,</text>
<text x="629.20" y="253.00" font-family="DejaVu Sans Mono,Liberation Mono,monospace" font-size="12" letter-spacing="-0.224">sec</text>
<text x="755.80" y="253.00" font-family="DejaVu Sans Mono,Liberation Mono,monospace" font-size="12" letter-spacing="-0.224">20.48</text>
<text x="594.20" y="267.00" font-family="DejaVu Sans Mono,Liberation Mono,monospace" font-size="12" letter-spacing="-0.224">Num</text>
<text x="622.20" y="267.00" font-family="DejaVu Sans Mono,Liberation Mono,monospace" font-size="12" letter-spacing="-0.224">of</text>
<text x="643.20" y="267.00" font-family="DejaVu Sans Mono,Liberation Mono,monospace" font-size="12" letter-spacing="-0.224">CITs</text>
<text x="783.80" y="267.00" font-family="DejaVu Sans Mono,Liberation Mono,monospace" font-size="12" letter-spacing="-0.224">6</text>
<text x="594.20" y="281.00" font-family="DejaVu Sans Mono,Liberation Mono,monospace" font-size="12" letter-spacing="-0.224">Polarization</text>
<text x="748.80" y="281.00" font-family="DejaVu Sans Mono,Liberation Mono,monospace" font-size="12" letter-spacing="-0.224">O-mode</text>
<text x="594.20" y="295.00" font-family="DejaVu Sans Mono,Liberation Mono,monospace" font-size="12" letter-spacing="-0.224">Center</text>
<text x="643.20" y="295.00" font-family="DejaVu Sans Mono,Liberation Mono,monospace" font-size="12" letter-spacing="-0.224">of</text>
<text x="664.20" y="295.00" font-family="DejaVu Sans Mono,Liberation Mono,monospace" font-size="12" letter-spacing="-0.224">Sources,</text>
<text x="727.20" y="295.00" font-family="DejaVu Sans Mono,Liberation Mono,monospace" font-size="12" letter-spacing="-0.224">deg:</text>
<text x="664.20" y="309.00" font-family="DejaVu Sans Mono,Liberation Mono,monospace" font-size="12" letter-spacing="-0.224">Zenith</text>
<text x="769.80" y="309.00" font-family="DejaVu Sans Mono,Liberation Mono,monospace" font-size="12" letter-spacing="-0.224">5.6</text>
<text x="664.20" y="323.00" font-family="DejaVu Sans Mono,Liberation Mono,monospace" font-size="12" letter-spacing="-0.224">Azimuth</text>
<text x="783.80" y="323.00" font-family="DejaVu Sans Mono,Liberation Mono,monospace" font-size="12" letter-spacing="-0.224">3</text>
<text x="281.6" y="56.8" font-family="DejaVu Sans Mono,Liberation Mono,monospace" font-weight="bold" font-size="12" letter-spacing="-0.224">North</text>
<text x="15.8" y="317.7" font-family="DejaVu Sans Mono,Liberation Mono,monospace" font-weight="bold" font-size="12" letter-spacing="-0.224">West</text>
<text x="281.1 288.5 295.4 303 308.9" y="578" font-family="DejaVu Sans,Liberation Sans,sans-serif" font-weight="bold" font-size="12">South</text>
<text x="552 559.6 566.9 573.5" y="318" font-family="DejaVu Sans,Liberation Sans,sans-serif" font-weight="bold" font-size="12">East</text>
<text x="11.40" y="592.30" font-family="DejaVu Sans Mono,Liberation Mono,monospace" font-style="italic" font-size="12" letter-spacing="-0.224">Geographic</text>
<text x="88.40" y="592.30" font-family="DejaVu Sans Mono,Liberation Mono,monospace" font-style="italic" font-size="12" letter-spacing="-0.224">coordinates</text>
<text x="419.20" y="592.30" font-family="DejaVu Sans Mono,Liberation Mono,monospace" font-style="italic" font-size="12" letter-spacing="-0.224">Zenith:</text>
<text x="475.20" y="592.30" font-family="DejaVu Sans Mono,Liberation Mono,monospace" font-style="italic" font-size="12" letter-spacing="-0.224">max</text>
<text x="503.20" y="592.30" font-family="DejaVu Sans Mono,Liberation Mono,monospace" font-style="italic" font-size="12" letter-spacing="-0.224">40°</text>
<text x="533.80" y="592.30" font-family="DejaVu Sans Mono,Liberation Mono,monospace" font-style="italic" font-size="12" letter-spacing="-0.224">step</text>
<text x="568.80" y="592.30" font-family="DejaVu Sans Mono,Liberation Mono,monospace" font-style="italic" font-size="12" letter-spacing="-0.224">5°</text>
</svg>
</body></html>
